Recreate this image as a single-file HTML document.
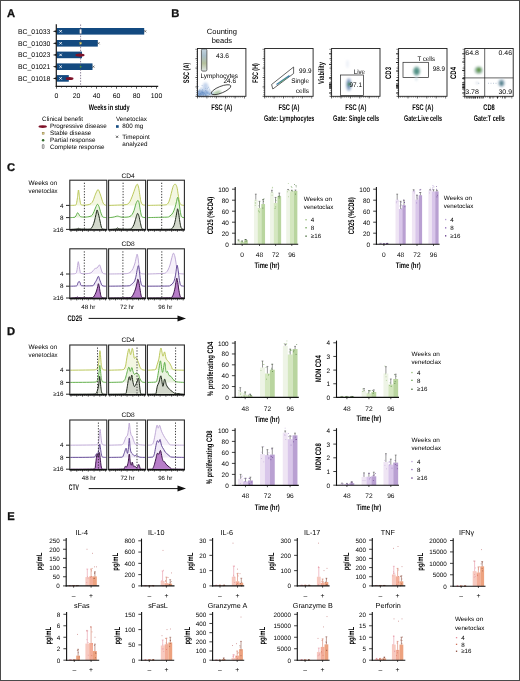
<!DOCTYPE html>
<html><head><meta charset="utf-8"><style>
html,body{margin:0;padding:0;background:#fff;}
svg{display:block;}
text{font-family:"Liberation Sans", sans-serif;}
.c{font-weight:bold;}
text{text-rendering:geometricPrecision;}
svg{will-change:transform;}
</style></head><body>
<svg width="520" height="681" viewBox="0 0 520 681">
<defs><filter id="sf" x="-50%" y="-50%" width="200%" height="200%"><feGaussianBlur stdDeviation="0.9"/></filter></defs>
<rect width="520" height="681" fill="#fff"/>
<rect x="0.5" y="0.5" width="519" height="680" fill="none" stroke="#4a4a4a" stroke-width="1"/>
<text x="7.1" y="16.9" font-size="11.2" font-weight="bold" fill="#111" stroke="#111" stroke-width="0.3">A</text>
<text x="171.3" y="16.9" font-size="11.2" font-weight="bold" fill="#111" stroke="#111" stroke-width="0.3">B</text>
<text x="7.1" y="170.9" font-size="11.2" font-weight="bold" fill="#111" stroke="#111" stroke-width="0.3">C</text>
<text x="7.1" y="334.9" font-size="11.2" font-weight="bold" fill="#111" stroke="#111" stroke-width="0.3">D</text>
<text x="7.3" y="520.2" font-size="11.2" font-weight="bold" fill="#111" stroke="#111" stroke-width="0.3">E</text>
<text x="50.4" y="33.8" font-size="6.9" text-anchor="end" textLength="32.4" lengthAdjust="spacingAndGlyphs">BC_01033</text>
<rect x="56.5" y="28" width="87.7" height="6.6" fill="#134a80"/>
<path d="M56.3 30.2 L52.8 31.3 L56.3 32.4 Z" fill="#1a1a1a"/>
<path d="M59.4 30.1L61.8 32.5M59.4 32.5L61.8 30.1" fill="none" stroke="#fff" stroke-width="0.9"/>
<text x="50.4" y="45.8" font-size="6.9" text-anchor="end" textLength="32.4" lengthAdjust="spacingAndGlyphs">BC_01030</text>
<rect x="56.5" y="40" width="41.3" height="6.6" fill="#134a80"/>
<path d="M56.3 42.2 L52.8 43.3 L56.3 44.4 Z" fill="#1a1a1a"/>
<path d="M59.4 42.1L61.8 44.5M59.4 44.5L61.8 42.1" fill="none" stroke="#fff" stroke-width="0.9"/>
<text x="50.4" y="57.4" font-size="6.9" text-anchor="end" textLength="32.4" lengthAdjust="spacingAndGlyphs">BC_01023</text>
<rect x="56.5" y="51.6" width="25.5" height="6.6" fill="#134a80"/>
<path d="M56.3 53.8 L52.8 54.9 L56.3 56 Z" fill="#1a1a1a"/>
<path d="M59.4 53.7L61.8 56.1M59.4 56.1L61.8 53.7" fill="none" stroke="#fff" stroke-width="0.9"/>
<text x="50.4" y="69.2" font-size="6.9" text-anchor="end" textLength="32.4" lengthAdjust="spacingAndGlyphs">BC_01021</text>
<rect x="56.5" y="63.4" width="36" height="6.6" fill="#134a80"/>
<path d="M56.3 65.6 L52.8 66.7 L56.3 67.8 Z" fill="#1a1a1a"/>
<path d="M59.4 65.5L61.8 67.9M59.4 67.9L61.8 65.5" fill="none" stroke="#fff" stroke-width="0.9"/>
<text x="50.4" y="80.9" font-size="6.9" text-anchor="end" textLength="32.4" lengthAdjust="spacingAndGlyphs">BC_01018</text>
<rect x="56.5" y="75.1" width="12.3" height="6.6" fill="#134a80"/>
<path d="M56.3 77.3 L52.8 78.4 L56.3 79.5 Z" fill="#1a1a1a"/>
<path d="M59.4 77.2L61.8 79.6M59.4 79.6L61.8 77.2" fill="none" stroke="#fff" stroke-width="0.9"/>
<line x1="80.6" y1="24.5" x2="80.6" y2="86" stroke="#5a4a6a" stroke-width="0.7" stroke-dasharray="1.4 1.4"/>
<rect x="79.7" y="29.2" width="1.8" height="4.2" fill="#fff" stroke="#888" stroke-width="0.3" rx="0.5"/>
<rect x="79.8" y="42.45" width="1.7" height="1.7" fill="#e8d870" stroke="#b8a840" stroke-width="0.3"/>
<ellipse cx="80" cy="55.1" rx="4.6" ry="1.6" fill="#7e1228"/>
<ellipse cx="80.6" cy="66.7" rx="0.9" ry="0.9" fill="#4a9a3a"/>
<ellipse cx="69.6" cy="78.6" rx="3.9" ry="1.5" fill="#7e1228"/>
<path d="M144.1 30.2L146.3 32.4M144.1 32.4L146.3 30.2" fill="none" stroke="#333" stroke-width="0.6"/>
<path d="M97.5 42.2L99.7 44.4M97.5 44.4L99.7 42.2" fill="none" stroke="#333" stroke-width="0.6"/>
<path d="M92.3 65.6L94.5 67.8M92.3 67.8L94.5 65.6" fill="none" stroke="#333" stroke-width="0.6"/>
<line x1="56.3" y1="24.2" x2="56.3" y2="86.9" stroke="#1a1a1a" stroke-width="1.2"/>
<line x1="55.7" y1="86.3" x2="158.2" y2="86.3" stroke="#1a1a1a" stroke-width="1.2"/>
<line x1="56.5" y1="86.3" x2="56.5" y2="88.7" stroke="#1a1a1a" stroke-width="0.7"/>
<line x1="61.5" y1="86.3" x2="61.5" y2="87.6" stroke="#1a1a1a" stroke-width="0.7"/>
<line x1="66.5" y1="86.3" x2="66.5" y2="87.6" stroke="#1a1a1a" stroke-width="0.7"/>
<line x1="71.5" y1="86.3" x2="71.5" y2="87.6" stroke="#1a1a1a" stroke-width="0.7"/>
<line x1="76.5" y1="86.3" x2="76.5" y2="88.7" stroke="#1a1a1a" stroke-width="0.7"/>
<line x1="81.5" y1="86.3" x2="81.5" y2="87.6" stroke="#1a1a1a" stroke-width="0.7"/>
<line x1="86.5" y1="86.3" x2="86.5" y2="87.6" stroke="#1a1a1a" stroke-width="0.7"/>
<line x1="91.5" y1="86.3" x2="91.5" y2="87.6" stroke="#1a1a1a" stroke-width="0.7"/>
<line x1="96.5" y1="86.3" x2="96.5" y2="88.7" stroke="#1a1a1a" stroke-width="0.7"/>
<line x1="101.5" y1="86.3" x2="101.5" y2="87.6" stroke="#1a1a1a" stroke-width="0.7"/>
<line x1="106.5" y1="86.3" x2="106.5" y2="87.6" stroke="#1a1a1a" stroke-width="0.7"/>
<line x1="111.5" y1="86.3" x2="111.5" y2="87.6" stroke="#1a1a1a" stroke-width="0.7"/>
<line x1="116.5" y1="86.3" x2="116.5" y2="88.7" stroke="#1a1a1a" stroke-width="0.7"/>
<line x1="121.5" y1="86.3" x2="121.5" y2="87.6" stroke="#1a1a1a" stroke-width="0.7"/>
<line x1="126.5" y1="86.3" x2="126.5" y2="87.6" stroke="#1a1a1a" stroke-width="0.7"/>
<line x1="131.5" y1="86.3" x2="131.5" y2="87.6" stroke="#1a1a1a" stroke-width="0.7"/>
<line x1="136.5" y1="86.3" x2="136.5" y2="88.7" stroke="#1a1a1a" stroke-width="0.7"/>
<line x1="141.5" y1="86.3" x2="141.5" y2="87.6" stroke="#1a1a1a" stroke-width="0.7"/>
<line x1="146.5" y1="86.3" x2="146.5" y2="87.6" stroke="#1a1a1a" stroke-width="0.7"/>
<line x1="151.5" y1="86.3" x2="151.5" y2="87.6" stroke="#1a1a1a" stroke-width="0.7"/>
<line x1="156.5" y1="86.3" x2="156.5" y2="88.7" stroke="#1a1a1a" stroke-width="0.7"/>
<text x="56.5" y="98.3" font-size="6.9" text-anchor="middle">0</text>
<text x="76.5" y="98.3" font-size="6.9" text-anchor="middle">20</text>
<text x="96.5" y="98.3" font-size="6.9" text-anchor="middle">40</text>
<text x="116.5" y="98.3" font-size="6.9" text-anchor="middle">60</text>
<text x="136.5" y="98.3" font-size="6.9" text-anchor="middle">80</text>
<text x="156.5" y="98.3" font-size="6.9" text-anchor="middle">100</text>
<text x="109.25" y="109.6" font-size="8.1" text-anchor="middle" textLength="40.9" lengthAdjust="spacingAndGlyphs" class="c">Weeks in study</text>
<text x="42.1" y="120.8" font-size="6.3">Clinical benefit</text>
<text x="50" y="128.2" font-size="6.3">Progressive disease</text>
<text x="50" y="135" font-size="6.3">Stable disease</text>
<text x="50" y="142" font-size="6.3">Partial response</text>
<text x="50" y="148.6" font-size="6.3">Complete response</text>
<ellipse cx="42.7" cy="126.6" rx="4.2" ry="1.45" fill="#7e1228"/>
<rect x="42.2" y="132.3" width="1.9" height="1.9" fill="#e8d890" stroke="#8a7a40" stroke-width="0.5"/>
<ellipse cx="43.1" cy="140.2" rx="1.25" ry="1.25" fill="#2f6a2a"/>
<rect x="42.3" y="144.6" width="1.7" height="3.9" fill="#fff" stroke="#444" stroke-width="0.6" rx="0.4"/>
<text x="116" y="120.8" font-size="6.3">Venetoclax</text>
<rect x="116" y="125.2" width="2.7" height="2.6" fill="#134a80"/>
<text x="122.3" y="128.2" font-size="6.3">800 mg</text>
<path d="M116 135.7L118.2 137.9M116 137.9L118.2 135.7" fill="none" stroke="#222" stroke-width="0.7"/>
<text x="122.3" y="138.6" font-size="6.3">Timepoint</text>
<text x="122.3" y="146.2" font-size="6.3">analyzed</text>
<text x="221.9" y="34.2" font-size="7.5" text-anchor="middle" textLength="30.3" lengthAdjust="spacingAndGlyphs">Counting</text>
<text x="221.9" y="42.8" font-size="7.5" text-anchor="middle">beads</text>
<line x1="195.3" y1="96.3" x2="197.5" y2="96.3" stroke="#222" stroke-width="0.6"/>
<line x1="197.5" y1="96.3" x2="197.5" y2="98.5" stroke="#222" stroke-width="0.6"/>
<line x1="195.3" y1="86.9" x2="197.5" y2="86.9" stroke="#222" stroke-width="0.6"/>
<line x1="206.9" y1="96.3" x2="206.9" y2="98.5" stroke="#222" stroke-width="0.6"/>
<line x1="195.3" y1="77.5" x2="197.5" y2="77.5" stroke="#222" stroke-width="0.6"/>
<line x1="216.3" y1="96.3" x2="216.3" y2="98.5" stroke="#222" stroke-width="0.6"/>
<line x1="195.3" y1="68.1" x2="197.5" y2="68.1" stroke="#222" stroke-width="0.6"/>
<line x1="225.7" y1="96.3" x2="225.7" y2="98.5" stroke="#222" stroke-width="0.6"/>
<line x1="195.3" y1="58.7" x2="197.5" y2="58.7" stroke="#222" stroke-width="0.6"/>
<line x1="235.1" y1="96.3" x2="235.1" y2="98.5" stroke="#222" stroke-width="0.6"/>
<line x1="195.3" y1="49.3" x2="197.5" y2="49.3" stroke="#222" stroke-width="0.6"/>
<line x1="244.5" y1="96.3" x2="244.5" y2="98.5" stroke="#222" stroke-width="0.6"/>
<line x1="196.1" y1="96.3" x2="197.5" y2="96.3" stroke="#222" stroke-width="0.5"/>
<line x1="197.5" y1="96.3" x2="197.5" y2="97.7" stroke="#222" stroke-width="0.5"/>
<line x1="196.1" y1="94.42" x2="197.5" y2="94.42" stroke="#222" stroke-width="0.5"/>
<line x1="199.38" y1="96.3" x2="199.38" y2="97.7" stroke="#222" stroke-width="0.5"/>
<line x1="196.1" y1="92.54" x2="197.5" y2="92.54" stroke="#222" stroke-width="0.5"/>
<line x1="201.26" y1="96.3" x2="201.26" y2="97.7" stroke="#222" stroke-width="0.5"/>
<line x1="196.1" y1="90.66" x2="197.5" y2="90.66" stroke="#222" stroke-width="0.5"/>
<line x1="203.14" y1="96.3" x2="203.14" y2="97.7" stroke="#222" stroke-width="0.5"/>
<line x1="196.1" y1="88.78" x2="197.5" y2="88.78" stroke="#222" stroke-width="0.5"/>
<line x1="205.02" y1="96.3" x2="205.02" y2="97.7" stroke="#222" stroke-width="0.5"/>
<line x1="196.1" y1="86.9" x2="197.5" y2="86.9" stroke="#222" stroke-width="0.5"/>
<line x1="206.9" y1="96.3" x2="206.9" y2="97.7" stroke="#222" stroke-width="0.5"/>
<line x1="196.1" y1="85.02" x2="197.5" y2="85.02" stroke="#222" stroke-width="0.5"/>
<line x1="208.78" y1="96.3" x2="208.78" y2="97.7" stroke="#222" stroke-width="0.5"/>
<line x1="196.1" y1="83.14" x2="197.5" y2="83.14" stroke="#222" stroke-width="0.5"/>
<line x1="210.66" y1="96.3" x2="210.66" y2="97.7" stroke="#222" stroke-width="0.5"/>
<line x1="196.1" y1="81.26" x2="197.5" y2="81.26" stroke="#222" stroke-width="0.5"/>
<line x1="212.54" y1="96.3" x2="212.54" y2="97.7" stroke="#222" stroke-width="0.5"/>
<line x1="196.1" y1="79.38" x2="197.5" y2="79.38" stroke="#222" stroke-width="0.5"/>
<line x1="214.42" y1="96.3" x2="214.42" y2="97.7" stroke="#222" stroke-width="0.5"/>
<line x1="196.1" y1="77.5" x2="197.5" y2="77.5" stroke="#222" stroke-width="0.5"/>
<line x1="216.3" y1="96.3" x2="216.3" y2="97.7" stroke="#222" stroke-width="0.5"/>
<line x1="196.1" y1="75.62" x2="197.5" y2="75.62" stroke="#222" stroke-width="0.5"/>
<line x1="218.18" y1="96.3" x2="218.18" y2="97.7" stroke="#222" stroke-width="0.5"/>
<line x1="196.1" y1="73.74" x2="197.5" y2="73.74" stroke="#222" stroke-width="0.5"/>
<line x1="220.06" y1="96.3" x2="220.06" y2="97.7" stroke="#222" stroke-width="0.5"/>
<line x1="196.1" y1="71.86" x2="197.5" y2="71.86" stroke="#222" stroke-width="0.5"/>
<line x1="221.94" y1="96.3" x2="221.94" y2="97.7" stroke="#222" stroke-width="0.5"/>
<line x1="196.1" y1="69.98" x2="197.5" y2="69.98" stroke="#222" stroke-width="0.5"/>
<line x1="223.82" y1="96.3" x2="223.82" y2="97.7" stroke="#222" stroke-width="0.5"/>
<line x1="196.1" y1="68.1" x2="197.5" y2="68.1" stroke="#222" stroke-width="0.5"/>
<line x1="225.7" y1="96.3" x2="225.7" y2="97.7" stroke="#222" stroke-width="0.5"/>
<line x1="196.1" y1="66.22" x2="197.5" y2="66.22" stroke="#222" stroke-width="0.5"/>
<line x1="227.58" y1="96.3" x2="227.58" y2="97.7" stroke="#222" stroke-width="0.5"/>
<line x1="196.1" y1="64.34" x2="197.5" y2="64.34" stroke="#222" stroke-width="0.5"/>
<line x1="229.46" y1="96.3" x2="229.46" y2="97.7" stroke="#222" stroke-width="0.5"/>
<line x1="196.1" y1="62.46" x2="197.5" y2="62.46" stroke="#222" stroke-width="0.5"/>
<line x1="231.34" y1="96.3" x2="231.34" y2="97.7" stroke="#222" stroke-width="0.5"/>
<line x1="196.1" y1="60.58" x2="197.5" y2="60.58" stroke="#222" stroke-width="0.5"/>
<line x1="233.22" y1="96.3" x2="233.22" y2="97.7" stroke="#222" stroke-width="0.5"/>
<line x1="196.1" y1="58.7" x2="197.5" y2="58.7" stroke="#222" stroke-width="0.5"/>
<line x1="235.1" y1="96.3" x2="235.1" y2="97.7" stroke="#222" stroke-width="0.5"/>
<line x1="196.1" y1="56.82" x2="197.5" y2="56.82" stroke="#222" stroke-width="0.5"/>
<line x1="236.98" y1="96.3" x2="236.98" y2="97.7" stroke="#222" stroke-width="0.5"/>
<line x1="196.1" y1="54.94" x2="197.5" y2="54.94" stroke="#222" stroke-width="0.5"/>
<line x1="238.86" y1="96.3" x2="238.86" y2="97.7" stroke="#222" stroke-width="0.5"/>
<line x1="196.1" y1="53.06" x2="197.5" y2="53.06" stroke="#222" stroke-width="0.5"/>
<line x1="240.74" y1="96.3" x2="240.74" y2="97.7" stroke="#222" stroke-width="0.5"/>
<line x1="196.1" y1="51.18" x2="197.5" y2="51.18" stroke="#222" stroke-width="0.5"/>
<line x1="242.62" y1="96.3" x2="242.62" y2="97.7" stroke="#222" stroke-width="0.5"/>
<text x="189.3" y="73" font-size="8.1" text-anchor="middle" textLength="20.5" lengthAdjust="spacingAndGlyphs" transform="rotate(-90 189.3 73)" class="c">SSC (A)</text>
<text x="221.7" y="110" font-size="8.1" text-anchor="middle" textLength="21" lengthAdjust="spacingAndGlyphs" class="c">FSC (A)</text>
<line x1="262.5" y1="96.3" x2="264.7" y2="96.3" stroke="#222" stroke-width="0.6"/>
<line x1="264.7" y1="96.3" x2="264.7" y2="98.5" stroke="#222" stroke-width="0.6"/>
<line x1="262.5" y1="86.9" x2="264.7" y2="86.9" stroke="#222" stroke-width="0.6"/>
<line x1="274.1" y1="96.3" x2="274.1" y2="98.5" stroke="#222" stroke-width="0.6"/>
<line x1="262.5" y1="77.5" x2="264.7" y2="77.5" stroke="#222" stroke-width="0.6"/>
<line x1="283.5" y1="96.3" x2="283.5" y2="98.5" stroke="#222" stroke-width="0.6"/>
<line x1="262.5" y1="68.1" x2="264.7" y2="68.1" stroke="#222" stroke-width="0.6"/>
<line x1="292.9" y1="96.3" x2="292.9" y2="98.5" stroke="#222" stroke-width="0.6"/>
<line x1="262.5" y1="58.7" x2="264.7" y2="58.7" stroke="#222" stroke-width="0.6"/>
<line x1="302.3" y1="96.3" x2="302.3" y2="98.5" stroke="#222" stroke-width="0.6"/>
<line x1="262.5" y1="49.3" x2="264.7" y2="49.3" stroke="#222" stroke-width="0.6"/>
<line x1="311.7" y1="96.3" x2="311.7" y2="98.5" stroke="#222" stroke-width="0.6"/>
<line x1="263.3" y1="96.3" x2="264.7" y2="96.3" stroke="#222" stroke-width="0.5"/>
<line x1="264.7" y1="96.3" x2="264.7" y2="97.7" stroke="#222" stroke-width="0.5"/>
<line x1="263.3" y1="94.42" x2="264.7" y2="94.42" stroke="#222" stroke-width="0.5"/>
<line x1="266.58" y1="96.3" x2="266.58" y2="97.7" stroke="#222" stroke-width="0.5"/>
<line x1="263.3" y1="92.54" x2="264.7" y2="92.54" stroke="#222" stroke-width="0.5"/>
<line x1="268.46" y1="96.3" x2="268.46" y2="97.7" stroke="#222" stroke-width="0.5"/>
<line x1="263.3" y1="90.66" x2="264.7" y2="90.66" stroke="#222" stroke-width="0.5"/>
<line x1="270.34" y1="96.3" x2="270.34" y2="97.7" stroke="#222" stroke-width="0.5"/>
<line x1="263.3" y1="88.78" x2="264.7" y2="88.78" stroke="#222" stroke-width="0.5"/>
<line x1="272.22" y1="96.3" x2="272.22" y2="97.7" stroke="#222" stroke-width="0.5"/>
<line x1="263.3" y1="86.9" x2="264.7" y2="86.9" stroke="#222" stroke-width="0.5"/>
<line x1="274.1" y1="96.3" x2="274.1" y2="97.7" stroke="#222" stroke-width="0.5"/>
<line x1="263.3" y1="85.02" x2="264.7" y2="85.02" stroke="#222" stroke-width="0.5"/>
<line x1="275.98" y1="96.3" x2="275.98" y2="97.7" stroke="#222" stroke-width="0.5"/>
<line x1="263.3" y1="83.14" x2="264.7" y2="83.14" stroke="#222" stroke-width="0.5"/>
<line x1="277.86" y1="96.3" x2="277.86" y2="97.7" stroke="#222" stroke-width="0.5"/>
<line x1="263.3" y1="81.26" x2="264.7" y2="81.26" stroke="#222" stroke-width="0.5"/>
<line x1="279.74" y1="96.3" x2="279.74" y2="97.7" stroke="#222" stroke-width="0.5"/>
<line x1="263.3" y1="79.38" x2="264.7" y2="79.38" stroke="#222" stroke-width="0.5"/>
<line x1="281.62" y1="96.3" x2="281.62" y2="97.7" stroke="#222" stroke-width="0.5"/>
<line x1="263.3" y1="77.5" x2="264.7" y2="77.5" stroke="#222" stroke-width="0.5"/>
<line x1="283.5" y1="96.3" x2="283.5" y2="97.7" stroke="#222" stroke-width="0.5"/>
<line x1="263.3" y1="75.62" x2="264.7" y2="75.62" stroke="#222" stroke-width="0.5"/>
<line x1="285.38" y1="96.3" x2="285.38" y2="97.7" stroke="#222" stroke-width="0.5"/>
<line x1="263.3" y1="73.74" x2="264.7" y2="73.74" stroke="#222" stroke-width="0.5"/>
<line x1="287.26" y1="96.3" x2="287.26" y2="97.7" stroke="#222" stroke-width="0.5"/>
<line x1="263.3" y1="71.86" x2="264.7" y2="71.86" stroke="#222" stroke-width="0.5"/>
<line x1="289.14" y1="96.3" x2="289.14" y2="97.7" stroke="#222" stroke-width="0.5"/>
<line x1="263.3" y1="69.98" x2="264.7" y2="69.98" stroke="#222" stroke-width="0.5"/>
<line x1="291.02" y1="96.3" x2="291.02" y2="97.7" stroke="#222" stroke-width="0.5"/>
<line x1="263.3" y1="68.1" x2="264.7" y2="68.1" stroke="#222" stroke-width="0.5"/>
<line x1="292.9" y1="96.3" x2="292.9" y2="97.7" stroke="#222" stroke-width="0.5"/>
<line x1="263.3" y1="66.22" x2="264.7" y2="66.22" stroke="#222" stroke-width="0.5"/>
<line x1="294.78" y1="96.3" x2="294.78" y2="97.7" stroke="#222" stroke-width="0.5"/>
<line x1="263.3" y1="64.34" x2="264.7" y2="64.34" stroke="#222" stroke-width="0.5"/>
<line x1="296.66" y1="96.3" x2="296.66" y2="97.7" stroke="#222" stroke-width="0.5"/>
<line x1="263.3" y1="62.46" x2="264.7" y2="62.46" stroke="#222" stroke-width="0.5"/>
<line x1="298.54" y1="96.3" x2="298.54" y2="97.7" stroke="#222" stroke-width="0.5"/>
<line x1="263.3" y1="60.58" x2="264.7" y2="60.58" stroke="#222" stroke-width="0.5"/>
<line x1="300.42" y1="96.3" x2="300.42" y2="97.7" stroke="#222" stroke-width="0.5"/>
<line x1="263.3" y1="58.7" x2="264.7" y2="58.7" stroke="#222" stroke-width="0.5"/>
<line x1="302.3" y1="96.3" x2="302.3" y2="97.7" stroke="#222" stroke-width="0.5"/>
<line x1="263.3" y1="56.82" x2="264.7" y2="56.82" stroke="#222" stroke-width="0.5"/>
<line x1="304.18" y1="96.3" x2="304.18" y2="97.7" stroke="#222" stroke-width="0.5"/>
<line x1="263.3" y1="54.94" x2="264.7" y2="54.94" stroke="#222" stroke-width="0.5"/>
<line x1="306.06" y1="96.3" x2="306.06" y2="97.7" stroke="#222" stroke-width="0.5"/>
<line x1="263.3" y1="53.06" x2="264.7" y2="53.06" stroke="#222" stroke-width="0.5"/>
<line x1="307.94" y1="96.3" x2="307.94" y2="97.7" stroke="#222" stroke-width="0.5"/>
<line x1="263.3" y1="51.18" x2="264.7" y2="51.18" stroke="#222" stroke-width="0.5"/>
<line x1="309.82" y1="96.3" x2="309.82" y2="97.7" stroke="#222" stroke-width="0.5"/>
<text x="257.5" y="73" font-size="8.1" text-anchor="middle" textLength="19.5" lengthAdjust="spacingAndGlyphs" transform="rotate(-90 257.5 73)" class="c">FSC (H)</text>
<text x="288.9" y="110" font-size="8.1" text-anchor="middle" textLength="21" lengthAdjust="spacingAndGlyphs" class="c">FSC (A)</text>
<text x="289.2" y="121" font-size="8.1" text-anchor="middle" textLength="50.3" lengthAdjust="spacingAndGlyphs" class="c">Gate: Lymphocytes</text>
<line x1="329.4" y1="96.3" x2="331.6" y2="96.3" stroke="#222" stroke-width="0.6"/>
<line x1="331.6" y1="96.3" x2="331.6" y2="98.5" stroke="#222" stroke-width="0.6"/>
<line x1="329.4" y1="86.9" x2="331.6" y2="86.9" stroke="#222" stroke-width="0.6"/>
<line x1="341" y1="96.3" x2="341" y2="98.5" stroke="#222" stroke-width="0.6"/>
<line x1="329.4" y1="77.5" x2="331.6" y2="77.5" stroke="#222" stroke-width="0.6"/>
<line x1="350.4" y1="96.3" x2="350.4" y2="98.5" stroke="#222" stroke-width="0.6"/>
<line x1="329.4" y1="68.1" x2="331.6" y2="68.1" stroke="#222" stroke-width="0.6"/>
<line x1="359.8" y1="96.3" x2="359.8" y2="98.5" stroke="#222" stroke-width="0.6"/>
<line x1="329.4" y1="58.7" x2="331.6" y2="58.7" stroke="#222" stroke-width="0.6"/>
<line x1="369.2" y1="96.3" x2="369.2" y2="98.5" stroke="#222" stroke-width="0.6"/>
<line x1="329.4" y1="49.3" x2="331.6" y2="49.3" stroke="#222" stroke-width="0.6"/>
<line x1="378.6" y1="96.3" x2="378.6" y2="98.5" stroke="#222" stroke-width="0.6"/>
<line x1="330.2" y1="96.3" x2="331.6" y2="96.3" stroke="#222" stroke-width="0.5"/>
<line x1="331.6" y1="96.3" x2="331.6" y2="97.7" stroke="#222" stroke-width="0.5"/>
<line x1="330.2" y1="94.42" x2="331.6" y2="94.42" stroke="#222" stroke-width="0.5"/>
<line x1="333.48" y1="96.3" x2="333.48" y2="97.7" stroke="#222" stroke-width="0.5"/>
<line x1="330.2" y1="92.54" x2="331.6" y2="92.54" stroke="#222" stroke-width="0.5"/>
<line x1="335.36" y1="96.3" x2="335.36" y2="97.7" stroke="#222" stroke-width="0.5"/>
<line x1="330.2" y1="90.66" x2="331.6" y2="90.66" stroke="#222" stroke-width="0.5"/>
<line x1="337.24" y1="96.3" x2="337.24" y2="97.7" stroke="#222" stroke-width="0.5"/>
<line x1="330.2" y1="88.78" x2="331.6" y2="88.78" stroke="#222" stroke-width="0.5"/>
<line x1="339.12" y1="96.3" x2="339.12" y2="97.7" stroke="#222" stroke-width="0.5"/>
<line x1="330.2" y1="86.9" x2="331.6" y2="86.9" stroke="#222" stroke-width="0.5"/>
<line x1="341" y1="96.3" x2="341" y2="97.7" stroke="#222" stroke-width="0.5"/>
<line x1="330.2" y1="85.02" x2="331.6" y2="85.02" stroke="#222" stroke-width="0.5"/>
<line x1="342.88" y1="96.3" x2="342.88" y2="97.7" stroke="#222" stroke-width="0.5"/>
<line x1="330.2" y1="83.14" x2="331.6" y2="83.14" stroke="#222" stroke-width="0.5"/>
<line x1="344.76" y1="96.3" x2="344.76" y2="97.7" stroke="#222" stroke-width="0.5"/>
<line x1="330.2" y1="81.26" x2="331.6" y2="81.26" stroke="#222" stroke-width="0.5"/>
<line x1="346.64" y1="96.3" x2="346.64" y2="97.7" stroke="#222" stroke-width="0.5"/>
<line x1="330.2" y1="79.38" x2="331.6" y2="79.38" stroke="#222" stroke-width="0.5"/>
<line x1="348.52" y1="96.3" x2="348.52" y2="97.7" stroke="#222" stroke-width="0.5"/>
<line x1="330.2" y1="77.5" x2="331.6" y2="77.5" stroke="#222" stroke-width="0.5"/>
<line x1="350.4" y1="96.3" x2="350.4" y2="97.7" stroke="#222" stroke-width="0.5"/>
<line x1="330.2" y1="75.62" x2="331.6" y2="75.62" stroke="#222" stroke-width="0.5"/>
<line x1="352.28" y1="96.3" x2="352.28" y2="97.7" stroke="#222" stroke-width="0.5"/>
<line x1="330.2" y1="73.74" x2="331.6" y2="73.74" stroke="#222" stroke-width="0.5"/>
<line x1="354.16" y1="96.3" x2="354.16" y2="97.7" stroke="#222" stroke-width="0.5"/>
<line x1="330.2" y1="71.86" x2="331.6" y2="71.86" stroke="#222" stroke-width="0.5"/>
<line x1="356.04" y1="96.3" x2="356.04" y2="97.7" stroke="#222" stroke-width="0.5"/>
<line x1="330.2" y1="69.98" x2="331.6" y2="69.98" stroke="#222" stroke-width="0.5"/>
<line x1="357.92" y1="96.3" x2="357.92" y2="97.7" stroke="#222" stroke-width="0.5"/>
<line x1="330.2" y1="68.1" x2="331.6" y2="68.1" stroke="#222" stroke-width="0.5"/>
<line x1="359.8" y1="96.3" x2="359.8" y2="97.7" stroke="#222" stroke-width="0.5"/>
<line x1="330.2" y1="66.22" x2="331.6" y2="66.22" stroke="#222" stroke-width="0.5"/>
<line x1="361.68" y1="96.3" x2="361.68" y2="97.7" stroke="#222" stroke-width="0.5"/>
<line x1="330.2" y1="64.34" x2="331.6" y2="64.34" stroke="#222" stroke-width="0.5"/>
<line x1="363.56" y1="96.3" x2="363.56" y2="97.7" stroke="#222" stroke-width="0.5"/>
<line x1="330.2" y1="62.46" x2="331.6" y2="62.46" stroke="#222" stroke-width="0.5"/>
<line x1="365.44" y1="96.3" x2="365.44" y2="97.7" stroke="#222" stroke-width="0.5"/>
<line x1="330.2" y1="60.58" x2="331.6" y2="60.58" stroke="#222" stroke-width="0.5"/>
<line x1="367.32" y1="96.3" x2="367.32" y2="97.7" stroke="#222" stroke-width="0.5"/>
<line x1="330.2" y1="58.7" x2="331.6" y2="58.7" stroke="#222" stroke-width="0.5"/>
<line x1="369.2" y1="96.3" x2="369.2" y2="97.7" stroke="#222" stroke-width="0.5"/>
<line x1="330.2" y1="56.82" x2="331.6" y2="56.82" stroke="#222" stroke-width="0.5"/>
<line x1="371.08" y1="96.3" x2="371.08" y2="97.7" stroke="#222" stroke-width="0.5"/>
<line x1="330.2" y1="54.94" x2="331.6" y2="54.94" stroke="#222" stroke-width="0.5"/>
<line x1="372.96" y1="96.3" x2="372.96" y2="97.7" stroke="#222" stroke-width="0.5"/>
<line x1="330.2" y1="53.06" x2="331.6" y2="53.06" stroke="#222" stroke-width="0.5"/>
<line x1="374.84" y1="96.3" x2="374.84" y2="97.7" stroke="#222" stroke-width="0.5"/>
<line x1="330.2" y1="51.18" x2="331.6" y2="51.18" stroke="#222" stroke-width="0.5"/>
<line x1="376.72" y1="96.3" x2="376.72" y2="97.7" stroke="#222" stroke-width="0.5"/>
<text x="324.3" y="73" font-size="8.1" text-anchor="middle" textLength="22" lengthAdjust="spacingAndGlyphs" transform="rotate(-90 324.3 73)" class="c">Viability</text>
<text x="355.8" y="110" font-size="8.1" text-anchor="middle" textLength="21" lengthAdjust="spacingAndGlyphs" class="c">FSC (A)</text>
<text x="356.1" y="121" font-size="8.1" text-anchor="middle" textLength="46" lengthAdjust="spacingAndGlyphs" class="c">Gate: Single cells</text>
<line x1="396.4" y1="96.3" x2="398.6" y2="96.3" stroke="#222" stroke-width="0.6"/>
<line x1="398.6" y1="96.3" x2="398.6" y2="98.5" stroke="#222" stroke-width="0.6"/>
<line x1="396.4" y1="86.9" x2="398.6" y2="86.9" stroke="#222" stroke-width="0.6"/>
<line x1="408" y1="96.3" x2="408" y2="98.5" stroke="#222" stroke-width="0.6"/>
<line x1="396.4" y1="77.5" x2="398.6" y2="77.5" stroke="#222" stroke-width="0.6"/>
<line x1="417.4" y1="96.3" x2="417.4" y2="98.5" stroke="#222" stroke-width="0.6"/>
<line x1="396.4" y1="68.1" x2="398.6" y2="68.1" stroke="#222" stroke-width="0.6"/>
<line x1="426.8" y1="96.3" x2="426.8" y2="98.5" stroke="#222" stroke-width="0.6"/>
<line x1="396.4" y1="58.7" x2="398.6" y2="58.7" stroke="#222" stroke-width="0.6"/>
<line x1="436.2" y1="96.3" x2="436.2" y2="98.5" stroke="#222" stroke-width="0.6"/>
<line x1="396.4" y1="49.3" x2="398.6" y2="49.3" stroke="#222" stroke-width="0.6"/>
<line x1="445.6" y1="96.3" x2="445.6" y2="98.5" stroke="#222" stroke-width="0.6"/>
<line x1="397.2" y1="96.3" x2="398.6" y2="96.3" stroke="#222" stroke-width="0.5"/>
<line x1="398.6" y1="96.3" x2="398.6" y2="97.7" stroke="#222" stroke-width="0.5"/>
<line x1="397.2" y1="94.42" x2="398.6" y2="94.42" stroke="#222" stroke-width="0.5"/>
<line x1="400.48" y1="96.3" x2="400.48" y2="97.7" stroke="#222" stroke-width="0.5"/>
<line x1="397.2" y1="92.54" x2="398.6" y2="92.54" stroke="#222" stroke-width="0.5"/>
<line x1="402.36" y1="96.3" x2="402.36" y2="97.7" stroke="#222" stroke-width="0.5"/>
<line x1="397.2" y1="90.66" x2="398.6" y2="90.66" stroke="#222" stroke-width="0.5"/>
<line x1="404.24" y1="96.3" x2="404.24" y2="97.7" stroke="#222" stroke-width="0.5"/>
<line x1="397.2" y1="88.78" x2="398.6" y2="88.78" stroke="#222" stroke-width="0.5"/>
<line x1="406.12" y1="96.3" x2="406.12" y2="97.7" stroke="#222" stroke-width="0.5"/>
<line x1="397.2" y1="86.9" x2="398.6" y2="86.9" stroke="#222" stroke-width="0.5"/>
<line x1="408" y1="96.3" x2="408" y2="97.7" stroke="#222" stroke-width="0.5"/>
<line x1="397.2" y1="85.02" x2="398.6" y2="85.02" stroke="#222" stroke-width="0.5"/>
<line x1="409.88" y1="96.3" x2="409.88" y2="97.7" stroke="#222" stroke-width="0.5"/>
<line x1="397.2" y1="83.14" x2="398.6" y2="83.14" stroke="#222" stroke-width="0.5"/>
<line x1="411.76" y1="96.3" x2="411.76" y2="97.7" stroke="#222" stroke-width="0.5"/>
<line x1="397.2" y1="81.26" x2="398.6" y2="81.26" stroke="#222" stroke-width="0.5"/>
<line x1="413.64" y1="96.3" x2="413.64" y2="97.7" stroke="#222" stroke-width="0.5"/>
<line x1="397.2" y1="79.38" x2="398.6" y2="79.38" stroke="#222" stroke-width="0.5"/>
<line x1="415.52" y1="96.3" x2="415.52" y2="97.7" stroke="#222" stroke-width="0.5"/>
<line x1="397.2" y1="77.5" x2="398.6" y2="77.5" stroke="#222" stroke-width="0.5"/>
<line x1="417.4" y1="96.3" x2="417.4" y2="97.7" stroke="#222" stroke-width="0.5"/>
<line x1="397.2" y1="75.62" x2="398.6" y2="75.62" stroke="#222" stroke-width="0.5"/>
<line x1="419.28" y1="96.3" x2="419.28" y2="97.7" stroke="#222" stroke-width="0.5"/>
<line x1="397.2" y1="73.74" x2="398.6" y2="73.74" stroke="#222" stroke-width="0.5"/>
<line x1="421.16" y1="96.3" x2="421.16" y2="97.7" stroke="#222" stroke-width="0.5"/>
<line x1="397.2" y1="71.86" x2="398.6" y2="71.86" stroke="#222" stroke-width="0.5"/>
<line x1="423.04" y1="96.3" x2="423.04" y2="97.7" stroke="#222" stroke-width="0.5"/>
<line x1="397.2" y1="69.98" x2="398.6" y2="69.98" stroke="#222" stroke-width="0.5"/>
<line x1="424.92" y1="96.3" x2="424.92" y2="97.7" stroke="#222" stroke-width="0.5"/>
<line x1="397.2" y1="68.1" x2="398.6" y2="68.1" stroke="#222" stroke-width="0.5"/>
<line x1="426.8" y1="96.3" x2="426.8" y2="97.7" stroke="#222" stroke-width="0.5"/>
<line x1="397.2" y1="66.22" x2="398.6" y2="66.22" stroke="#222" stroke-width="0.5"/>
<line x1="428.68" y1="96.3" x2="428.68" y2="97.7" stroke="#222" stroke-width="0.5"/>
<line x1="397.2" y1="64.34" x2="398.6" y2="64.34" stroke="#222" stroke-width="0.5"/>
<line x1="430.56" y1="96.3" x2="430.56" y2="97.7" stroke="#222" stroke-width="0.5"/>
<line x1="397.2" y1="62.46" x2="398.6" y2="62.46" stroke="#222" stroke-width="0.5"/>
<line x1="432.44" y1="96.3" x2="432.44" y2="97.7" stroke="#222" stroke-width="0.5"/>
<line x1="397.2" y1="60.58" x2="398.6" y2="60.58" stroke="#222" stroke-width="0.5"/>
<line x1="434.32" y1="96.3" x2="434.32" y2="97.7" stroke="#222" stroke-width="0.5"/>
<line x1="397.2" y1="58.7" x2="398.6" y2="58.7" stroke="#222" stroke-width="0.5"/>
<line x1="436.2" y1="96.3" x2="436.2" y2="97.7" stroke="#222" stroke-width="0.5"/>
<line x1="397.2" y1="56.82" x2="398.6" y2="56.82" stroke="#222" stroke-width="0.5"/>
<line x1="438.08" y1="96.3" x2="438.08" y2="97.7" stroke="#222" stroke-width="0.5"/>
<line x1="397.2" y1="54.94" x2="398.6" y2="54.94" stroke="#222" stroke-width="0.5"/>
<line x1="439.96" y1="96.3" x2="439.96" y2="97.7" stroke="#222" stroke-width="0.5"/>
<line x1="397.2" y1="53.06" x2="398.6" y2="53.06" stroke="#222" stroke-width="0.5"/>
<line x1="441.84" y1="96.3" x2="441.84" y2="97.7" stroke="#222" stroke-width="0.5"/>
<line x1="397.2" y1="51.18" x2="398.6" y2="51.18" stroke="#222" stroke-width="0.5"/>
<line x1="443.72" y1="96.3" x2="443.72" y2="97.7" stroke="#222" stroke-width="0.5"/>
<text x="390.6" y="73" font-size="8.1" text-anchor="middle" textLength="12" lengthAdjust="spacingAndGlyphs" transform="rotate(-90 390.6 73)" class="c">CD3</text>
<text x="422.8" y="110" font-size="8.1" text-anchor="middle" textLength="21" lengthAdjust="spacingAndGlyphs" class="c">FSC (A)</text>
<text x="423.1" y="121" font-size="8.1" text-anchor="middle" textLength="38" lengthAdjust="spacingAndGlyphs" class="c">Gate:Live cells</text>
<line x1="462.6" y1="96.3" x2="464.8" y2="96.3" stroke="#222" stroke-width="0.6"/>
<line x1="464.8" y1="96.3" x2="464.8" y2="98.5" stroke="#222" stroke-width="0.6"/>
<line x1="462.6" y1="86.9" x2="464.8" y2="86.9" stroke="#222" stroke-width="0.6"/>
<line x1="474.2" y1="96.3" x2="474.2" y2="98.5" stroke="#222" stroke-width="0.6"/>
<line x1="462.6" y1="77.5" x2="464.8" y2="77.5" stroke="#222" stroke-width="0.6"/>
<line x1="483.6" y1="96.3" x2="483.6" y2="98.5" stroke="#222" stroke-width="0.6"/>
<line x1="462.6" y1="68.1" x2="464.8" y2="68.1" stroke="#222" stroke-width="0.6"/>
<line x1="493" y1="96.3" x2="493" y2="98.5" stroke="#222" stroke-width="0.6"/>
<line x1="462.6" y1="58.7" x2="464.8" y2="58.7" stroke="#222" stroke-width="0.6"/>
<line x1="502.4" y1="96.3" x2="502.4" y2="98.5" stroke="#222" stroke-width="0.6"/>
<line x1="462.6" y1="49.3" x2="464.8" y2="49.3" stroke="#222" stroke-width="0.6"/>
<line x1="511.8" y1="96.3" x2="511.8" y2="98.5" stroke="#222" stroke-width="0.6"/>
<line x1="463.4" y1="96.3" x2="464.8" y2="96.3" stroke="#222" stroke-width="0.5"/>
<line x1="464.8" y1="96.3" x2="464.8" y2="97.7" stroke="#222" stroke-width="0.5"/>
<line x1="463.4" y1="94.42" x2="464.8" y2="94.42" stroke="#222" stroke-width="0.5"/>
<line x1="466.68" y1="96.3" x2="466.68" y2="97.7" stroke="#222" stroke-width="0.5"/>
<line x1="463.4" y1="92.54" x2="464.8" y2="92.54" stroke="#222" stroke-width="0.5"/>
<line x1="468.56" y1="96.3" x2="468.56" y2="97.7" stroke="#222" stroke-width="0.5"/>
<line x1="463.4" y1="90.66" x2="464.8" y2="90.66" stroke="#222" stroke-width="0.5"/>
<line x1="470.44" y1="96.3" x2="470.44" y2="97.7" stroke="#222" stroke-width="0.5"/>
<line x1="463.4" y1="88.78" x2="464.8" y2="88.78" stroke="#222" stroke-width="0.5"/>
<line x1="472.32" y1="96.3" x2="472.32" y2="97.7" stroke="#222" stroke-width="0.5"/>
<line x1="463.4" y1="86.9" x2="464.8" y2="86.9" stroke="#222" stroke-width="0.5"/>
<line x1="474.2" y1="96.3" x2="474.2" y2="97.7" stroke="#222" stroke-width="0.5"/>
<line x1="463.4" y1="85.02" x2="464.8" y2="85.02" stroke="#222" stroke-width="0.5"/>
<line x1="476.08" y1="96.3" x2="476.08" y2="97.7" stroke="#222" stroke-width="0.5"/>
<line x1="463.4" y1="83.14" x2="464.8" y2="83.14" stroke="#222" stroke-width="0.5"/>
<line x1="477.96" y1="96.3" x2="477.96" y2="97.7" stroke="#222" stroke-width="0.5"/>
<line x1="463.4" y1="81.26" x2="464.8" y2="81.26" stroke="#222" stroke-width="0.5"/>
<line x1="479.84" y1="96.3" x2="479.84" y2="97.7" stroke="#222" stroke-width="0.5"/>
<line x1="463.4" y1="79.38" x2="464.8" y2="79.38" stroke="#222" stroke-width="0.5"/>
<line x1="481.72" y1="96.3" x2="481.72" y2="97.7" stroke="#222" stroke-width="0.5"/>
<line x1="463.4" y1="77.5" x2="464.8" y2="77.5" stroke="#222" stroke-width="0.5"/>
<line x1="483.6" y1="96.3" x2="483.6" y2="97.7" stroke="#222" stroke-width="0.5"/>
<line x1="463.4" y1="75.62" x2="464.8" y2="75.62" stroke="#222" stroke-width="0.5"/>
<line x1="485.48" y1="96.3" x2="485.48" y2="97.7" stroke="#222" stroke-width="0.5"/>
<line x1="463.4" y1="73.74" x2="464.8" y2="73.74" stroke="#222" stroke-width="0.5"/>
<line x1="487.36" y1="96.3" x2="487.36" y2="97.7" stroke="#222" stroke-width="0.5"/>
<line x1="463.4" y1="71.86" x2="464.8" y2="71.86" stroke="#222" stroke-width="0.5"/>
<line x1="489.24" y1="96.3" x2="489.24" y2="97.7" stroke="#222" stroke-width="0.5"/>
<line x1="463.4" y1="69.98" x2="464.8" y2="69.98" stroke="#222" stroke-width="0.5"/>
<line x1="491.12" y1="96.3" x2="491.12" y2="97.7" stroke="#222" stroke-width="0.5"/>
<line x1="463.4" y1="68.1" x2="464.8" y2="68.1" stroke="#222" stroke-width="0.5"/>
<line x1="493" y1="96.3" x2="493" y2="97.7" stroke="#222" stroke-width="0.5"/>
<line x1="463.4" y1="66.22" x2="464.8" y2="66.22" stroke="#222" stroke-width="0.5"/>
<line x1="494.88" y1="96.3" x2="494.88" y2="97.7" stroke="#222" stroke-width="0.5"/>
<line x1="463.4" y1="64.34" x2="464.8" y2="64.34" stroke="#222" stroke-width="0.5"/>
<line x1="496.76" y1="96.3" x2="496.76" y2="97.7" stroke="#222" stroke-width="0.5"/>
<line x1="463.4" y1="62.46" x2="464.8" y2="62.46" stroke="#222" stroke-width="0.5"/>
<line x1="498.64" y1="96.3" x2="498.64" y2="97.7" stroke="#222" stroke-width="0.5"/>
<line x1="463.4" y1="60.58" x2="464.8" y2="60.58" stroke="#222" stroke-width="0.5"/>
<line x1="500.52" y1="96.3" x2="500.52" y2="97.7" stroke="#222" stroke-width="0.5"/>
<line x1="463.4" y1="58.7" x2="464.8" y2="58.7" stroke="#222" stroke-width="0.5"/>
<line x1="502.4" y1="96.3" x2="502.4" y2="97.7" stroke="#222" stroke-width="0.5"/>
<line x1="463.4" y1="56.82" x2="464.8" y2="56.82" stroke="#222" stroke-width="0.5"/>
<line x1="504.28" y1="96.3" x2="504.28" y2="97.7" stroke="#222" stroke-width="0.5"/>
<line x1="463.4" y1="54.94" x2="464.8" y2="54.94" stroke="#222" stroke-width="0.5"/>
<line x1="506.16" y1="96.3" x2="506.16" y2="97.7" stroke="#222" stroke-width="0.5"/>
<line x1="463.4" y1="53.06" x2="464.8" y2="53.06" stroke="#222" stroke-width="0.5"/>
<line x1="508.04" y1="96.3" x2="508.04" y2="97.7" stroke="#222" stroke-width="0.5"/>
<line x1="463.4" y1="51.18" x2="464.8" y2="51.18" stroke="#222" stroke-width="0.5"/>
<line x1="509.92" y1="96.3" x2="509.92" y2="97.7" stroke="#222" stroke-width="0.5"/>
<text x="456.3" y="73" font-size="8.1" text-anchor="middle" textLength="12" lengthAdjust="spacingAndGlyphs" transform="rotate(-90 456.3 73)" class="c">CD4</text>
<text x="489" y="110" font-size="8.1" text-anchor="middle" textLength="11.5" lengthAdjust="spacingAndGlyphs" class="c">CD8</text>
<text x="489.3" y="121" font-size="8.1" text-anchor="middle" textLength="31" lengthAdjust="spacingAndGlyphs" class="c">Gate:T cells</text>
<g filter="url(#sf)">
<ellipse cx="203.5" cy="92.5" rx="6.5" ry="3.5" fill="#b6cbe6"/>
<ellipse cx="205.5" cy="87.5" rx="3" ry="5" fill="#c4d4ec"/>
<ellipse cx="201" cy="93.5" rx="3.5" ry="2.5" fill="#7fa3d2"/>
<ellipse cx="207" cy="93" rx="3" ry="2" fill="#8fb0da"/>
<ellipse cx="211" cy="93.5" rx="2.5" ry="1.5" fill="#a9c2e2"/>
<ellipse cx="217" cy="92.8" rx="4.2" ry="1.6" fill="#a8c8a0" transform="rotate(-20 217 92.8)"/>
</g>
<rect x="198.32" y="91.25" width="0.8" height="0.8" fill="#6b93c8" opacity="0.6"/>
<rect x="203.19" y="93.83" width="0.8" height="0.8" fill="#5a86c0" opacity="0.6"/>
<rect x="198.62" y="95.75" width="0.8" height="0.8" fill="#6b93c8" opacity="0.6"/>
<rect x="198.04" y="93.23" width="0.8" height="0.8" fill="#5a86c0" opacity="0.6"/>
<rect x="208.08" y="94.66" width="0.8" height="0.8" fill="#6b93c8" opacity="0.6"/>
<rect x="206.52" y="91.45" width="0.8" height="0.8" fill="#7fa3d0" opacity="0.6"/>
<rect x="205.13" y="90.27" width="0.8" height="0.8" fill="#5a86c0" opacity="0.6"/>
<rect x="198.54" y="95.58" width="0.8" height="0.8" fill="#7fa3d0" opacity="0.6"/>
<rect x="205.25" y="87.96" width="0.8" height="0.8" fill="#7fa3d0" opacity="0.6"/>
<rect x="198.24" y="95.1" width="0.8" height="0.8" fill="#6b93c8" opacity="0.6"/>
<rect x="206.43" y="94.97" width="0.8" height="0.8" fill="#6b93c8" opacity="0.6"/>
<rect x="200.57" y="87.65" width="0.8" height="0.8" fill="#6b93c8" opacity="0.6"/>
<rect x="198.79" y="91.06" width="0.8" height="0.8" fill="#7fa3d0" opacity="0.6"/>
<rect x="199.6" y="94.81" width="0.8" height="0.8" fill="#7fa3d0" opacity="0.6"/>
<rect x="202.05" y="95.91" width="0.8" height="0.8" fill="#5a86c0" opacity="0.6"/>
<rect x="204.91" y="93.92" width="0.8" height="0.8" fill="#6b93c8" opacity="0.6"/>
<rect x="206.96" y="92.58" width="0.8" height="0.8" fill="#5a86c0" opacity="0.6"/>
<rect x="202.12" y="91.94" width="0.8" height="0.8" fill="#5a86c0" opacity="0.6"/>
<rect x="198.35" y="92.58" width="0.8" height="0.8" fill="#7fa3d0" opacity="0.6"/>
<rect x="208.26" y="86.85" width="0.8" height="0.8" fill="#5a86c0" opacity="0.6"/>
<rect x="200.66" y="90.46" width="0.8" height="0.8" fill="#6b93c8" opacity="0.6"/>
<rect x="209.43" y="94.18" width="0.8" height="0.8" fill="#5a86c0" opacity="0.6"/>
<rect x="204.17" y="92.63" width="0.8" height="0.8" fill="#5a86c0" opacity="0.6"/>
<rect x="201.32" y="91.68" width="0.8" height="0.8" fill="#6b93c8" opacity="0.6"/>
<rect x="202.28" y="92.93" width="0.8" height="0.8" fill="#5a86c0" opacity="0.6"/>
<rect x="200.16" y="95.9" width="0.8" height="0.8" fill="#7fa3d0" opacity="0.6"/>
<rect x="200.46" y="94.84" width="0.8" height="0.8" fill="#6b93c8" opacity="0.6"/>
<rect x="202.91" y="94.26" width="0.8" height="0.8" fill="#7fa3d0" opacity="0.6"/>
<rect x="205.1" y="94.56" width="0.8" height="0.8" fill="#7fa3d0" opacity="0.6"/>
<rect x="203.06" y="92.49" width="0.8" height="0.8" fill="#5a86c0" opacity="0.6"/>
<rect x="209.12" y="88.74" width="0.8" height="0.8" fill="#5a86c0" opacity="0.6"/>
<rect x="197.93" y="94.97" width="0.8" height="0.8" fill="#7fa3d0" opacity="0.6"/>
<rect x="204.39" y="93.61" width="0.8" height="0.8" fill="#7fa3d0" opacity="0.6"/>
<rect x="211.72" y="92.8" width="0.8" height="0.8" fill="#6b93c8" opacity="0.6"/>
<rect x="200.26" y="94.58" width="0.8" height="0.8" fill="#7fa3d0" opacity="0.6"/>
<rect x="202.77" y="95.56" width="0.8" height="0.8" fill="#6b93c8" opacity="0.6"/>
<rect x="209.13" y="93.92" width="0.8" height="0.8" fill="#6b93c8" opacity="0.6"/>
<rect x="205.74" y="90.63" width="0.8" height="0.8" fill="#6b93c8" opacity="0.6"/>
<rect x="202.38" y="91.98" width="0.8" height="0.8" fill="#5a86c0" opacity="0.6"/>
<rect x="209.61" y="89.87" width="0.8" height="0.8" fill="#5a86c0" opacity="0.6"/>
<rect x="198.84" y="90.66" width="0.8" height="0.8" fill="#5a86c0" opacity="0.6"/>
<rect x="198.16" y="92.79" width="0.8" height="0.8" fill="#6b93c8" opacity="0.6"/>
<rect x="204.67" y="95.37" width="0.8" height="0.8" fill="#7fa3d0" opacity="0.6"/>
<rect x="201.69" y="85.08" width="0.8" height="0.8" fill="#6b93c8" opacity="0.6"/>
<rect x="205.35" y="95.34" width="0.8" height="0.8" fill="#5a86c0" opacity="0.6"/>
<rect x="203.02" y="92" width="0.8" height="0.8" fill="#6b93c8" opacity="0.6"/>
<rect x="205.91" y="94.79" width="0.8" height="0.8" fill="#6b93c8" opacity="0.6"/>
<rect x="201.25" y="94.06" width="0.8" height="0.8" fill="#6b93c8" opacity="0.6"/>
<rect x="199.73" y="95.81" width="0.8" height="0.8" fill="#5a86c0" opacity="0.6"/>
<rect x="203.03" y="95.51" width="0.8" height="0.8" fill="#5a86c0" opacity="0.6"/>
<rect x="204.9" y="94.62" width="0.8" height="0.8" fill="#6b93c8" opacity="0.6"/>
<rect x="199.35" y="93.82" width="0.8" height="0.8" fill="#6b93c8" opacity="0.6"/>
<rect x="200.2" y="93.53" width="0.8" height="0.8" fill="#6b93c8" opacity="0.6"/>
<rect x="205.76" y="91.74" width="0.8" height="0.8" fill="#5a86c0" opacity="0.6"/>
<rect x="198.98" y="94.16" width="0.8" height="0.8" fill="#5a86c0" opacity="0.6"/>
<rect x="199.5" y="89.24" width="0.8" height="0.8" fill="#7fa3d0" opacity="0.6"/>
<rect x="201.69" y="90.95" width="0.8" height="0.8" fill="#5a86c0" opacity="0.6"/>
<rect x="198.62" y="94.33" width="0.8" height="0.8" fill="#6b93c8" opacity="0.6"/>
<rect x="205.63" y="94.21" width="0.8" height="0.8" fill="#7fa3d0" opacity="0.6"/>
<rect x="207.82" y="93.18" width="0.8" height="0.8" fill="#7fa3d0" opacity="0.6"/>
<rect x="205.74" y="92.99" width="0.8" height="0.8" fill="#7fa3d0" opacity="0.6"/>
<rect x="202.32" y="93.25" width="0.8" height="0.8" fill="#7fa3d0" opacity="0.6"/>
<rect x="198.13" y="95.03" width="0.8" height="0.8" fill="#7fa3d0" opacity="0.6"/>
<rect x="201.96" y="89.37" width="0.8" height="0.8" fill="#5a86c0" opacity="0.6"/>
<rect x="199.6" y="93.19" width="0.8" height="0.8" fill="#5a86c0" opacity="0.6"/>
<rect x="204.37" y="93.3" width="0.8" height="0.8" fill="#5a86c0" opacity="0.6"/>
<rect x="200.93" y="93.7" width="0.8" height="0.8" fill="#6b93c8" opacity="0.6"/>
<rect x="205.41" y="94.82" width="0.8" height="0.8" fill="#6b93c8" opacity="0.6"/>
<rect x="202.74" y="94.12" width="0.8" height="0.8" fill="#6b93c8" opacity="0.6"/>
<rect x="198.1" y="95.69" width="0.8" height="0.8" fill="#5a86c0" opacity="0.6"/>
<rect x="203.65" y="95.67" width="0.8" height="0.8" fill="#5a86c0" opacity="0.6"/>
<rect x="199.39" y="89.81" width="0.8" height="0.8" fill="#5a86c0" opacity="0.6"/>
<rect x="197.98" y="86.23" width="0.8" height="0.8" fill="#5a86c0" opacity="0.6"/>
<rect x="199.94" y="93.7" width="0.8" height="0.8" fill="#7fa3d0" opacity="0.6"/>
<rect x="206.98" y="88.13" width="0.8" height="0.8" fill="#7fa3d0" opacity="0.6"/>
<rect x="198.42" y="94.93" width="0.8" height="0.8" fill="#5a86c0" opacity="0.6"/>
<rect x="201.45" y="95.8" width="0.8" height="0.8" fill="#6b93c8" opacity="0.6"/>
<rect x="198.59" y="95.71" width="0.8" height="0.8" fill="#5a86c0" opacity="0.6"/>
<rect x="202.52" y="92.91" width="0.8" height="0.8" fill="#7fa3d0" opacity="0.6"/>
<rect x="201.29" y="92.04" width="0.8" height="0.8" fill="#6b93c8" opacity="0.6"/>
<rect x="209.28" y="93.24" width="0.8" height="0.8" fill="#7fa3d0" opacity="0.6"/>
<rect x="200.08" y="93.57" width="0.8" height="0.8" fill="#5a86c0" opacity="0.6"/>
<rect x="207.31" y="95.05" width="0.8" height="0.8" fill="#6b93c8" opacity="0.6"/>
<rect x="198.31" y="94.09" width="0.8" height="0.8" fill="#7fa3d0" opacity="0.6"/>
<rect x="202.42" y="90.08" width="0.8" height="0.8" fill="#7fa3d0" opacity="0.6"/>
<rect x="198.1" y="95.58" width="0.8" height="0.8" fill="#5a86c0" opacity="0.6"/>
<rect x="202.82" y="94.34" width="0.8" height="0.8" fill="#6b93c8" opacity="0.6"/>
<rect x="197.88" y="90.73" width="0.8" height="0.8" fill="#5a86c0" opacity="0.6"/>
<rect x="203.31" y="94" width="0.8" height="0.8" fill="#7fa3d0" opacity="0.6"/>
<rect x="203.72" y="90.86" width="0.8" height="0.8" fill="#7fa3d0" opacity="0.6"/>
<ellipse cx="221" cy="89.7" rx="10.5" ry="3.3" fill="none" stroke="#222" stroke-width="0.75" transform="rotate(-22 221 89.7)"/>
<defs><linearGradient id="bg1" x1="0" y1="0" x2="0" y2="1"><stop offset="0" stop-color="#c4d4de"/><stop offset="0.3" stop-color="#a9bfcb"/><stop offset="0.65" stop-color="#b4c09c"/><stop offset="1" stop-color="#dfe6e6"/></linearGradient></defs>
<rect x="201.4" y="48.9" width="5.5" height="22.2" fill="url(#bg1)" stroke="#4a4a4a" stroke-width="0.8" rx="1.4"/>
<text x="216" y="58.2" font-size="6.7" textLength="13" lengthAdjust="spacingAndGlyphs">43.6</text>
<text x="200.5" y="78.2" font-size="6.5" textLength="37.5" lengthAdjust="spacingAndGlyphs">Lymphocytes</text>
<text x="223.5" y="83.2" font-size="6.7" textLength="12.5" lengthAdjust="spacingAndGlyphs">24.6</text>
<path d="M271.6 84.5 L293.6 67.0 L293.6 73.5 L272.8 89.0 Z" fill="none" stroke="#222" stroke-width="0.7"/>
<path d="M276.5 84.5 L289.5 75.6" fill="none" stroke="#3d7fa8" stroke-width="1.4"/>
<path d="M279 83.3 L287 77.8" fill="none" stroke="#6aa86a" stroke-width="0.8"/>
<text x="299" y="73.2" font-size="6.7" textLength="12.5" lengthAdjust="spacingAndGlyphs">99.9</text>
<text x="291.2" y="83.2" font-size="6.7" textLength="17.8" lengthAdjust="spacingAndGlyphs">Single</text>
<text x="295.8" y="92.6" font-size="6.7" textLength="13.2" lengthAdjust="spacingAndGlyphs">cells</text>
<rect x="340.5" y="75" width="23" height="20.4" fill="none" stroke="#222" stroke-width="0.7"/>
<g filter="url(#sf)">
<ellipse cx="348.8" cy="84.6" rx="2.8" ry="6.5" fill="#a4b8d4"/>
<ellipse cx="348.9" cy="84.5" rx="1.8" ry="4" fill="#7090b8"/>
<ellipse cx="349.2" cy="84.3" rx="1.5" ry="1.8" fill="#3a8a3a"/>
<ellipse cx="347.5" cy="64" rx="1.6" ry="4" fill="#eef2f8"/>
</g>
<text x="353.8" y="73.6" font-size="6.7" textLength="11.2" lengthAdjust="spacingAndGlyphs">Live</text>
<text x="349.5" y="87" font-size="6.7" textLength="12.5" lengthAdjust="spacingAndGlyphs">97.1</text>
<rect x="403" y="62.3" width="25.5" height="15.1" fill="none" stroke="#222" stroke-width="0.7"/>
<g filter="url(#sf)">
<ellipse cx="416.6" cy="71.2" rx="3.6" ry="4.6" fill="#88b4ac"/>
<ellipse cx="416.6" cy="71.3" rx="2.2" ry="3" fill="#4c8e84"/>
<ellipse cx="416.4" cy="78.5" rx="1" ry="2.5" fill="#d4e2ea"/>
</g>
<text x="417.4" y="61.2" font-size="6.7" textLength="17.6" lengthAdjust="spacingAndGlyphs">T cells</text>
<text x="432.8" y="70.6" font-size="6.7" textLength="12.3" lengthAdjust="spacingAndGlyphs">98.9</text>
<line x1="484.7" y1="48.5" x2="484.7" y2="96.3" stroke="#222" stroke-width="0.7"/>
<line x1="464.8" y1="77.9" x2="513.2" y2="77.9" stroke="#222" stroke-width="0.7"/>
<g filter="url(#sf)">
<ellipse cx="478.6" cy="70.2" rx="4" ry="3.8" fill="#a4c0b0"/>
<ellipse cx="478.8" cy="70" rx="2.4" ry="2.4" fill="#5c9440"/>
<ellipse cx="501.5" cy="83.1" rx="3.2" ry="3.8" fill="#a8bccc"/>
<ellipse cx="501.5" cy="83.2" rx="1.9" ry="2.5" fill="#4e8088"/>
<ellipse cx="477" cy="83" rx="1.2" ry="0.8" fill="#b8c4d4"/>
</g>
<rect x="478.2" y="82.8" width="1" height="0.9" fill="#b8c4d4"/>
<rect x="488" y="82.8" width="1" height="0.9" fill="#b8c4d4"/>
<rect x="490.5" y="82.8" width="1" height="0.9" fill="#b8c4d4"/>
<rect x="493" y="82.8" width="1" height="0.9" fill="#b8c4d4"/>
<rect x="495.5" y="82.8" width="1" height="0.9" fill="#b8c4d4"/>
<text x="465.2" y="55.2" font-size="6.7" textLength="13.8" lengthAdjust="spacingAndGlyphs">64.8</text>
<text x="498.5" y="55.2" font-size="6.7" textLength="13.5" lengthAdjust="spacingAndGlyphs">0.46</text>
<text x="465.2" y="93.9" font-size="6.7" textLength="13.8" lengthAdjust="spacingAndGlyphs">3.78</text>
<text x="498.5" y="93.9" font-size="6.7" textLength="13.5" lengthAdjust="spacingAndGlyphs">30.9</text>
<line x1="329" y1="53.8" x2="331.6" y2="53.8" stroke="#111" stroke-width="0.9"/>
<line x1="329" y1="64.4" x2="331.6" y2="64.4" stroke="#111" stroke-width="0.9"/>
<line x1="329" y1="78.1" x2="331.6" y2="78.1" stroke="#111" stroke-width="0.9"/>
<line x1="329" y1="83" x2="331.6" y2="83" stroke="#111" stroke-width="0.9"/>
<line x1="329" y1="84.5" x2="331.6" y2="84.5" stroke="#111" stroke-width="0.9"/>
<line x1="329" y1="85.8" x2="331.6" y2="85.8" stroke="#111" stroke-width="0.9"/>
<line x1="329" y1="87" x2="331.6" y2="87" stroke="#111" stroke-width="0.9"/>
<line x1="329" y1="88.2" x2="331.6" y2="88.2" stroke="#111" stroke-width="0.9"/>
<line x1="329" y1="93" x2="331.6" y2="93" stroke="#111" stroke-width="0.9"/>
<line x1="396" y1="53.8" x2="398.6" y2="53.8" stroke="#111" stroke-width="0.9"/>
<line x1="396" y1="62.5" x2="398.6" y2="62.5" stroke="#111" stroke-width="0.9"/>
<line x1="396" y1="71" x2="398.6" y2="71" stroke="#111" stroke-width="0.9"/>
<line x1="396" y1="80.5" x2="398.6" y2="80.5" stroke="#111" stroke-width="0.9"/>
<line x1="396" y1="84" x2="398.6" y2="84" stroke="#111" stroke-width="0.9"/>
<line x1="396" y1="85.5" x2="398.6" y2="85.5" stroke="#111" stroke-width="0.9"/>
<line x1="396" y1="86.8" x2="398.6" y2="86.8" stroke="#111" stroke-width="0.9"/>
<line x1="396" y1="88" x2="398.6" y2="88" stroke="#111" stroke-width="0.9"/>
<line x1="396" y1="93" x2="398.6" y2="93" stroke="#111" stroke-width="0.9"/>
<line x1="462.2" y1="53.8" x2="464.8" y2="53.8" stroke="#111" stroke-width="0.9"/>
<line x1="462.2" y1="62" x2="464.8" y2="62" stroke="#111" stroke-width="0.9"/>
<line x1="462.2" y1="70.5" x2="464.8" y2="70.5" stroke="#111" stroke-width="0.9"/>
<line x1="462.2" y1="78.6" x2="464.8" y2="78.6" stroke="#111" stroke-width="0.9"/>
<line x1="462.2" y1="82.8" x2="464.8" y2="82.8" stroke="#111" stroke-width="0.9"/>
<line x1="462.2" y1="84.5" x2="464.8" y2="84.5" stroke="#111" stroke-width="0.9"/>
<line x1="462.2" y1="86" x2="464.8" y2="86" stroke="#111" stroke-width="0.9"/>
<line x1="462.2" y1="87.5" x2="464.8" y2="87.5" stroke="#111" stroke-width="0.9"/>
<line x1="462.2" y1="89" x2="464.8" y2="89" stroke="#111" stroke-width="0.9"/>
<line x1="462.2" y1="93" x2="464.8" y2="93" stroke="#111" stroke-width="0.9"/>
<line x1="467" y1="96.3" x2="467" y2="98.6" stroke="#111" stroke-width="0.9"/>
<line x1="469.2" y1="96.3" x2="469.2" y2="98.6" stroke="#111" stroke-width="0.9"/>
<line x1="471.2" y1="96.3" x2="471.2" y2="98.6" stroke="#111" stroke-width="0.9"/>
<line x1="473.2" y1="96.3" x2="473.2" y2="98.6" stroke="#111" stroke-width="0.9"/>
<line x1="475.4" y1="96.3" x2="475.4" y2="98.6" stroke="#111" stroke-width="0.9"/>
<line x1="477.6" y1="96.3" x2="477.6" y2="98.6" stroke="#111" stroke-width="0.9"/>
<line x1="479.8" y1="96.3" x2="479.8" y2="98.6" stroke="#111" stroke-width="0.9"/>
<line x1="482" y1="96.3" x2="482" y2="98.6" stroke="#111" stroke-width="0.9"/>
<line x1="490" y1="96.3" x2="490" y2="98.6" stroke="#111" stroke-width="0.9"/>
<line x1="497.5" y1="96.3" x2="497.5" y2="98.6" stroke="#111" stroke-width="0.9"/>
<line x1="505" y1="96.3" x2="505" y2="98.6" stroke="#111" stroke-width="0.9"/>
<rect x="197.5" y="48.5" width="48.4" height="47.8" fill="none" stroke="#1e1e1e" stroke-width="0.9"/>
<rect x="264.7" y="48.5" width="48.4" height="47.8" fill="none" stroke="#1e1e1e" stroke-width="0.9"/>
<rect x="331.6" y="48.5" width="48.4" height="47.8" fill="none" stroke="#1e1e1e" stroke-width="0.9"/>
<rect x="398.6" y="48.5" width="48.4" height="47.8" fill="none" stroke="#1e1e1e" stroke-width="0.9"/>
<rect x="464.8" y="48.5" width="48.4" height="47.8" fill="none" stroke="#1e1e1e" stroke-width="0.9"/>
<text x="128" y="177.6" font-size="6.6" text-anchor="middle">CD4</text>
<text x="63.6" y="207.6" font-size="6.3" text-anchor="end">4</text>
<line x1="66" y1="205.4" x2="69.8" y2="205.4" stroke="#111" stroke-width="0.9"/>
<text x="63.6" y="219.8" font-size="6.3" text-anchor="end">8</text>
<line x1="66" y1="217.6" x2="69.8" y2="217.6" stroke="#111" stroke-width="0.9"/>
<text x="63.6" y="231.6" font-size="6.3" text-anchor="end">≥16</text>
<line x1="66" y1="229.4" x2="69.8" y2="229.4" stroke="#111" stroke-width="0.9"/>
<path d="M70.3 205.4 C71.13 205.35 74.51 205.4 75.5 205.1 C76.49 204.78 76.18 204.63 76.5 203.4 C76.82 202.17 77.18 199.54 77.5 197.4 C77.82 195.26 78.18 190 78.5 190 C78.82 190 79.18 195.26 79.5 197.4 C79.82 199.54 80.18 202.2 80.5 203.4 C80.82 204.6 80.94 204.63 81.5 204.9 C82.06 205.17 82.96 205.12 84 205.1 C85.04 205.08 86.88 205.04 88 204.8 C89.12 204.56 90.2 204.22 91 203.6 C91.8 202.98 92.36 202.21 93 200.9 C93.64 199.59 94.36 197 95 195.4 C95.64 193.8 96.52 191.83 97 190.9 C97.48 189.97 97.68 189.6 98 189.6 C98.32 189.6 98.52 189.81 99 190.9 C99.48 191.99 100.44 194.72 101 196.4 C101.56 198.08 102.02 200.12 102.5 201.4 C102.98 202.68 103.39 203.76 104 204.4 C104.61 205.04 105.93 205.24 106.3 205.4 L106.3 205.4 L70.3 205.4 Z" fill="#f4f7e2"/>
<path d="M70.3 205.4 C71.13 205.35 74.51 205.4 75.5 205.1 C76.49 204.78 76.18 204.63 76.5 203.4 C76.82 202.17 77.18 199.54 77.5 197.4 C77.82 195.26 78.18 190 78.5 190 C78.82 190 79.18 195.26 79.5 197.4 C79.82 199.54 80.18 202.2 80.5 203.4 C80.82 204.6 80.94 204.63 81.5 204.9 C82.06 205.17 82.96 205.12 84 205.1 C85.04 205.08 86.88 205.04 88 204.8 C89.12 204.56 90.2 204.22 91 203.6 C91.8 202.98 92.36 202.21 93 200.9 C93.64 199.59 94.36 197 95 195.4 C95.64 193.8 96.52 191.83 97 190.9 C97.48 189.97 97.68 189.6 98 189.6 C98.32 189.6 98.52 189.81 99 190.9 C99.48 191.99 100.44 194.72 101 196.4 C101.56 198.08 102.02 200.12 102.5 201.4 C102.98 202.68 103.39 203.76 104 204.4 C104.61 205.04 105.93 205.24 106.3 205.4" fill="none" stroke="#b3c24a" stroke-width="0.9" stroke-linejoin="round"/>
<path d="M70.3 217.6 C71.05 217.52 74.01 217.58 75 217.1 C75.99 216.62 76.07 215.3 76.5 214.6 C76.93 213.9 77.3 212.7 77.7 212.7 C78.1 212.7 78.55 213.98 79 214.6 C79.45 215.22 79.54 216.2 80.5 216.6 C81.46 217 83.48 217.13 85 217.1 C86.52 217.07 88.85 216.72 90 216.4 C91.15 216.08 91.56 215.87 92.2 215.1 C92.84 214.33 93.39 212.96 94 211.6 C94.61 210.24 95.44 207.77 96 206.6 C96.56 205.43 97.02 204.3 97.5 204.3 C97.98 204.3 98.52 205.43 99 206.6 C99.48 207.77 100.02 210.16 100.5 211.6 C100.98 213.04 101.6 214.72 102 215.6 C102.4 216.48 102.31 216.78 103 217.1 C103.69 217.42 105.77 217.52 106.3 217.6 L106.3 217.6 L70.3 217.6 Z" fill="#e9f3df"/>
<path d="M70.3 217.6 C71.05 217.52 74.01 217.58 75 217.1 C75.99 216.62 76.07 215.3 76.5 214.6 C76.93 213.9 77.3 212.7 77.7 212.7 C78.1 212.7 78.55 213.98 79 214.6 C79.45 215.22 79.54 216.2 80.5 216.6 C81.46 217 83.48 217.13 85 217.1 C86.52 217.07 88.85 216.72 90 216.4 C91.15 216.08 91.56 215.87 92.2 215.1 C92.84 214.33 93.39 212.96 94 211.6 C94.61 210.24 95.44 207.77 96 206.6 C96.56 205.43 97.02 204.3 97.5 204.3 C97.98 204.3 98.52 205.43 99 206.6 C99.48 207.77 100.02 210.16 100.5 211.6 C100.98 213.04 101.6 214.72 102 215.6 C102.4 216.48 102.31 216.78 103 217.1 C103.69 217.42 105.77 217.52 106.3 217.6" fill="none" stroke="#52a83a" stroke-width="0.9" stroke-linejoin="round"/>
<path d="M70.3 229.4 C71.45 229.32 76.19 229.14 77.5 228.9 C78.5 228.66 78.18 227.9 78.5 227.9 C78.82 227.9 78.5 228.71 79.5 228.9 C81.34 229.09 88.08 229.26 90 229.1 C91.5 228.94 91.02 228.49 91.5 227.9 C91.98 227.31 92.52 226.52 93 225.4 C93.48 224.28 94.02 222.66 94.5 220.9 C94.98 219.14 95.6 216.14 96 214.4 C96.4 212.66 96.68 210.32 97 210 C97.32 209.68 97.6 211.06 98 212.4 C98.4 213.74 99.1 216.64 99.5 218.4 C99.9 220.16 100.18 221.96 100.5 223.4 C100.82 224.84 101.18 226.52 101.5 227.4 C101.82 228.28 101.73 228.58 102.5 228.9 C103.27 229.22 105.69 229.32 106.3 229.4 L106.3 229.4 L70.3 229.4 Z" fill="#d3d8cc"/>
<path d="M70.3 229.4 C71.45 229.32 76.19 229.14 77.5 228.9 C78.5 228.66 78.18 227.9 78.5 227.9 C78.82 227.9 78.5 228.71 79.5 228.9 C81.34 229.09 88.08 229.26 90 229.1 C91.5 228.94 91.02 228.49 91.5 227.9 C91.98 227.31 92.52 226.52 93 225.4 C93.48 224.28 94.02 222.66 94.5 220.9 C94.98 219.14 95.6 216.14 96 214.4 C96.4 212.66 96.68 210.32 97 210 C97.32 209.68 97.6 211.06 98 212.4 C98.4 213.74 99.1 216.64 99.5 218.4 C99.9 220.16 100.18 221.96 100.5 223.4 C100.82 224.84 101.18 226.52 101.5 227.4 C101.82 228.28 101.73 228.58 102.5 228.9 C103.27 229.22 105.69 229.32 106.3 229.4" fill="none" stroke="#1c2618" stroke-width="1" stroke-linejoin="round"/>
<line x1="84.4" y1="182.7" x2="84.4" y2="229.4" stroke="#2a2a2a" stroke-width="0.9" stroke-dasharray="1.3 1.5"/>
<line x1="71" y1="229.8" x2="71" y2="231.8" stroke="#111" stroke-width="0.75"/>
<line x1="72.92" y1="229.8" x2="72.92" y2="231.1" stroke="#111" stroke-width="0.55"/>
<line x1="74.84" y1="229.8" x2="74.84" y2="231.1" stroke="#111" stroke-width="0.55"/>
<line x1="76.76" y1="229.8" x2="76.76" y2="231.8" stroke="#111" stroke-width="0.75"/>
<line x1="78.68" y1="229.8" x2="78.68" y2="231.1" stroke="#111" stroke-width="0.55"/>
<line x1="80.6" y1="229.8" x2="80.6" y2="231.1" stroke="#111" stroke-width="0.55"/>
<line x1="82.52" y1="229.8" x2="82.52" y2="231.8" stroke="#111" stroke-width="0.75"/>
<line x1="84.44" y1="229.8" x2="84.44" y2="231.1" stroke="#111" stroke-width="0.55"/>
<line x1="86.36" y1="229.8" x2="86.36" y2="231.1" stroke="#111" stroke-width="0.55"/>
<line x1="88.28" y1="229.8" x2="88.28" y2="231.8" stroke="#111" stroke-width="0.75"/>
<line x1="90.2" y1="229.8" x2="90.2" y2="231.1" stroke="#111" stroke-width="0.55"/>
<line x1="92.12" y1="229.8" x2="92.12" y2="231.1" stroke="#111" stroke-width="0.55"/>
<line x1="94.04" y1="229.8" x2="94.04" y2="231.8" stroke="#111" stroke-width="0.75"/>
<line x1="95.96" y1="229.8" x2="95.96" y2="231.1" stroke="#111" stroke-width="0.55"/>
<line x1="97.88" y1="229.8" x2="97.88" y2="231.1" stroke="#111" stroke-width="0.55"/>
<line x1="99.8" y1="229.8" x2="99.8" y2="231.8" stroke="#111" stroke-width="0.75"/>
<line x1="101.72" y1="229.8" x2="101.72" y2="231.1" stroke="#111" stroke-width="0.55"/>
<line x1="103.64" y1="229.8" x2="103.64" y2="231.1" stroke="#111" stroke-width="0.55"/>
<line x1="105.56" y1="229.8" x2="105.56" y2="231.8" stroke="#111" stroke-width="0.75"/>
<rect x="69.8" y="180.2" width="37" height="49.6" fill="none" stroke="#2a2a2a" stroke-width="1.1"/>
<line x1="69.5" y1="229.9" x2="107.1" y2="229.9" stroke="#111" stroke-width="1.4"/>
<path d="M109.1 205.4 C110.84 205.34 117.3 205.13 120 205 C122.7 204.87 124.72 204.78 126 204.6 C127.28 204.42 127.36 204.41 128 203.9 C128.64 203.39 129.36 202.52 130 201.4 C130.64 200.28 131.36 198.5 132 196.9 C132.64 195.3 133.36 193.16 134 191.4 C134.64 189.64 135.44 187.04 136 185.9 C136.56 184.76 137.05 183.9 137.5 184.3 C137.95 184.7 138.4 186.46 138.8 188.4 C139.2 190.34 139.65 194.24 140 196.4 C140.35 198.56 140.6 200.59 141 201.9 C141.4 203.21 141.94 204.09 142.5 204.6 C143.06 205.11 144.08 204.97 144.5 205.1 C144.92 205.23 145 205.35 145.1 205.4 L145.1 205.4 L109.1 205.4 Z" fill="#f4f7e2"/>
<path d="M109.1 205.4 C110.84 205.34 117.3 205.13 120 205 C122.7 204.87 124.72 204.78 126 204.6 C127.28 204.42 127.36 204.41 128 203.9 C128.64 203.39 129.36 202.52 130 201.4 C130.64 200.28 131.36 198.5 132 196.9 C132.64 195.3 133.36 193.16 134 191.4 C134.64 189.64 135.44 187.04 136 185.9 C136.56 184.76 137.05 183.9 137.5 184.3 C137.95 184.7 138.4 186.46 138.8 188.4 C139.2 190.34 139.65 194.24 140 196.4 C140.35 198.56 140.6 200.59 141 201.9 C141.4 203.21 141.94 204.09 142.5 204.6 C143.06 205.11 144.08 204.97 144.5 205.1 C144.92 205.23 145 205.35 145.1 205.4" fill="none" stroke="#b3c24a" stroke-width="0.9" stroke-linejoin="round"/>
<path d="M109.1 217.6 C109.72 217.54 111.9 217.39 113 217.2 C114.1 217.01 115.28 216.58 116 216.4 C116.72 216.22 116.94 216.07 117.5 216.1 C118.06 216.13 118.78 216.42 119.5 216.6 C120.22 216.78 120.8 217.12 122 217.2 C123.2 217.28 125.72 217.23 127 217.1 C128.28 216.97 129.2 216.8 130 216.4 C130.8 216 131.36 215.53 132 214.6 C132.64 213.67 133.36 212.36 134 210.6 C134.64 208.84 135.39 205.22 136 203.6 C136.61 201.98 137.32 200.66 137.8 200.5 C138.28 200.34 138.62 201.14 139 202.6 C139.38 204.06 139.83 207.6 140.2 209.6 C140.57 211.6 140.93 213.9 141.3 215.1 C141.67 216.3 141.89 216.7 142.5 217.1 C143.11 217.5 144.68 217.52 145.1 217.6 L145.1 217.6 L109.1 217.6 Z" fill="#e9f3df"/>
<path d="M109.1 217.6 C109.72 217.54 111.9 217.39 113 217.2 C114.1 217.01 115.28 216.58 116 216.4 C116.72 216.22 116.94 216.07 117.5 216.1 C118.06 216.13 118.78 216.42 119.5 216.6 C120.22 216.78 120.8 217.12 122 217.2 C123.2 217.28 125.72 217.23 127 217.1 C128.28 216.97 129.2 216.8 130 216.4 C130.8 216 131.36 215.53 132 214.6 C132.64 213.67 133.36 212.36 134 210.6 C134.64 208.84 135.39 205.22 136 203.6 C136.61 201.98 137.32 200.66 137.8 200.5 C138.28 200.34 138.62 201.14 139 202.6 C139.38 204.06 139.83 207.6 140.2 209.6 C140.57 211.6 140.93 213.9 141.3 215.1 C141.67 216.3 141.89 216.7 142.5 217.1 C143.11 217.5 144.68 217.52 145.1 217.6" fill="none" stroke="#52a83a" stroke-width="0.9" stroke-linejoin="round"/>
<path d="M109.1 229.4 C110.12 229.34 114.16 229.26 115.5 229 C116.84 228.74 116.94 227.82 117.5 227.8 C118.06 227.78 117.5 228.69 119 228.9 C121 229.11 127.92 229.26 130 229.1 C132 228.94 131.36 228.65 132 227.9 C132.64 227.15 133.44 225.76 134 224.4 C134.56 223.04 135.02 221 135.5 219.4 C135.98 217.8 136.63 215.34 137 214.4 C137.37 213.46 137.48 213.18 137.8 213.5 C138.12 213.82 138.6 214.98 139 216.4 C139.4 217.82 139.9 220.64 140.3 222.4 C140.7 224.16 141.15 226.33 141.5 227.4 C141.85 228.47 141.92 228.78 142.5 229.1 C143.08 229.4 144.68 229.35 145.1 229.4 L145.1 229.4 L109.1 229.4 Z" fill="#d3d8cc"/>
<path d="M109.1 229.4 C110.12 229.34 114.16 229.26 115.5 229 C116.84 228.74 116.94 227.82 117.5 227.8 C118.06 227.78 117.5 228.69 119 228.9 C121 229.11 127.92 229.26 130 229.1 C132 228.94 131.36 228.65 132 227.9 C132.64 227.15 133.44 225.76 134 224.4 C134.56 223.04 135.02 221 135.5 219.4 C135.98 217.8 136.63 215.34 137 214.4 C137.37 213.46 137.48 213.18 137.8 213.5 C138.12 213.82 138.6 214.98 139 216.4 C139.4 217.82 139.9 220.64 140.3 222.4 C140.7 224.16 141.15 226.33 141.5 227.4 C141.85 228.47 141.92 228.78 142.5 229.1 C143.08 229.4 144.68 229.35 145.1 229.4" fill="none" stroke="#1c2618" stroke-width="1" stroke-linejoin="round"/>
<line x1="123.1" y1="182.7" x2="123.1" y2="229.4" stroke="#2a2a2a" stroke-width="0.9" stroke-dasharray="1.3 1.5"/>
<line x1="109.8" y1="229.8" x2="109.8" y2="231.8" stroke="#111" stroke-width="0.75"/>
<line x1="111.72" y1="229.8" x2="111.72" y2="231.1" stroke="#111" stroke-width="0.55"/>
<line x1="113.64" y1="229.8" x2="113.64" y2="231.1" stroke="#111" stroke-width="0.55"/>
<line x1="115.56" y1="229.8" x2="115.56" y2="231.8" stroke="#111" stroke-width="0.75"/>
<line x1="117.48" y1="229.8" x2="117.48" y2="231.1" stroke="#111" stroke-width="0.55"/>
<line x1="119.4" y1="229.8" x2="119.4" y2="231.1" stroke="#111" stroke-width="0.55"/>
<line x1="121.32" y1="229.8" x2="121.32" y2="231.8" stroke="#111" stroke-width="0.75"/>
<line x1="123.24" y1="229.8" x2="123.24" y2="231.1" stroke="#111" stroke-width="0.55"/>
<line x1="125.16" y1="229.8" x2="125.16" y2="231.1" stroke="#111" stroke-width="0.55"/>
<line x1="127.08" y1="229.8" x2="127.08" y2="231.8" stroke="#111" stroke-width="0.75"/>
<line x1="129" y1="229.8" x2="129" y2="231.1" stroke="#111" stroke-width="0.55"/>
<line x1="130.92" y1="229.8" x2="130.92" y2="231.1" stroke="#111" stroke-width="0.55"/>
<line x1="132.84" y1="229.8" x2="132.84" y2="231.8" stroke="#111" stroke-width="0.75"/>
<line x1="134.76" y1="229.8" x2="134.76" y2="231.1" stroke="#111" stroke-width="0.55"/>
<line x1="136.68" y1="229.8" x2="136.68" y2="231.1" stroke="#111" stroke-width="0.55"/>
<line x1="138.6" y1="229.8" x2="138.6" y2="231.8" stroke="#111" stroke-width="0.75"/>
<line x1="140.52" y1="229.8" x2="140.52" y2="231.1" stroke="#111" stroke-width="0.55"/>
<line x1="142.44" y1="229.8" x2="142.44" y2="231.1" stroke="#111" stroke-width="0.55"/>
<line x1="144.36" y1="229.8" x2="144.36" y2="231.8" stroke="#111" stroke-width="0.75"/>
<rect x="108.6" y="180.2" width="37" height="49.6" fill="none" stroke="#2a2a2a" stroke-width="1.1"/>
<line x1="108.3" y1="229.9" x2="145.9" y2="229.9" stroke="#111" stroke-width="1.4"/>
<path d="M147.9 205.4 C149.84 205.35 157.14 205.2 160 205.1 C162.86 205 164.6 204.99 165.8 204.8 C167 204.61 166.99 204.44 167.5 203.9 C168.01 203.36 168.52 202.6 169 201.4 C169.48 200.2 170.02 198.16 170.5 196.4 C170.98 194.64 171.52 192.13 172 190.4 C172.48 188.67 172.96 186.59 173.5 185.6 C174.04 184.61 174.84 183.91 175.4 184.2 C175.96 184.49 176.58 185.93 177 187.4 C177.42 188.87 177.68 191.48 178 193.4 C178.32 195.32 178.68 197.8 179 199.4 C179.32 201 179.6 202.52 180 203.4 C180.4 204.28 180.88 204.58 181.5 204.9 C182.12 205.22 183.52 205.32 183.9 205.4 L183.9 205.4 L147.9 205.4 Z" fill="#f4f7e2"/>
<path d="M147.9 205.4 C149.84 205.35 157.14 205.2 160 205.1 C162.86 205 164.6 204.99 165.8 204.8 C167 204.61 166.99 204.44 167.5 203.9 C168.01 203.36 168.52 202.6 169 201.4 C169.48 200.2 170.02 198.16 170.5 196.4 C170.98 194.64 171.52 192.13 172 190.4 C172.48 188.67 172.96 186.59 173.5 185.6 C174.04 184.61 174.84 183.91 175.4 184.2 C175.96 184.49 176.58 185.93 177 187.4 C177.42 188.87 177.68 191.48 178 193.4 C178.32 195.32 178.68 197.8 179 199.4 C179.32 201 179.6 202.52 180 203.4 C180.4 204.28 180.88 204.58 181.5 204.9 C182.12 205.22 183.52 205.32 183.9 205.4" fill="none" stroke="#b3c24a" stroke-width="0.9" stroke-linejoin="round"/>
<path d="M147.9 217.6 C149.84 217.55 156.88 217.38 160 217.3 C163.12 217.22 165.96 217.21 167.4 217.1 C168.84 216.99 168.42 216.92 169 216.6 C169.58 216.28 170.36 215.74 171 215.1 C171.64 214.46 172.36 213.8 173 212.6 C173.64 211.4 174.44 209.36 175 207.6 C175.56 205.84 176.07 203.25 176.5 201.6 C176.93 199.95 177.3 197.14 177.7 197.3 C178.1 197.46 178.63 200.63 179 202.6 C179.37 204.57 179.68 207.6 180 209.6 C180.32 211.6 180.68 213.9 181 215.1 C181.32 216.3 181.54 216.7 182 217.1 C182.46 217.5 183.6 217.52 183.9 217.6 L183.9 217.6 L147.9 217.6 Z" fill="#e9f3df"/>
<path d="M147.9 217.6 C149.84 217.55 156.88 217.38 160 217.3 C163.12 217.22 165.96 217.21 167.4 217.1 C168.84 216.99 168.42 216.92 169 216.6 C169.58 216.28 170.36 215.74 171 215.1 C171.64 214.46 172.36 213.8 173 212.6 C173.64 211.4 174.44 209.36 175 207.6 C175.56 205.84 176.07 203.25 176.5 201.6 C176.93 199.95 177.3 197.14 177.7 197.3 C178.1 197.46 178.63 200.63 179 202.6 C179.37 204.57 179.68 207.6 180 209.6 C180.32 211.6 180.68 213.9 181 215.1 C181.32 216.3 181.54 216.7 182 217.1 C182.46 217.5 183.6 217.52 183.9 217.6" fill="none" stroke="#52a83a" stroke-width="0.9" stroke-linejoin="round"/>
<path d="M147.9 229.4 C151.53 229.37 166.74 229.36 170.6 229.2 C172 229.04 171.46 229.01 172 228.4 C172.54 227.79 173.44 226.84 174 225.4 C174.56 223.96 175.02 221.64 175.5 219.4 C175.98 217.16 176.66 213.1 177 211.4 C177.34 209.7 177.36 208.64 177.6 208.8 C177.84 208.96 178.2 210.7 178.5 212.4 C178.8 214.1 179.18 217.32 179.5 219.4 C179.82 221.48 180.18 223.96 180.5 225.4 C180.82 226.84 180.96 227.76 181.5 228.4 C182.04 229.04 183.52 229.24 183.9 229.4 L183.9 229.4 L147.9 229.4 Z" fill="#d3d8cc"/>
<path d="M147.9 229.4 C151.53 229.37 166.74 229.36 170.6 229.2 C172 229.04 171.46 229.01 172 228.4 C172.54 227.79 173.44 226.84 174 225.4 C174.56 223.96 175.02 221.64 175.5 219.4 C175.98 217.16 176.66 213.1 177 211.4 C177.34 209.7 177.36 208.64 177.6 208.8 C177.84 208.96 178.2 210.7 178.5 212.4 C178.8 214.1 179.18 217.32 179.5 219.4 C179.82 221.48 180.18 223.96 180.5 225.4 C180.82 226.84 180.96 227.76 181.5 228.4 C182.04 229.04 183.52 229.24 183.9 229.4" fill="none" stroke="#1c2618" stroke-width="1" stroke-linejoin="round"/>
<line x1="161.7" y1="182.7" x2="161.7" y2="229.4" stroke="#2a2a2a" stroke-width="0.9" stroke-dasharray="1.3 1.5"/>
<line x1="148.6" y1="229.8" x2="148.6" y2="231.8" stroke="#111" stroke-width="0.75"/>
<line x1="150.52" y1="229.8" x2="150.52" y2="231.1" stroke="#111" stroke-width="0.55"/>
<line x1="152.44" y1="229.8" x2="152.44" y2="231.1" stroke="#111" stroke-width="0.55"/>
<line x1="154.36" y1="229.8" x2="154.36" y2="231.8" stroke="#111" stroke-width="0.75"/>
<line x1="156.28" y1="229.8" x2="156.28" y2="231.1" stroke="#111" stroke-width="0.55"/>
<line x1="158.2" y1="229.8" x2="158.2" y2="231.1" stroke="#111" stroke-width="0.55"/>
<line x1="160.12" y1="229.8" x2="160.12" y2="231.8" stroke="#111" stroke-width="0.75"/>
<line x1="162.04" y1="229.8" x2="162.04" y2="231.1" stroke="#111" stroke-width="0.55"/>
<line x1="163.96" y1="229.8" x2="163.96" y2="231.1" stroke="#111" stroke-width="0.55"/>
<line x1="165.88" y1="229.8" x2="165.88" y2="231.8" stroke="#111" stroke-width="0.75"/>
<line x1="167.8" y1="229.8" x2="167.8" y2="231.1" stroke="#111" stroke-width="0.55"/>
<line x1="169.72" y1="229.8" x2="169.72" y2="231.1" stroke="#111" stroke-width="0.55"/>
<line x1="171.64" y1="229.8" x2="171.64" y2="231.8" stroke="#111" stroke-width="0.75"/>
<line x1="173.56" y1="229.8" x2="173.56" y2="231.1" stroke="#111" stroke-width="0.55"/>
<line x1="175.48" y1="229.8" x2="175.48" y2="231.1" stroke="#111" stroke-width="0.55"/>
<line x1="177.4" y1="229.8" x2="177.4" y2="231.8" stroke="#111" stroke-width="0.75"/>
<line x1="179.32" y1="229.8" x2="179.32" y2="231.1" stroke="#111" stroke-width="0.55"/>
<line x1="181.24" y1="229.8" x2="181.24" y2="231.1" stroke="#111" stroke-width="0.55"/>
<line x1="183.16" y1="229.8" x2="183.16" y2="231.8" stroke="#111" stroke-width="0.75"/>
<rect x="147.4" y="180.2" width="37" height="49.6" fill="none" stroke="#2a2a2a" stroke-width="1.1"/>
<line x1="147.1" y1="229.9" x2="184.7" y2="229.9" stroke="#111" stroke-width="1.4"/>
<text x="128" y="246.2" font-size="6.6" text-anchor="middle">CD8</text>
<text x="63.6" y="276.2" font-size="6.3" text-anchor="end">4</text>
<line x1="66" y1="274" x2="69.8" y2="274" stroke="#111" stroke-width="0.9"/>
<text x="63.6" y="288.4" font-size="6.3" text-anchor="end">8</text>
<line x1="66" y1="286.2" x2="69.8" y2="286.2" stroke="#111" stroke-width="0.9"/>
<text x="63.6" y="300.2" font-size="6.3" text-anchor="end">≥16</text>
<line x1="66" y1="298" x2="69.8" y2="298" stroke="#111" stroke-width="0.9"/>
<path d="M70.3 274 C71.13 273.92 74.46 273.98 75.5 273.5 C76.54 273.02 76.43 272.52 76.8 271 C77.17 269.48 77.56 265.49 77.8 264 C78.04 262.51 78.11 261.54 78.3 261.7 C78.49 261.86 78.73 263.51 79 265 C79.27 266.49 79.68 269.66 80 271 C80.32 272.34 80.04 272.97 81 273.4 C81.96 273.83 84.56 273.73 86 273.7 C87.44 273.67 89.04 273.47 90 273.2 C90.96 272.93 91.36 272.59 92 272 C92.64 271.41 93.46 270.08 94 269.5 C94.54 268.92 94.92 268.64 95.4 268.4 C95.88 268.16 96.5 268.38 97 268 C97.5 267.62 98.08 266.5 98.5 266 C98.92 265.5 99.23 264.58 99.6 264.9 C99.97 265.22 100.42 266.86 100.8 268 C101.18 269.14 101.57 271.1 102 272 C102.43 272.9 102.81 273.28 103.5 273.6 C104.19 273.92 105.85 273.94 106.3 274 L106.3 274 L70.3 274 Z" fill="#f6f1fa"/>
<path d="M70.3 274 C71.13 273.92 74.46 273.98 75.5 273.5 C76.54 273.02 76.43 272.52 76.8 271 C77.17 269.48 77.56 265.49 77.8 264 C78.04 262.51 78.11 261.54 78.3 261.7 C78.49 261.86 78.73 263.51 79 265 C79.27 266.49 79.68 269.66 80 271 C80.32 272.34 80.04 272.97 81 273.4 C81.96 273.83 84.56 273.73 86 273.7 C87.44 273.67 89.04 273.47 90 273.2 C90.96 272.93 91.36 272.59 92 272 C92.64 271.41 93.46 270.08 94 269.5 C94.54 268.92 94.92 268.64 95.4 268.4 C95.88 268.16 96.5 268.38 97 268 C97.5 267.62 98.08 266.5 98.5 266 C98.92 265.5 99.23 264.58 99.6 264.9 C99.97 265.22 100.42 266.86 100.8 268 C101.18 269.14 101.57 271.1 102 272 C102.43 272.9 102.81 273.28 103.5 273.6 C104.19 273.92 105.85 273.94 106.3 274" fill="none" stroke="#b9a2d2" stroke-width="0.9" stroke-linejoin="round"/>
<path d="M70.3 286.2 C71.29 286.15 75.3 286.2 76.5 285.9 C77.7 285.42 77.38 283.92 77.8 283.2 C78.22 282.48 78.7 281.4 79.1 281.4 C79.5 281.4 79.92 282.51 80.3 283.2 C80.68 283.89 80.3 285.28 81.5 285.7 C83.37 286.12 90.08 285.88 92 285.8 C93.5 285.72 93.02 285.7 93.5 285.2 C93.98 284.7 94.52 283.5 95 282.7 C95.48 281.9 95.96 281.22 96.5 280.2 C97.04 279.18 97.92 276.46 98.4 276.3 C98.88 276.14 99.12 278.18 99.5 279.2 C99.88 280.22 100.4 281.71 100.8 282.7 C101.2 283.69 101.49 284.86 102 285.4 C102.51 285.94 103.31 285.97 104 286.1 C104.69 286.2 105.93 286.18 106.3 286.2 L106.3 286.2 L70.3 286.2 Z" fill="#f0eaf7"/>
<path d="M70.3 286.2 C71.29 286.15 75.3 286.2 76.5 285.9 C77.7 285.42 77.38 283.92 77.8 283.2 C78.22 282.48 78.7 281.4 79.1 281.4 C79.5 281.4 79.92 282.51 80.3 283.2 C80.68 283.89 80.3 285.28 81.5 285.7 C83.37 286.12 90.08 285.88 92 285.8 C93.5 285.72 93.02 285.7 93.5 285.2 C93.98 284.7 94.52 283.5 95 282.7 C95.48 281.9 95.96 281.22 96.5 280.2 C97.04 279.18 97.92 276.46 98.4 276.3 C98.88 276.14 99.12 278.18 99.5 279.2 C99.88 280.22 100.4 281.71 100.8 282.7 C101.2 283.69 101.49 284.86 102 285.4 C102.51 285.94 103.31 285.97 104 286.1 C104.69 286.2 105.93 286.18 106.3 286.2" fill="none" stroke="#55388c" stroke-width="0.9" stroke-linejoin="round"/>
<path d="M70.3 298 C71.21 297.95 74.88 297.89 76 297.7 C77.12 297.51 76.9 296.8 77.3 296.8 C77.7 296.8 77.3 297.54 78.5 297.7 C80.69 297.86 88.62 297.91 91 297.8 C93.38 297.69 92.76 297.53 93.4 297 C94.04 296.47 94.5 295.46 95 294.5 C95.5 293.54 96.07 292.28 96.5 291 C96.93 289.72 97.4 287.67 97.7 286.5 C98 285.33 98.14 283.62 98.4 283.7 C98.66 283.78 99 285.51 99.3 287 C99.6 288.49 99.98 291.4 100.3 293 C100.62 294.6 100.87 296.22 101.3 297 C101.73 297.78 102.2 297.74 103 297.9 C103.8 298 105.77 297.98 106.3 298 L106.3 298 L70.3 298 Z" fill="#b77dc8"/>
<path d="M70.3 298 C71.21 297.95 74.88 297.89 76 297.7 C77.12 297.51 76.9 296.8 77.3 296.8 C77.7 296.8 77.3 297.54 78.5 297.7 C80.69 297.86 88.62 297.91 91 297.8 C93.38 297.69 92.76 297.53 93.4 297 C94.04 296.47 94.5 295.46 95 294.5 C95.5 293.54 96.07 292.28 96.5 291 C96.93 289.72 97.4 287.67 97.7 286.5 C98 285.33 98.14 283.62 98.4 283.7 C98.66 283.78 99 285.51 99.3 287 C99.6 288.49 99.98 291.4 100.3 293 C100.62 294.6 100.87 296.22 101.3 297 C101.73 297.78 102.2 297.74 103 297.9 C103.8 298 105.77 297.98 106.3 298" fill="none" stroke="#3a1248" stroke-width="1" stroke-linejoin="round"/>
<line x1="84.3" y1="251.3" x2="84.3" y2="298" stroke="#2a2a2a" stroke-width="0.9" stroke-dasharray="1.3 1.5"/>
<line x1="71" y1="298.4" x2="71" y2="300.4" stroke="#111" stroke-width="0.75"/>
<line x1="72.92" y1="298.4" x2="72.92" y2="299.7" stroke="#111" stroke-width="0.55"/>
<line x1="74.84" y1="298.4" x2="74.84" y2="299.7" stroke="#111" stroke-width="0.55"/>
<line x1="76.76" y1="298.4" x2="76.76" y2="300.4" stroke="#111" stroke-width="0.75"/>
<line x1="78.68" y1="298.4" x2="78.68" y2="299.7" stroke="#111" stroke-width="0.55"/>
<line x1="80.6" y1="298.4" x2="80.6" y2="299.7" stroke="#111" stroke-width="0.55"/>
<line x1="82.52" y1="298.4" x2="82.52" y2="300.4" stroke="#111" stroke-width="0.75"/>
<line x1="84.44" y1="298.4" x2="84.44" y2="299.7" stroke="#111" stroke-width="0.55"/>
<line x1="86.36" y1="298.4" x2="86.36" y2="299.7" stroke="#111" stroke-width="0.55"/>
<line x1="88.28" y1="298.4" x2="88.28" y2="300.4" stroke="#111" stroke-width="0.75"/>
<line x1="90.2" y1="298.4" x2="90.2" y2="299.7" stroke="#111" stroke-width="0.55"/>
<line x1="92.12" y1="298.4" x2="92.12" y2="299.7" stroke="#111" stroke-width="0.55"/>
<line x1="94.04" y1="298.4" x2="94.04" y2="300.4" stroke="#111" stroke-width="0.75"/>
<line x1="95.96" y1="298.4" x2="95.96" y2="299.7" stroke="#111" stroke-width="0.55"/>
<line x1="97.88" y1="298.4" x2="97.88" y2="299.7" stroke="#111" stroke-width="0.55"/>
<line x1="99.8" y1="298.4" x2="99.8" y2="300.4" stroke="#111" stroke-width="0.75"/>
<line x1="101.72" y1="298.4" x2="101.72" y2="299.7" stroke="#111" stroke-width="0.55"/>
<line x1="103.64" y1="298.4" x2="103.64" y2="299.7" stroke="#111" stroke-width="0.55"/>
<line x1="105.56" y1="298.4" x2="105.56" y2="300.4" stroke="#111" stroke-width="0.75"/>
<rect x="69.8" y="248.8" width="37" height="49.6" fill="none" stroke="#2a2a2a" stroke-width="1.1"/>
<line x1="69.5" y1="298.5" x2="107.1" y2="298.5" stroke="#111" stroke-width="1.4"/>
<path d="M109.1 274 C111.64 273.95 121.82 273.86 125 273.7 C128.18 273.54 128.04 273.35 129 273 C129.96 272.65 130.36 272.22 131 271.5 C131.64 270.78 132.36 269.86 133 268.5 C133.64 267.14 134.47 264.84 135 263 C135.53 261.16 135.95 258.41 136.3 257 C136.65 255.59 136.9 253.88 137.2 254.2 C137.5 254.52 137.88 256.79 138.2 259 C138.52 261.21 138.88 265.84 139.2 268 C139.52 270.16 139.83 271.59 140.2 272.5 C140.57 273.41 140.72 273.46 141.5 273.7 C142.28 273.94 144.52 273.95 145.1 274 L145.1 274 L109.1 274 Z" fill="#f6f1fa"/>
<path d="M109.1 274 C111.64 273.95 121.82 273.86 125 273.7 C128.18 273.54 128.04 273.35 129 273 C129.96 272.65 130.36 272.22 131 271.5 C131.64 270.78 132.36 269.86 133 268.5 C133.64 267.14 134.47 264.84 135 263 C135.53 261.16 135.95 258.41 136.3 257 C136.65 255.59 136.9 253.88 137.2 254.2 C137.5 254.52 137.88 256.79 138.2 259 C138.52 261.21 138.88 265.84 139.2 268 C139.52 270.16 139.83 271.59 140.2 272.5 C140.57 273.41 140.72 273.46 141.5 273.7 C142.28 273.94 144.52 273.95 145.1 274" fill="none" stroke="#b9a2d2" stroke-width="0.9" stroke-linejoin="round"/>
<path d="M109.1 286.2 C112.12 286.15 124.58 286.06 128 285.9 C130.5 285.74 129.78 285.6 130.5 285.2 C131.22 284.8 131.86 284.04 132.5 283.4 C133.14 282.76 133.94 282.35 134.5 281.2 C135.06 280.05 135.55 278.12 136 276.2 C136.45 274.28 136.92 270.88 137.3 269.2 C137.68 267.52 138.06 265.38 138.4 265.7 C138.74 266.02 139.1 269.04 139.4 271.2 C139.7 273.36 140 277.12 140.3 279.2 C140.6 281.28 140.95 283.13 141.3 284.2 C141.65 285.27 141.89 285.58 142.5 285.9 C143.11 286.2 144.68 286.15 145.1 286.2 L145.1 286.2 L109.1 286.2 Z" fill="#f0eaf7"/>
<path d="M109.1 286.2 C112.12 286.15 124.58 286.06 128 285.9 C130.5 285.74 129.78 285.6 130.5 285.2 C131.22 284.8 131.86 284.04 132.5 283.4 C133.14 282.76 133.94 282.35 134.5 281.2 C135.06 280.05 135.55 278.12 136 276.2 C136.45 274.28 136.92 270.88 137.3 269.2 C137.68 267.52 138.06 265.38 138.4 265.7 C138.74 266.02 139.1 269.04 139.4 271.2 C139.7 273.36 140 277.12 140.3 279.2 C140.6 281.28 140.95 283.13 141.3 284.2 C141.65 285.27 141.89 285.58 142.5 285.9 C143.11 286.2 144.68 286.15 145.1 286.2" fill="none" stroke="#55388c" stroke-width="0.9" stroke-linejoin="round"/>
<path d="M109.1 298 C112.44 297.95 126.42 297.86 130 297.7 C131.5 297.54 130.94 297.59 131.5 297 C132.06 296.41 132.86 295.28 133.5 294 C134.14 292.72 134.94 290.76 135.5 289 C136.06 287.24 136.63 284.57 137 283 C137.37 281.43 137.51 279.36 137.8 279.2 C138.09 279.04 138.45 280.43 138.8 282 C139.15 283.57 139.65 286.92 140 289 C140.35 291.08 140.71 293.69 141 295 C141.29 296.31 141.48 296.74 141.8 297.2 C142.12 297.66 142.47 297.77 143 297.9 C143.53 298 144.76 297.98 145.1 298 L145.1 298 L109.1 298 Z" fill="#b77dc8"/>
<path d="M109.1 298 C112.44 297.95 126.42 297.86 130 297.7 C131.5 297.54 130.94 297.59 131.5 297 C132.06 296.41 132.86 295.28 133.5 294 C134.14 292.72 134.94 290.76 135.5 289 C136.06 287.24 136.63 284.57 137 283 C137.37 281.43 137.51 279.36 137.8 279.2 C138.09 279.04 138.45 280.43 138.8 282 C139.15 283.57 139.65 286.92 140 289 C140.35 291.08 140.71 293.69 141 295 C141.29 296.31 141.48 296.74 141.8 297.2 C142.12 297.66 142.47 297.77 143 297.9 C143.53 298 144.76 297.98 145.1 298" fill="none" stroke="#3a1248" stroke-width="1" stroke-linejoin="round"/>
<line x1="122.9" y1="251.3" x2="122.9" y2="298" stroke="#2a2a2a" stroke-width="0.9" stroke-dasharray="1.3 1.5"/>
<line x1="109.8" y1="298.4" x2="109.8" y2="300.4" stroke="#111" stroke-width="0.75"/>
<line x1="111.72" y1="298.4" x2="111.72" y2="299.7" stroke="#111" stroke-width="0.55"/>
<line x1="113.64" y1="298.4" x2="113.64" y2="299.7" stroke="#111" stroke-width="0.55"/>
<line x1="115.56" y1="298.4" x2="115.56" y2="300.4" stroke="#111" stroke-width="0.75"/>
<line x1="117.48" y1="298.4" x2="117.48" y2="299.7" stroke="#111" stroke-width="0.55"/>
<line x1="119.4" y1="298.4" x2="119.4" y2="299.7" stroke="#111" stroke-width="0.55"/>
<line x1="121.32" y1="298.4" x2="121.32" y2="300.4" stroke="#111" stroke-width="0.75"/>
<line x1="123.24" y1="298.4" x2="123.24" y2="299.7" stroke="#111" stroke-width="0.55"/>
<line x1="125.16" y1="298.4" x2="125.16" y2="299.7" stroke="#111" stroke-width="0.55"/>
<line x1="127.08" y1="298.4" x2="127.08" y2="300.4" stroke="#111" stroke-width="0.75"/>
<line x1="129" y1="298.4" x2="129" y2="299.7" stroke="#111" stroke-width="0.55"/>
<line x1="130.92" y1="298.4" x2="130.92" y2="299.7" stroke="#111" stroke-width="0.55"/>
<line x1="132.84" y1="298.4" x2="132.84" y2="300.4" stroke="#111" stroke-width="0.75"/>
<line x1="134.76" y1="298.4" x2="134.76" y2="299.7" stroke="#111" stroke-width="0.55"/>
<line x1="136.68" y1="298.4" x2="136.68" y2="299.7" stroke="#111" stroke-width="0.55"/>
<line x1="138.6" y1="298.4" x2="138.6" y2="300.4" stroke="#111" stroke-width="0.75"/>
<line x1="140.52" y1="298.4" x2="140.52" y2="299.7" stroke="#111" stroke-width="0.55"/>
<line x1="142.44" y1="298.4" x2="142.44" y2="299.7" stroke="#111" stroke-width="0.55"/>
<line x1="144.36" y1="298.4" x2="144.36" y2="300.4" stroke="#111" stroke-width="0.75"/>
<rect x="108.6" y="248.8" width="37" height="49.6" fill="none" stroke="#2a2a2a" stroke-width="1.1"/>
<line x1="108.3" y1="298.5" x2="145.9" y2="298.5" stroke="#111" stroke-width="1.4"/>
<path d="M147.9 274 C149.52 273.95 155.38 273.8 158 273.7 C160.62 273.6 163.02 273.59 164.3 273.4 C165.58 273.21 165.41 273.04 166 272.5 C166.59 271.96 167.36 271.2 168 270 C168.64 268.8 169.44 266.76 170 265 C170.56 263.24 170.96 260.89 171.5 259 C172.04 257.11 172.84 253.52 173.4 253.2 C173.96 252.88 174.58 255.43 175 257 C175.42 258.57 175.68 261.08 176 263 C176.32 264.92 176.68 267.56 177 269 C177.32 270.44 177.6 271.28 178 272 C178.4 272.72 178.56 273.18 179.5 273.5 C180.44 273.82 183.2 273.92 183.9 274 L183.9 274 L147.9 274 Z" fill="#f6f1fa"/>
<path d="M147.9 274 C149.52 273.95 155.38 273.8 158 273.7 C160.62 273.6 163.02 273.59 164.3 273.4 C165.58 273.21 165.41 273.04 166 272.5 C166.59 271.96 167.36 271.2 168 270 C168.64 268.8 169.44 266.76 170 265 C170.56 263.24 170.96 260.89 171.5 259 C172.04 257.11 172.84 253.52 173.4 253.2 C173.96 252.88 174.58 255.43 175 257 C175.42 258.57 175.68 261.08 176 263 C176.32 264.92 176.68 267.56 177 269 C177.32 270.44 177.6 271.28 178 272 C178.4 272.72 178.56 273.18 179.5 273.5 C180.44 273.82 183.2 273.92 183.9 274" fill="none" stroke="#b9a2d2" stroke-width="0.9" stroke-linejoin="round"/>
<path d="M147.9 286.2 C151.28 286.17 165.46 286.1 169 286 C170 285.9 169.52 285.89 170 285.6 C170.48 285.31 171.36 284.9 172 284.2 C172.64 283.5 173.44 282.64 174 281.2 C174.56 279.76 175.02 277.73 175.5 275.2 C175.98 272.67 176.6 266.36 177 265.4 C177.4 264.44 177.68 267.31 178 269.2 C178.32 271.09 178.68 274.96 179 277.2 C179.32 279.44 179.68 281.86 180 283.2 C180.32 284.54 180.38 285.12 181 285.6 C181.62 286.08 183.44 286.1 183.9 286.2 L183.9 286.2 L147.9 286.2 Z" fill="#f0eaf7"/>
<path d="M147.9 286.2 C151.28 286.17 165.46 286.1 169 286 C170 285.9 169.52 285.89 170 285.6 C170.48 285.31 171.36 284.9 172 284.2 C172.64 283.5 173.44 282.64 174 281.2 C174.56 279.76 175.02 277.73 175.5 275.2 C175.98 272.67 176.6 266.36 177 265.4 C177.4 264.44 177.68 267.31 178 269.2 C178.32 271.09 178.68 274.96 179 277.2 C179.32 279.44 179.68 281.86 180 283.2 C180.32 284.54 180.38 285.12 181 285.6 C181.62 286.08 183.44 286.1 183.9 286.2" fill="none" stroke="#55388c" stroke-width="0.9" stroke-linejoin="round"/>
<path d="M147.9 298 C151.53 297.97 166.74 297.96 170.6 297.8 C172 297.64 171.54 297.61 172 297 C172.46 296.39 173.02 295.44 173.5 294 C173.98 292.56 174.5 290.48 175 288 C175.5 285.52 176.2 279.62 176.6 278.5 C177 277.38 177.16 279.32 177.5 281 C177.84 282.68 178.33 286.76 178.7 289 C179.07 291.24 179.43 293.64 179.8 295 C180.17 296.36 180.34 297.02 181 297.5 C181.66 297.98 183.44 297.92 183.9 298 L183.9 298 L147.9 298 Z" fill="#b77dc8"/>
<path d="M147.9 298 C151.53 297.97 166.74 297.96 170.6 297.8 C172 297.64 171.54 297.61 172 297 C172.46 296.39 173.02 295.44 173.5 294 C173.98 292.56 174.5 290.48 175 288 C175.5 285.52 176.2 279.62 176.6 278.5 C177 277.38 177.16 279.32 177.5 281 C177.84 282.68 178.33 286.76 178.7 289 C179.07 291.24 179.43 293.64 179.8 295 C180.17 296.36 180.34 297.02 181 297.5 C181.66 297.98 183.44 297.92 183.9 298" fill="none" stroke="#3a1248" stroke-width="1" stroke-linejoin="round"/>
<line x1="161.8" y1="251.3" x2="161.8" y2="298" stroke="#2a2a2a" stroke-width="0.9" stroke-dasharray="1.3 1.5"/>
<line x1="148.6" y1="298.4" x2="148.6" y2="300.4" stroke="#111" stroke-width="0.75"/>
<line x1="150.52" y1="298.4" x2="150.52" y2="299.7" stroke="#111" stroke-width="0.55"/>
<line x1="152.44" y1="298.4" x2="152.44" y2="299.7" stroke="#111" stroke-width="0.55"/>
<line x1="154.36" y1="298.4" x2="154.36" y2="300.4" stroke="#111" stroke-width="0.75"/>
<line x1="156.28" y1="298.4" x2="156.28" y2="299.7" stroke="#111" stroke-width="0.55"/>
<line x1="158.2" y1="298.4" x2="158.2" y2="299.7" stroke="#111" stroke-width="0.55"/>
<line x1="160.12" y1="298.4" x2="160.12" y2="300.4" stroke="#111" stroke-width="0.75"/>
<line x1="162.04" y1="298.4" x2="162.04" y2="299.7" stroke="#111" stroke-width="0.55"/>
<line x1="163.96" y1="298.4" x2="163.96" y2="299.7" stroke="#111" stroke-width="0.55"/>
<line x1="165.88" y1="298.4" x2="165.88" y2="300.4" stroke="#111" stroke-width="0.75"/>
<line x1="167.8" y1="298.4" x2="167.8" y2="299.7" stroke="#111" stroke-width="0.55"/>
<line x1="169.72" y1="298.4" x2="169.72" y2="299.7" stroke="#111" stroke-width="0.55"/>
<line x1="171.64" y1="298.4" x2="171.64" y2="300.4" stroke="#111" stroke-width="0.75"/>
<line x1="173.56" y1="298.4" x2="173.56" y2="299.7" stroke="#111" stroke-width="0.55"/>
<line x1="175.48" y1="298.4" x2="175.48" y2="299.7" stroke="#111" stroke-width="0.55"/>
<line x1="177.4" y1="298.4" x2="177.4" y2="300.4" stroke="#111" stroke-width="0.75"/>
<line x1="179.32" y1="298.4" x2="179.32" y2="299.7" stroke="#111" stroke-width="0.55"/>
<line x1="181.24" y1="298.4" x2="181.24" y2="299.7" stroke="#111" stroke-width="0.55"/>
<line x1="183.16" y1="298.4" x2="183.16" y2="300.4" stroke="#111" stroke-width="0.75"/>
<rect x="147.4" y="248.8" width="37" height="49.6" fill="none" stroke="#2a2a2a" stroke-width="1.1"/>
<line x1="147.1" y1="298.5" x2="184.7" y2="298.5" stroke="#111" stroke-width="1.4"/>
<text x="88.3" y="309.2" font-size="6.2" text-anchor="middle">48 hr</text>
<text x="127" y="309.2" font-size="6.2" text-anchor="middle">72 hr</text>
<text x="165.3" y="309.2" font-size="6.2" text-anchor="middle">96 hr</text>
<text x="74.8" y="320.6" font-size="8.1" text-anchor="middle" fill="#111" textLength="14.8" lengthAdjust="spacingAndGlyphs" class="c">CD25</text>
<line x1="88.6" y1="318.4" x2="180" y2="318.4" stroke="#111" stroke-width="1"/>
<path d="M186 318.4 L177.5 315.4 L177.5 321.4 Z" fill="#111"/>
<text x="128" y="342.4" font-size="6.6" text-anchor="middle">CD4</text>
<text x="63.6" y="372.4" font-size="6.3" text-anchor="end">4</text>
<line x1="66" y1="370.2" x2="69.8" y2="370.2" stroke="#111" stroke-width="0.9"/>
<text x="63.6" y="384.6" font-size="6.3" text-anchor="end">8</text>
<line x1="66" y1="382.4" x2="69.8" y2="382.4" stroke="#111" stroke-width="0.9"/>
<text x="63.6" y="396.4" font-size="6.3" text-anchor="end">≥16</text>
<line x1="66" y1="394.2" x2="69.8" y2="394.2" stroke="#111" stroke-width="0.9"/>
<path d="M70.3 370.2 C74.09 370.15 89.89 370.03 94 369.9 C96 369.77 95.44 369.67 96 369.4 C96.56 369.13 97.1 369.03 97.5 368.2 C97.9 367.37 98.21 366.12 98.5 364.2 C98.79 362.28 99.08 358.36 99.3 356.2 C99.52 354.04 99.71 350.86 99.9 350.7 C100.09 350.54 100.29 353.04 100.5 355.2 C100.71 357.36 100.96 362.12 101.2 364.2 C101.44 366.28 101.71 367.34 102 368.2 C102.29 369.06 102.6 369.31 103 369.6 C103.4 369.89 103.97 369.9 104.5 370 C105.03 370.1 106.01 370.17 106.3 370.2 L106.3 370.2 L70.3 370.2 Z" fill="#f4f7e2"/>
<path d="M70.3 370.2 C74.09 370.15 89.89 370.03 94 369.9 C96 369.77 95.44 369.67 96 369.4 C96.56 369.13 97.1 369.03 97.5 368.2 C97.9 367.37 98.21 366.12 98.5 364.2 C98.79 362.28 99.08 358.36 99.3 356.2 C99.52 354.04 99.71 350.86 99.9 350.7 C100.09 350.54 100.29 353.04 100.5 355.2 C100.71 357.36 100.96 362.12 101.2 364.2 C101.44 366.28 101.71 367.34 102 368.2 C102.29 369.06 102.6 369.31 103 369.6 C103.4 369.89 103.97 369.9 104.5 370 C105.03 370.1 106.01 370.17 106.3 370.2" fill="none" stroke="#b3c24a" stroke-width="0.9" stroke-linejoin="round"/>
<path d="M70.3 382.4 C74.25 382.35 90.73 382.34 95 382.1 C97 381.86 96.47 381.65 97 380.9 C97.53 380.15 97.95 379.08 98.3 377.4 C98.65 375.72 98.96 372.32 99.2 370.4 C99.44 368.48 99.61 365.56 99.8 365.4 C99.99 365.24 100.18 367.48 100.4 369.4 C100.62 371.32 100.94 375.56 101.2 377.4 C101.46 379.24 101.71 380.16 102 380.9 C102.29 381.64 102.31 381.76 103 382 C103.69 382.24 105.77 382.34 106.3 382.4 L106.3 382.4 L70.3 382.4 Z" fill="#e9f3df"/>
<path d="M70.3 382.4 C74.25 382.35 90.73 382.34 95 382.1 C97 381.86 96.47 381.65 97 380.9 C97.53 380.15 97.95 379.08 98.3 377.4 C98.65 375.72 98.96 372.32 99.2 370.4 C99.44 368.48 99.61 365.56 99.8 365.4 C99.99 365.24 100.18 367.48 100.4 369.4 C100.62 371.32 100.94 375.56 101.2 377.4 C101.46 379.24 101.71 380.16 102 380.9 C102.29 381.64 102.31 381.76 103 382 C103.69 382.24 105.77 382.34 106.3 382.4" fill="none" stroke="#52a83a" stroke-width="0.9" stroke-linejoin="round"/>
<path d="M70.3 394.2 C74.25 394.17 90.81 394.2 95 394 C96.5 393.76 96.1 393.31 96.5 392.7 C96.9 392.09 97.18 391.24 97.5 390.2 C97.82 389.16 98.23 387.8 98.5 386.2 C98.77 384.6 99.02 381.77 99.2 380.2 C99.38 378.63 99.44 376.4 99.6 376.4 C99.76 376.4 99.98 378.31 100.2 380.2 C100.42 382.09 100.76 386.28 101 388.2 C101.24 390.12 101.46 391.3 101.7 392.2 C101.94 393.1 101.76 393.48 102.5 393.8 C103.24 394.12 105.69 394.14 106.3 394.2 L106.3 394.2 L70.3 394.2 Z" fill="#d3d8cc"/>
<path d="M70.3 394.2 C74.25 394.17 90.81 394.2 95 394 C96.5 393.76 96.1 393.31 96.5 392.7 C96.9 392.09 97.18 391.24 97.5 390.2 C97.82 389.16 98.23 387.8 98.5 386.2 C98.77 384.6 99.02 381.77 99.2 380.2 C99.38 378.63 99.44 376.4 99.6 376.4 C99.76 376.4 99.98 378.31 100.2 380.2 C100.42 382.09 100.76 386.28 101 388.2 C101.24 390.12 101.46 391.3 101.7 392.2 C101.94 393.1 101.76 393.48 102.5 393.8 C103.24 394.12 105.69 394.14 106.3 394.2" fill="none" stroke="#1c2618" stroke-width="1" stroke-linejoin="round"/>
<line x1="97.5" y1="347.5" x2="97.5" y2="394.2" stroke="#2a2a2a" stroke-width="0.9" stroke-dasharray="1.3 1.5"/>
<line x1="71" y1="394.6" x2="71" y2="396.6" stroke="#111" stroke-width="0.75"/>
<line x1="72.92" y1="394.6" x2="72.92" y2="395.9" stroke="#111" stroke-width="0.55"/>
<line x1="74.84" y1="394.6" x2="74.84" y2="395.9" stroke="#111" stroke-width="0.55"/>
<line x1="76.76" y1="394.6" x2="76.76" y2="396.6" stroke="#111" stroke-width="0.75"/>
<line x1="78.68" y1="394.6" x2="78.68" y2="395.9" stroke="#111" stroke-width="0.55"/>
<line x1="80.6" y1="394.6" x2="80.6" y2="395.9" stroke="#111" stroke-width="0.55"/>
<line x1="82.52" y1="394.6" x2="82.52" y2="396.6" stroke="#111" stroke-width="0.75"/>
<line x1="84.44" y1="394.6" x2="84.44" y2="395.9" stroke="#111" stroke-width="0.55"/>
<line x1="86.36" y1="394.6" x2="86.36" y2="395.9" stroke="#111" stroke-width="0.55"/>
<line x1="88.28" y1="394.6" x2="88.28" y2="396.6" stroke="#111" stroke-width="0.75"/>
<line x1="90.2" y1="394.6" x2="90.2" y2="395.9" stroke="#111" stroke-width="0.55"/>
<line x1="92.12" y1="394.6" x2="92.12" y2="395.9" stroke="#111" stroke-width="0.55"/>
<line x1="94.04" y1="394.6" x2="94.04" y2="396.6" stroke="#111" stroke-width="0.75"/>
<line x1="95.96" y1="394.6" x2="95.96" y2="395.9" stroke="#111" stroke-width="0.55"/>
<line x1="97.88" y1="394.6" x2="97.88" y2="395.9" stroke="#111" stroke-width="0.55"/>
<line x1="99.8" y1="394.6" x2="99.8" y2="396.6" stroke="#111" stroke-width="0.75"/>
<line x1="101.72" y1="394.6" x2="101.72" y2="395.9" stroke="#111" stroke-width="0.55"/>
<line x1="103.64" y1="394.6" x2="103.64" y2="395.9" stroke="#111" stroke-width="0.55"/>
<line x1="105.56" y1="394.6" x2="105.56" y2="396.6" stroke="#111" stroke-width="0.75"/>
<rect x="69.8" y="345" width="37" height="49.6" fill="none" stroke="#2a2a2a" stroke-width="1.1"/>
<line x1="69.5" y1="394.7" x2="107.1" y2="394.7" stroke="#111" stroke-width="1.4"/>
<path d="M109.1 370.2 C110.84 370.15 117.89 369.98 120 369.9 C122.11 369.82 121.66 369.81 122.3 369.7 C122.94 369.59 123.49 369.76 124 369.2 C124.51 368.64 125.1 367.64 125.5 366.2 C125.9 364.76 126.18 362.12 126.5 360.2 C126.82 358.28 127.1 356.02 127.5 354.2 C127.9 352.38 128.5 348.72 129 348.8 C129.5 348.88 130.09 354.76 130.6 354.7 C131.11 354.64 131.77 348.8 132.2 348.4 C132.63 348 132.96 350.63 133.3 352.2 C133.64 353.77 133.9 357.4 134.3 358.2 C134.7 359 135.37 357.04 135.8 357.2 C136.23 357.36 136.57 358.34 137 359.2 C137.43 360.06 138.02 361.32 138.5 362.6 C138.98 363.88 139.52 366.14 140 367.2 C140.48 368.26 141.02 368.77 141.5 369.2 C141.98 369.63 142.42 369.74 143 369.9 C143.58 370.06 144.76 370.15 145.1 370.2 L145.1 370.2 L109.1 370.2 Z" fill="#f4f7e2"/>
<path d="M109.1 370.2 C110.84 370.15 117.89 369.98 120 369.9 C122.11 369.82 121.66 369.81 122.3 369.7 C122.94 369.59 123.49 369.76 124 369.2 C124.51 368.64 125.1 367.64 125.5 366.2 C125.9 364.76 126.18 362.12 126.5 360.2 C126.82 358.28 127.1 356.02 127.5 354.2 C127.9 352.38 128.5 348.72 129 348.8 C129.5 348.88 130.09 354.76 130.6 354.7 C131.11 354.64 131.77 348.8 132.2 348.4 C132.63 348 132.96 350.63 133.3 352.2 C133.64 353.77 133.9 357.4 134.3 358.2 C134.7 359 135.37 357.04 135.8 357.2 C136.23 357.36 136.57 358.34 137 359.2 C137.43 360.06 138.02 361.32 138.5 362.6 C138.98 363.88 139.52 366.14 140 367.2 C140.48 368.26 141.02 368.77 141.5 369.2 C141.98 369.63 142.42 369.74 143 369.9 C143.58 370.06 144.76 370.15 145.1 370.2" fill="none" stroke="#b3c24a" stroke-width="0.9" stroke-linejoin="round"/>
<path d="M109.1 382.4 C111 382.35 118.78 382.23 121 382.1 C123 381.97 122.36 382.03 123 381.6 C123.64 381.17 124.44 380.55 125 379.4 C125.56 378.25 126.05 376 126.5 374.4 C126.95 372.8 127.4 370.55 127.8 369.4 C128.2 368.25 128.6 366.88 129 367.2 C129.4 367.52 129.85 371.34 130.3 371.4 C130.75 371.46 131.37 367.6 131.8 367.6 C132.23 367.6 132.57 370.31 133 371.4 C133.43 372.49 133.99 374.18 134.5 374.4 C135.01 374.62 135.75 372.88 136.2 372.8 C136.65 372.72 136.93 373.64 137.3 373.9 C137.67 374.16 138.1 373.68 138.5 374.4 C138.9 375.12 139.32 377.28 139.8 378.4 C140.28 379.52 140.99 380.79 141.5 381.4 C142.01 382.01 142.42 382.04 143 382.2 C143.58 382.36 144.76 382.37 145.1 382.4 L145.1 382.4 L109.1 382.4 Z" fill="#e9f3df"/>
<path d="M109.1 382.4 C111 382.35 118.78 382.23 121 382.1 C123 381.97 122.36 382.03 123 381.6 C123.64 381.17 124.44 380.55 125 379.4 C125.56 378.25 126.05 376 126.5 374.4 C126.95 372.8 127.4 370.55 127.8 369.4 C128.2 368.25 128.6 366.88 129 367.2 C129.4 367.52 129.85 371.34 130.3 371.4 C130.75 371.46 131.37 367.6 131.8 367.6 C132.23 367.6 132.57 370.31 133 371.4 C133.43 372.49 133.99 374.18 134.5 374.4 C135.01 374.62 135.75 372.88 136.2 372.8 C136.65 372.72 136.93 373.64 137.3 373.9 C137.67 374.16 138.1 373.68 138.5 374.4 C138.9 375.12 139.32 377.28 139.8 378.4 C140.28 379.52 140.99 380.79 141.5 381.4 C142.01 382.01 142.42 382.04 143 382.2 C143.58 382.36 144.76 382.37 145.1 382.4" fill="none" stroke="#52a83a" stroke-width="0.9" stroke-linejoin="round"/>
<path d="M109.1 394.2 C111.72 394.15 122.72 394.2 125.5 393.9 C126.5 393.42 126.18 392.59 126.5 391.2 C126.82 389.81 127.18 387.12 127.5 385.2 C127.82 383.28 128.2 380.56 128.5 379.2 C128.8 377.84 129.1 376.54 129.4 376.7 C129.7 376.86 130.02 380.46 130.4 380.2 C130.78 379.94 131.42 374.94 131.8 375.1 C132.18 375.26 132.42 379.41 132.8 381.2 C133.18 382.99 133.77 385.66 134.2 386.3 C134.63 386.94 135.05 385.94 135.5 385.2 C135.95 384.46 136.5 382.8 137 381.7 C137.5 380.6 138.2 377.74 138.6 378.3 C139 378.86 139.2 382.9 139.5 385.2 C139.8 387.5 140.18 391.29 140.5 392.7 C140.82 394.11 140.76 393.76 141.5 394 C142.24 394.2 144.52 394.17 145.1 394.2 L145.1 394.2 L109.1 394.2 Z" fill="#d3d8cc"/>
<path d="M109.1 394.2 C111.72 394.15 122.72 394.2 125.5 393.9 C126.5 393.42 126.18 392.59 126.5 391.2 C126.82 389.81 127.18 387.12 127.5 385.2 C127.82 383.28 128.2 380.56 128.5 379.2 C128.8 377.84 129.1 376.54 129.4 376.7 C129.7 376.86 130.02 380.46 130.4 380.2 C130.78 379.94 131.42 374.94 131.8 375.1 C132.18 375.26 132.42 379.41 132.8 381.2 C133.18 382.99 133.77 385.66 134.2 386.3 C134.63 386.94 135.05 385.94 135.5 385.2 C135.95 384.46 136.5 382.8 137 381.7 C137.5 380.6 138.2 377.74 138.6 378.3 C139 378.86 139.2 382.9 139.5 385.2 C139.8 387.5 140.18 391.29 140.5 392.7 C140.82 394.11 140.76 393.76 141.5 394 C142.24 394.2 144.52 394.17 145.1 394.2" fill="none" stroke="#1c2618" stroke-width="1" stroke-linejoin="round"/>
<line x1="137" y1="347.5" x2="137" y2="394.2" stroke="#2a2a2a" stroke-width="0.9" stroke-dasharray="1.3 1.5"/>
<line x1="109.8" y1="394.6" x2="109.8" y2="396.6" stroke="#111" stroke-width="0.75"/>
<line x1="111.72" y1="394.6" x2="111.72" y2="395.9" stroke="#111" stroke-width="0.55"/>
<line x1="113.64" y1="394.6" x2="113.64" y2="395.9" stroke="#111" stroke-width="0.55"/>
<line x1="115.56" y1="394.6" x2="115.56" y2="396.6" stroke="#111" stroke-width="0.75"/>
<line x1="117.48" y1="394.6" x2="117.48" y2="395.9" stroke="#111" stroke-width="0.55"/>
<line x1="119.4" y1="394.6" x2="119.4" y2="395.9" stroke="#111" stroke-width="0.55"/>
<line x1="121.32" y1="394.6" x2="121.32" y2="396.6" stroke="#111" stroke-width="0.75"/>
<line x1="123.24" y1="394.6" x2="123.24" y2="395.9" stroke="#111" stroke-width="0.55"/>
<line x1="125.16" y1="394.6" x2="125.16" y2="395.9" stroke="#111" stroke-width="0.55"/>
<line x1="127.08" y1="394.6" x2="127.08" y2="396.6" stroke="#111" stroke-width="0.75"/>
<line x1="129" y1="394.6" x2="129" y2="395.9" stroke="#111" stroke-width="0.55"/>
<line x1="130.92" y1="394.6" x2="130.92" y2="395.9" stroke="#111" stroke-width="0.55"/>
<line x1="132.84" y1="394.6" x2="132.84" y2="396.6" stroke="#111" stroke-width="0.75"/>
<line x1="134.76" y1="394.6" x2="134.76" y2="395.9" stroke="#111" stroke-width="0.55"/>
<line x1="136.68" y1="394.6" x2="136.68" y2="395.9" stroke="#111" stroke-width="0.55"/>
<line x1="138.6" y1="394.6" x2="138.6" y2="396.6" stroke="#111" stroke-width="0.75"/>
<line x1="140.52" y1="394.6" x2="140.52" y2="395.9" stroke="#111" stroke-width="0.55"/>
<line x1="142.44" y1="394.6" x2="142.44" y2="395.9" stroke="#111" stroke-width="0.55"/>
<line x1="144.36" y1="394.6" x2="144.36" y2="396.6" stroke="#111" stroke-width="0.75"/>
<rect x="108.6" y="345" width="37" height="49.6" fill="none" stroke="#2a2a2a" stroke-width="1.1"/>
<line x1="108.3" y1="394.7" x2="145.9" y2="394.7" stroke="#111" stroke-width="1.4"/>
<path d="M147.9 370.2 C148.72 370.15 151.75 370.03 153 369.9 C154.25 369.77 155.11 369.99 155.7 369.4 C156.29 368.81 156.38 367.22 156.7 366.2 C157.02 365.18 157.33 364.28 157.7 363 C158.07 361.72 158.49 360.6 159 358.2 C159.51 355.8 160.28 348.32 160.9 348 C161.52 347.68 162.31 355.58 162.9 356.2 C163.49 356.82 164.1 351.58 164.6 351.9 C165.1 352.22 165.52 356.79 166 358.2 C166.48 359.61 167.12 360.06 167.6 360.7 C168.08 361.34 168.62 361.7 169 362.2 C169.38 362.7 169.6 363.08 170 363.8 C170.4 364.52 170.92 365.76 171.5 366.7 C172.08 367.64 171.62 369.14 173.6 369.7 C175.58 370.2 182.25 370.12 183.9 370.2 L183.9 370.2 L147.9 370.2 Z" fill="#f4f7e2"/>
<path d="M147.9 370.2 C148.72 370.15 151.75 370.03 153 369.9 C154.25 369.77 155.11 369.99 155.7 369.4 C156.29 368.81 156.38 367.22 156.7 366.2 C157.02 365.18 157.33 364.28 157.7 363 C158.07 361.72 158.49 360.6 159 358.2 C159.51 355.8 160.28 348.32 160.9 348 C161.52 347.68 162.31 355.58 162.9 356.2 C163.49 356.82 164.1 351.58 164.6 351.9 C165.1 352.22 165.52 356.79 166 358.2 C166.48 359.61 167.12 360.06 167.6 360.7 C168.08 361.34 168.62 361.7 169 362.2 C169.38 362.7 169.6 363.08 170 363.8 C170.4 364.52 170.92 365.76 171.5 366.7 C172.08 367.64 171.62 369.14 173.6 369.7 C175.58 370.2 182.25 370.12 183.9 370.2" fill="none" stroke="#b3c24a" stroke-width="0.9" stroke-linejoin="round"/>
<path d="M147.9 382.4 C149.04 382.35 153.62 382.26 155 382.1 C156.38 381.94 156.1 382.15 156.5 381.4 C156.9 380.65 157.1 379.48 157.5 377.4 C157.9 375.32 158.52 371.04 159 368.4 C159.48 365.76 159.94 360.26 160.5 360.9 C161.06 361.54 161.84 372.16 162.5 372.4 C163.16 372.64 164.07 362.72 164.6 362.4 C165.13 362.08 165.5 368.8 165.8 370.4 C166.1 372 166.23 372.24 166.5 372.4 C166.77 372.56 167.1 370.92 167.5 371.4 C167.9 371.88 168.44 374.6 169 375.4 C169.56 376.2 170.36 375.76 171 376.4 C171.64 377.04 172.36 378.68 173 379.4 C173.64 380.12 174.36 380.5 175 380.9 C175.64 381.3 175.58 381.66 177 381.9 C178.42 382.14 182.8 382.32 183.9 382.4 L183.9 382.4 L147.9 382.4 Z" fill="#e9f3df"/>
<path d="M147.9 382.4 C149.04 382.35 153.62 382.26 155 382.1 C156.38 381.94 156.1 382.15 156.5 381.4 C156.9 380.65 157.1 379.48 157.5 377.4 C157.9 375.32 158.52 371.04 159 368.4 C159.48 365.76 159.94 360.26 160.5 360.9 C161.06 361.54 161.84 372.16 162.5 372.4 C163.16 372.64 164.07 362.72 164.6 362.4 C165.13 362.08 165.5 368.8 165.8 370.4 C166.1 372 166.23 372.24 166.5 372.4 C166.77 372.56 167.1 370.92 167.5 371.4 C167.9 371.88 168.44 374.6 169 375.4 C169.56 376.2 170.36 375.76 171 376.4 C171.64 377.04 172.36 378.68 173 379.4 C173.64 380.12 174.36 380.5 175 380.9 C175.64 381.3 175.58 381.66 177 381.9 C178.42 382.14 182.8 382.32 183.9 382.4" fill="none" stroke="#52a83a" stroke-width="0.9" stroke-linejoin="round"/>
<path d="M147.9 394.2 C149.12 394.17 154.19 394.16 155.5 394 C156.1 393.84 155.81 394.2 156.1 393.2 C156.39 391.95 156.84 387.96 157.3 386.2 C157.76 384.44 158.42 383.85 159 382.2 C159.58 380.55 160.28 375.24 160.9 375.9 C161.52 376.56 162.31 385.79 162.9 386.3 C163.49 386.81 164.02 379.28 164.6 379.1 C165.18 378.92 165.88 383.74 166.5 385.2 C167.12 386.66 167.86 387.4 168.5 388.2 C169.14 389 169.86 389.64 170.5 390.2 C171.14 390.76 171.86 391.22 172.5 391.7 C173.14 392.18 173.86 392.88 174.5 393.2 C175.14 393.52 175.94 393.67 176.5 393.7 C177.06 393.73 177.44 393.37 178 393.4 C178.56 393.43 179.06 393.77 180 393.9 C180.94 394.03 183.28 394.15 183.9 394.2 L183.9 394.2 L147.9 394.2 Z" fill="#d3d8cc"/>
<path d="M147.9 394.2 C149.12 394.17 154.19 394.16 155.5 394 C156.1 393.84 155.81 394.2 156.1 393.2 C156.39 391.95 156.84 387.96 157.3 386.2 C157.76 384.44 158.42 383.85 159 382.2 C159.58 380.55 160.28 375.24 160.9 375.9 C161.52 376.56 162.31 385.79 162.9 386.3 C163.49 386.81 164.02 379.28 164.6 379.1 C165.18 378.92 165.88 383.74 166.5 385.2 C167.12 386.66 167.86 387.4 168.5 388.2 C169.14 389 169.86 389.64 170.5 390.2 C171.14 390.76 171.86 391.22 172.5 391.7 C173.14 392.18 173.86 392.88 174.5 393.2 C175.14 393.52 175.94 393.67 176.5 393.7 C177.06 393.73 177.44 393.37 178 393.4 C178.56 393.43 179.06 393.77 180 393.9 C180.94 394.03 183.28 394.15 183.9 394.2" fill="none" stroke="#1c2618" stroke-width="1" stroke-linejoin="round"/>
<line x1="175.6" y1="347.5" x2="175.6" y2="394.2" stroke="#2a2a2a" stroke-width="0.9" stroke-dasharray="1.3 1.5"/>
<line x1="148.6" y1="394.6" x2="148.6" y2="396.6" stroke="#111" stroke-width="0.75"/>
<line x1="150.52" y1="394.6" x2="150.52" y2="395.9" stroke="#111" stroke-width="0.55"/>
<line x1="152.44" y1="394.6" x2="152.44" y2="395.9" stroke="#111" stroke-width="0.55"/>
<line x1="154.36" y1="394.6" x2="154.36" y2="396.6" stroke="#111" stroke-width="0.75"/>
<line x1="156.28" y1="394.6" x2="156.28" y2="395.9" stroke="#111" stroke-width="0.55"/>
<line x1="158.2" y1="394.6" x2="158.2" y2="395.9" stroke="#111" stroke-width="0.55"/>
<line x1="160.12" y1="394.6" x2="160.12" y2="396.6" stroke="#111" stroke-width="0.75"/>
<line x1="162.04" y1="394.6" x2="162.04" y2="395.9" stroke="#111" stroke-width="0.55"/>
<line x1="163.96" y1="394.6" x2="163.96" y2="395.9" stroke="#111" stroke-width="0.55"/>
<line x1="165.88" y1="394.6" x2="165.88" y2="396.6" stroke="#111" stroke-width="0.75"/>
<line x1="167.8" y1="394.6" x2="167.8" y2="395.9" stroke="#111" stroke-width="0.55"/>
<line x1="169.72" y1="394.6" x2="169.72" y2="395.9" stroke="#111" stroke-width="0.55"/>
<line x1="171.64" y1="394.6" x2="171.64" y2="396.6" stroke="#111" stroke-width="0.75"/>
<line x1="173.56" y1="394.6" x2="173.56" y2="395.9" stroke="#111" stroke-width="0.55"/>
<line x1="175.48" y1="394.6" x2="175.48" y2="395.9" stroke="#111" stroke-width="0.55"/>
<line x1="177.4" y1="394.6" x2="177.4" y2="396.6" stroke="#111" stroke-width="0.75"/>
<line x1="179.32" y1="394.6" x2="179.32" y2="395.9" stroke="#111" stroke-width="0.55"/>
<line x1="181.24" y1="394.6" x2="181.24" y2="395.9" stroke="#111" stroke-width="0.55"/>
<line x1="183.16" y1="394.6" x2="183.16" y2="396.6" stroke="#111" stroke-width="0.75"/>
<rect x="147.4" y="345" width="37" height="49.6" fill="none" stroke="#2a2a2a" stroke-width="1.1"/>
<line x1="147.1" y1="394.7" x2="184.7" y2="394.7" stroke="#111" stroke-width="1.4"/>
<text x="128" y="417.4" font-size="6.6" text-anchor="middle">CD8</text>
<text x="63.6" y="447.4" font-size="6.3" text-anchor="end">4</text>
<line x1="66" y1="445.2" x2="69.8" y2="445.2" stroke="#111" stroke-width="0.9"/>
<text x="63.6" y="459.6" font-size="6.3" text-anchor="end">8</text>
<line x1="66" y1="457.4" x2="69.8" y2="457.4" stroke="#111" stroke-width="0.9"/>
<text x="63.6" y="471.4" font-size="6.3" text-anchor="end">≥16</text>
<line x1="66" y1="469.2" x2="69.8" y2="469.2" stroke="#111" stroke-width="0.9"/>
<path d="M70.3 445.2 C74.33 445.15 91.15 445.06 95.5 444.9 C97.5 444.74 97.02 444.63 97.5 444.2 C97.98 443.77 98.2 443.64 98.5 442.2 C98.8 440.76 99.14 437.26 99.4 435.2 C99.66 433.14 99.88 429.3 100.1 429.3 C100.32 429.3 100.56 433.14 100.8 435.2 C101.04 437.26 101.33 440.73 101.6 442.2 C101.87 443.67 102.12 443.95 102.5 444.4 C102.88 444.85 103.39 444.87 104 445 C104.61 445.13 105.93 445.17 106.3 445.2 L106.3 445.2 L70.3 445.2 Z" fill="#f6f1fa"/>
<path d="M70.3 445.2 C74.33 445.15 91.15 445.06 95.5 444.9 C97.5 444.74 97.02 444.63 97.5 444.2 C97.98 443.77 98.2 443.64 98.5 442.2 C98.8 440.76 99.14 437.26 99.4 435.2 C99.66 433.14 99.88 429.3 100.1 429.3 C100.32 429.3 100.56 433.14 100.8 435.2 C101.04 437.26 101.33 440.73 101.6 442.2 C101.87 443.67 102.12 443.95 102.5 444.4 C102.88 444.85 103.39 444.87 104 445 C104.61 445.13 105.93 445.17 106.3 445.2" fill="none" stroke="#b9a2d2" stroke-width="0.9" stroke-linejoin="round"/>
<path d="M70.3 457.4 C74.12 457.35 90.17 457.4 94.2 457.1 C95.5 456.78 95.12 455.94 95.5 455.4 C95.88 454.86 96.23 453.94 96.6 453.7 C96.97 453.46 97.45 454.59 97.8 453.9 C98.15 453.21 98.5 450.95 98.8 449.4 C99.1 447.85 99.41 444.2 99.7 444.2 C99.99 444.2 100.31 447.69 100.6 449.4 C100.89 451.11 101.2 453.68 101.5 454.9 C101.8 456.12 101.73 456.6 102.5 457 C103.27 457.4 105.69 457.34 106.3 457.4 L106.3 457.4 L70.3 457.4 Z" fill="#f0eaf7"/>
<path d="M70.3 457.4 C74.12 457.35 90.17 457.4 94.2 457.1 C95.5 456.78 95.12 455.94 95.5 455.4 C95.88 454.86 96.23 453.94 96.6 453.7 C96.97 453.46 97.45 454.59 97.8 453.9 C98.15 453.21 98.5 450.95 98.8 449.4 C99.1 447.85 99.41 444.2 99.7 444.2 C99.99 444.2 100.31 447.69 100.6 449.4 C100.89 451.11 101.2 453.68 101.5 454.9 C101.8 456.12 101.73 456.6 102.5 457 C103.27 457.4 105.69 457.34 106.3 457.4" fill="none" stroke="#55388c" stroke-width="0.9" stroke-linejoin="round"/>
<path d="M70.3 469.2 C74.19 469.15 90.55 469.2 94.6 468.9 C95.6 468.1 95.22 466.57 95.6 464.2 C95.98 461.83 96.58 455.22 97 454.1 C97.42 452.98 97.83 457.46 98.2 457.2 C98.57 456.94 98.96 452.18 99.3 452.5 C99.64 452.82 100.03 457.17 100.3 459.2 C100.57 461.23 100.78 463.73 101 465.2 C101.22 466.67 101.46 467.78 101.7 468.4 C101.94 469.02 101.76 468.97 102.5 469.1 C103.24 469.2 105.69 469.18 106.3 469.2 L106.3 469.2 L70.3 469.2 Z" fill="#b77dc8"/>
<path d="M70.3 469.2 C74.19 469.15 90.55 469.2 94.6 468.9 C95.6 468.1 95.22 466.57 95.6 464.2 C95.98 461.83 96.58 455.22 97 454.1 C97.42 452.98 97.83 457.46 98.2 457.2 C98.57 456.94 98.96 452.18 99.3 452.5 C99.64 452.82 100.03 457.17 100.3 459.2 C100.57 461.23 100.78 463.73 101 465.2 C101.22 466.67 101.46 467.78 101.7 468.4 C101.94 469.02 101.76 468.97 102.5 469.1 C103.24 469.2 105.69 469.18 106.3 469.2" fill="none" stroke="#3a1248" stroke-width="1" stroke-linejoin="round"/>
<line x1="98.4" y1="422.5" x2="98.4" y2="469.2" stroke="#2a2a2a" stroke-width="0.9" stroke-dasharray="1.3 1.5"/>
<line x1="71" y1="469.6" x2="71" y2="471.6" stroke="#111" stroke-width="0.75"/>
<line x1="72.92" y1="469.6" x2="72.92" y2="470.9" stroke="#111" stroke-width="0.55"/>
<line x1="74.84" y1="469.6" x2="74.84" y2="470.9" stroke="#111" stroke-width="0.55"/>
<line x1="76.76" y1="469.6" x2="76.76" y2="471.6" stroke="#111" stroke-width="0.75"/>
<line x1="78.68" y1="469.6" x2="78.68" y2="470.9" stroke="#111" stroke-width="0.55"/>
<line x1="80.6" y1="469.6" x2="80.6" y2="470.9" stroke="#111" stroke-width="0.55"/>
<line x1="82.52" y1="469.6" x2="82.52" y2="471.6" stroke="#111" stroke-width="0.75"/>
<line x1="84.44" y1="469.6" x2="84.44" y2="470.9" stroke="#111" stroke-width="0.55"/>
<line x1="86.36" y1="469.6" x2="86.36" y2="470.9" stroke="#111" stroke-width="0.55"/>
<line x1="88.28" y1="469.6" x2="88.28" y2="471.6" stroke="#111" stroke-width="0.75"/>
<line x1="90.2" y1="469.6" x2="90.2" y2="470.9" stroke="#111" stroke-width="0.55"/>
<line x1="92.12" y1="469.6" x2="92.12" y2="470.9" stroke="#111" stroke-width="0.55"/>
<line x1="94.04" y1="469.6" x2="94.04" y2="471.6" stroke="#111" stroke-width="0.75"/>
<line x1="95.96" y1="469.6" x2="95.96" y2="470.9" stroke="#111" stroke-width="0.55"/>
<line x1="97.88" y1="469.6" x2="97.88" y2="470.9" stroke="#111" stroke-width="0.55"/>
<line x1="99.8" y1="469.6" x2="99.8" y2="471.6" stroke="#111" stroke-width="0.75"/>
<line x1="101.72" y1="469.6" x2="101.72" y2="470.9" stroke="#111" stroke-width="0.55"/>
<line x1="103.64" y1="469.6" x2="103.64" y2="470.9" stroke="#111" stroke-width="0.55"/>
<line x1="105.56" y1="469.6" x2="105.56" y2="471.6" stroke="#111" stroke-width="0.75"/>
<rect x="69.8" y="420" width="37" height="49.6" fill="none" stroke="#2a2a2a" stroke-width="1.1"/>
<line x1="69.5" y1="469.7" x2="107.1" y2="469.7" stroke="#111" stroke-width="1.4"/>
<path d="M109.1 445.2 C110.84 445.15 117.89 445 120 444.9 C122.11 444.8 121.66 445.03 122.3 444.6 C122.94 444.17 123.42 443.38 124 442.2 C124.58 441.02 125.34 438.32 125.9 437.2 C126.46 436.08 127.08 436.48 127.5 435.2 C127.92 433.92 128.21 431.15 128.5 429.2 C128.79 427.25 129.03 422.84 129.3 423 C129.57 423.16 129.9 428.25 130.2 430.2 C130.5 432.15 130.88 434.26 131.2 435.2 C131.52 436.14 131.83 435.3 132.2 436.1 C132.57 436.9 132.99 438.87 133.5 440.2 C134.01 441.53 134.84 443.79 135.4 444.4 C135.96 445.01 136.58 444.11 137 444 C137.42 443.89 137.6 443.59 138 443.7 C138.4 443.81 138.36 444.46 139.5 444.7 C140.64 444.94 144.2 445.12 145.1 445.2 L145.1 445.2 L109.1 445.2 Z" fill="#f6f1fa"/>
<path d="M109.1 445.2 C110.84 445.15 117.89 445 120 444.9 C122.11 444.8 121.66 445.03 122.3 444.6 C122.94 444.17 123.42 443.38 124 442.2 C124.58 441.02 125.34 438.32 125.9 437.2 C126.46 436.08 127.08 436.48 127.5 435.2 C127.92 433.92 128.21 431.15 128.5 429.2 C128.79 427.25 129.03 422.84 129.3 423 C129.57 423.16 129.9 428.25 130.2 430.2 C130.5 432.15 130.88 434.26 131.2 435.2 C131.52 436.14 131.83 435.3 132.2 436.1 C132.57 436.9 132.99 438.87 133.5 440.2 C134.01 441.53 134.84 443.79 135.4 444.4 C135.96 445.01 136.58 444.11 137 444 C137.42 443.89 137.6 443.59 138 443.7 C138.4 443.81 138.36 444.46 139.5 444.7 C140.64 444.94 144.2 445.12 145.1 445.2" fill="none" stroke="#b9a2d2" stroke-width="0.9" stroke-linejoin="round"/>
<path d="M109.1 457.4 C111 457.37 118.82 457.3 121 457.2 C122.7 457.1 122.14 457.4 122.7 456.8 C123.26 456.03 123.96 453.78 124.5 452.4 C125.04 451.02 125.62 448.04 126.1 448.2 C126.58 448.36 127.12 453.53 127.5 453.4 C127.88 453.27 128.21 449.83 128.5 447.4 C128.79 444.97 129.04 438.2 129.3 438.2 C129.56 438.2 129.83 445.18 130.1 447.4 C130.37 449.62 130.62 451.06 131 452.1 C131.38 453.14 131.94 453.29 132.5 453.9 C133.06 454.51 133.84 455.74 134.5 455.9 C135.16 456.06 136.04 454.82 136.6 454.9 C137.16 454.98 137.46 456.03 138 456.4 C138.54 456.77 138.86 457.04 140 457.2 C141.14 457.36 144.28 457.37 145.1 457.4 L145.1 457.4 L109.1 457.4 Z" fill="#f0eaf7"/>
<path d="M109.1 457.4 C111 457.37 118.82 457.3 121 457.2 C122.7 457.1 122.14 457.4 122.7 456.8 C123.26 456.03 123.96 453.78 124.5 452.4 C125.04 451.02 125.62 448.04 126.1 448.2 C126.58 448.36 127.12 453.53 127.5 453.4 C127.88 453.27 128.21 449.83 128.5 447.4 C128.79 444.97 129.04 438.2 129.3 438.2 C129.56 438.2 129.83 445.18 130.1 447.4 C130.37 449.62 130.62 451.06 131 452.1 C131.38 453.14 131.94 453.29 132.5 453.9 C133.06 454.51 133.84 455.74 134.5 455.9 C135.16 456.06 136.04 454.82 136.6 454.9 C137.16 454.98 137.46 456.03 138 456.4 C138.54 456.77 138.86 457.04 140 457.2 C141.14 457.36 144.28 457.37 145.1 457.4" fill="none" stroke="#55388c" stroke-width="0.9" stroke-linejoin="round"/>
<path d="M109.1 469.2 C111.47 469.15 121.39 469.2 123.9 468.9 C124.8 468.58 124.54 467.63 124.8 467.2 C125.06 466.77 125.18 466.28 125.5 466.2 C125.82 466.12 126.37 467.34 126.8 466.7 C127.23 466.06 127.8 464.22 128.2 462.2 C128.6 460.18 128.96 454.1 129.3 454.1 C129.64 454.1 129.98 460.42 130.3 462.2 C130.62 463.98 130.98 465.22 131.3 465.2 C131.62 465.18 131.96 461.94 132.3 462.1 C132.64 462.26 132.97 465.54 133.4 466.2 C133.83 466.86 134.55 465.96 135 466.2 C135.45 466.44 135.8 467.62 136.2 467.7 C136.6 467.78 137.08 467.23 137.5 466.7 C137.92 466.17 138.43 464.32 138.8 464.4 C139.17 464.48 139.53 466.48 139.8 467.2 C140.07 467.92 139.8 468.58 140.5 468.9 C141.35 469.2 144.36 469.15 145.1 469.2 L145.1 469.2 L109.1 469.2 Z" fill="#b77dc8"/>
<path d="M109.1 469.2 C111.47 469.15 121.39 469.2 123.9 468.9 C124.8 468.58 124.54 467.63 124.8 467.2 C125.06 466.77 125.18 466.28 125.5 466.2 C125.82 466.12 126.37 467.34 126.8 466.7 C127.23 466.06 127.8 464.22 128.2 462.2 C128.6 460.18 128.96 454.1 129.3 454.1 C129.64 454.1 129.98 460.42 130.3 462.2 C130.62 463.98 130.98 465.22 131.3 465.2 C131.62 465.18 131.96 461.94 132.3 462.1 C132.64 462.26 132.97 465.54 133.4 466.2 C133.83 466.86 134.55 465.96 135 466.2 C135.45 466.44 135.8 467.62 136.2 467.7 C136.6 467.78 137.08 467.23 137.5 466.7 C137.92 466.17 138.43 464.32 138.8 464.4 C139.17 464.48 139.53 466.48 139.8 467.2 C140.07 467.92 139.8 468.58 140.5 468.9 C141.35 469.2 144.36 469.15 145.1 469.2" fill="none" stroke="#3a1248" stroke-width="1" stroke-linejoin="round"/>
<line x1="137" y1="422.5" x2="137" y2="469.2" stroke="#2a2a2a" stroke-width="0.9" stroke-dasharray="1.3 1.5"/>
<line x1="109.8" y1="469.6" x2="109.8" y2="471.6" stroke="#111" stroke-width="0.75"/>
<line x1="111.72" y1="469.6" x2="111.72" y2="470.9" stroke="#111" stroke-width="0.55"/>
<line x1="113.64" y1="469.6" x2="113.64" y2="470.9" stroke="#111" stroke-width="0.55"/>
<line x1="115.56" y1="469.6" x2="115.56" y2="471.6" stroke="#111" stroke-width="0.75"/>
<line x1="117.48" y1="469.6" x2="117.48" y2="470.9" stroke="#111" stroke-width="0.55"/>
<line x1="119.4" y1="469.6" x2="119.4" y2="470.9" stroke="#111" stroke-width="0.55"/>
<line x1="121.32" y1="469.6" x2="121.32" y2="471.6" stroke="#111" stroke-width="0.75"/>
<line x1="123.24" y1="469.6" x2="123.24" y2="470.9" stroke="#111" stroke-width="0.55"/>
<line x1="125.16" y1="469.6" x2="125.16" y2="470.9" stroke="#111" stroke-width="0.55"/>
<line x1="127.08" y1="469.6" x2="127.08" y2="471.6" stroke="#111" stroke-width="0.75"/>
<line x1="129" y1="469.6" x2="129" y2="470.9" stroke="#111" stroke-width="0.55"/>
<line x1="130.92" y1="469.6" x2="130.92" y2="470.9" stroke="#111" stroke-width="0.55"/>
<line x1="132.84" y1="469.6" x2="132.84" y2="471.6" stroke="#111" stroke-width="0.75"/>
<line x1="134.76" y1="469.6" x2="134.76" y2="470.9" stroke="#111" stroke-width="0.55"/>
<line x1="136.68" y1="469.6" x2="136.68" y2="470.9" stroke="#111" stroke-width="0.55"/>
<line x1="138.6" y1="469.6" x2="138.6" y2="471.6" stroke="#111" stroke-width="0.75"/>
<line x1="140.52" y1="469.6" x2="140.52" y2="470.9" stroke="#111" stroke-width="0.55"/>
<line x1="142.44" y1="469.6" x2="142.44" y2="470.9" stroke="#111" stroke-width="0.55"/>
<line x1="144.36" y1="469.6" x2="144.36" y2="471.6" stroke="#111" stroke-width="0.75"/>
<rect x="108.6" y="420" width="37" height="49.6" fill="none" stroke="#2a2a2a" stroke-width="1.1"/>
<line x1="108.3" y1="469.7" x2="145.9" y2="469.7" stroke="#111" stroke-width="1.4"/>
<path d="M147.9 445.2 C148.32 445.17 149.88 445.08 150.5 445 C151.12 444.92 151.32 445.15 151.8 444.7 C152.28 444.25 152.99 443.72 153.5 442.2 C154.01 440.68 154.46 437.9 155 435.2 C155.54 432.5 156.37 426.42 156.9 425.3 C157.43 424.18 157.85 428.2 158.3 428.2 C158.75 428.2 159.19 424.82 159.7 425.3 C160.21 425.78 160.86 429.54 161.5 431.2 C162.14 432.86 163.06 434.5 163.7 435.7 C164.34 436.9 164.88 437.76 165.5 438.7 C166.12 439.64 167.04 440.8 167.6 441.6 C168.16 442.4 168.54 443.17 169 443.7 C169.46 444.23 169 444.66 170.5 444.9 C172.88 445.14 181.76 445.15 183.9 445.2 L183.9 445.2 L147.9 445.2 Z" fill="#f6f1fa"/>
<path d="M147.9 445.2 C148.32 445.17 149.88 445.08 150.5 445 C151.12 444.92 151.32 445.15 151.8 444.7 C152.28 444.25 152.99 443.72 153.5 442.2 C154.01 440.68 154.46 437.9 155 435.2 C155.54 432.5 156.37 426.42 156.9 425.3 C157.43 424.18 157.85 428.2 158.3 428.2 C158.75 428.2 159.19 424.82 159.7 425.3 C160.21 425.78 160.86 429.54 161.5 431.2 C162.14 432.86 163.06 434.5 163.7 435.7 C164.34 436.9 164.88 437.76 165.5 438.7 C166.12 439.64 167.04 440.8 167.6 441.6 C168.16 442.4 168.54 443.17 169 443.7 C169.46 444.23 169 444.66 170.5 444.9 C172.88 445.14 181.76 445.15 183.9 445.2" fill="none" stroke="#b9a2d2" stroke-width="0.9" stroke-linejoin="round"/>
<path d="M147.9 457.4 C148.56 457.35 151.14 457.23 152 457.1 C152.86 456.97 152.9 457.19 153.3 456.6 C153.7 456.01 154.07 455.19 154.5 453.4 C154.93 451.61 155.55 447.43 156 445.4 C156.45 443.37 156.87 441.18 157.3 440.7 C157.73 440.22 158.25 442.59 158.7 442.4 C159.15 442.21 159.65 439.02 160.1 439.5 C160.55 439.98 160.92 443.82 161.5 445.4 C162.08 446.98 163.06 448.28 163.7 449.4 C164.34 450.52 164.81 451.57 165.5 452.4 C166.19 453.23 167.28 453.96 168 454.6 C168.72 455.24 169.36 456 170 456.4 C170.64 456.8 170 456.94 172 457.1 C174.22 457.26 182 457.35 183.9 457.4 L183.9 457.4 L147.9 457.4 Z" fill="#f0eaf7"/>
<path d="M147.9 457.4 C148.56 457.35 151.14 457.23 152 457.1 C152.86 456.97 152.9 457.19 153.3 456.6 C153.7 456.01 154.07 455.19 154.5 453.4 C154.93 451.61 155.55 447.43 156 445.4 C156.45 443.37 156.87 441.18 157.3 440.7 C157.73 440.22 158.25 442.59 158.7 442.4 C159.15 442.21 159.65 439.02 160.1 439.5 C160.55 439.98 160.92 443.82 161.5 445.4 C162.08 446.98 163.06 448.28 163.7 449.4 C164.34 450.52 164.81 451.57 165.5 452.4 C166.19 453.23 167.28 453.96 168 454.6 C168.72 455.24 169.36 456 170 456.4 C170.64 456.8 170 456.94 172 457.1 C174.22 457.26 182 457.35 183.9 457.4" fill="none" stroke="#55388c" stroke-width="0.9" stroke-linejoin="round"/>
<path d="M147.9 469.2 C148.6 469.17 151.48 469.16 152.3 469 C153 468.84 152.65 468.97 153 468.2 C153.35 467.43 154.02 465.8 154.5 464.2 C154.98 462.6 155.55 459.94 156 458.2 C156.45 456.46 156.85 453.94 157.3 453.3 C157.75 452.66 158.29 454.65 158.8 454.2 C159.31 453.75 159.99 450.02 160.5 450.5 C161.01 450.98 161.57 455.49 162 457.2 C162.43 458.91 162.8 460.48 163.2 461.2 C163.6 461.92 164.05 461.22 164.5 461.7 C164.95 462.18 165.44 463.51 166 464.2 C166.56 464.89 167.44 465.52 168 466 C168.56 466.48 169.02 466.82 169.5 467.2 C169.98 467.58 170.52 468.11 171 468.4 C171.48 468.69 171 468.87 172.5 469 C174.56 469.13 182.08 469.17 183.9 469.2 L183.9 469.2 L147.9 469.2 Z" fill="#b77dc8"/>
<path d="M147.9 469.2 C148.6 469.17 151.48 469.16 152.3 469 C153 468.84 152.65 468.97 153 468.2 C153.35 467.43 154.02 465.8 154.5 464.2 C154.98 462.6 155.55 459.94 156 458.2 C156.45 456.46 156.85 453.94 157.3 453.3 C157.75 452.66 158.29 454.65 158.8 454.2 C159.31 453.75 159.99 450.02 160.5 450.5 C161.01 450.98 161.57 455.49 162 457.2 C162.43 458.91 162.8 460.48 163.2 461.2 C163.6 461.92 164.05 461.22 164.5 461.7 C164.95 462.18 165.44 463.51 166 464.2 C166.56 464.89 167.44 465.52 168 466 C168.56 466.48 169.02 466.82 169.5 467.2 C169.98 467.58 170.52 468.11 171 468.4 C171.48 468.69 171 468.87 172.5 469 C174.56 469.13 182.08 469.17 183.9 469.2" fill="none" stroke="#3a1248" stroke-width="1" stroke-linejoin="round"/>
<line x1="175.5" y1="422.5" x2="175.5" y2="469.2" stroke="#2a2a2a" stroke-width="0.9" stroke-dasharray="1.3 1.5"/>
<line x1="148.6" y1="469.6" x2="148.6" y2="471.6" stroke="#111" stroke-width="0.75"/>
<line x1="150.52" y1="469.6" x2="150.52" y2="470.9" stroke="#111" stroke-width="0.55"/>
<line x1="152.44" y1="469.6" x2="152.44" y2="470.9" stroke="#111" stroke-width="0.55"/>
<line x1="154.36" y1="469.6" x2="154.36" y2="471.6" stroke="#111" stroke-width="0.75"/>
<line x1="156.28" y1="469.6" x2="156.28" y2="470.9" stroke="#111" stroke-width="0.55"/>
<line x1="158.2" y1="469.6" x2="158.2" y2="470.9" stroke="#111" stroke-width="0.55"/>
<line x1="160.12" y1="469.6" x2="160.12" y2="471.6" stroke="#111" stroke-width="0.75"/>
<line x1="162.04" y1="469.6" x2="162.04" y2="470.9" stroke="#111" stroke-width="0.55"/>
<line x1="163.96" y1="469.6" x2="163.96" y2="470.9" stroke="#111" stroke-width="0.55"/>
<line x1="165.88" y1="469.6" x2="165.88" y2="471.6" stroke="#111" stroke-width="0.75"/>
<line x1="167.8" y1="469.6" x2="167.8" y2="470.9" stroke="#111" stroke-width="0.55"/>
<line x1="169.72" y1="469.6" x2="169.72" y2="470.9" stroke="#111" stroke-width="0.55"/>
<line x1="171.64" y1="469.6" x2="171.64" y2="471.6" stroke="#111" stroke-width="0.75"/>
<line x1="173.56" y1="469.6" x2="173.56" y2="470.9" stroke="#111" stroke-width="0.55"/>
<line x1="175.48" y1="469.6" x2="175.48" y2="470.9" stroke="#111" stroke-width="0.55"/>
<line x1="177.4" y1="469.6" x2="177.4" y2="471.6" stroke="#111" stroke-width="0.75"/>
<line x1="179.32" y1="469.6" x2="179.32" y2="470.9" stroke="#111" stroke-width="0.55"/>
<line x1="181.24" y1="469.6" x2="181.24" y2="470.9" stroke="#111" stroke-width="0.55"/>
<line x1="183.16" y1="469.6" x2="183.16" y2="471.6" stroke="#111" stroke-width="0.75"/>
<rect x="147.4" y="420" width="37" height="49.6" fill="none" stroke="#2a2a2a" stroke-width="1.1"/>
<line x1="147.1" y1="469.7" x2="184.7" y2="469.7" stroke="#111" stroke-width="1.4"/>
<text x="88.8" y="480.4" font-size="6.2" text-anchor="middle">48 hr</text>
<text x="127.5" y="480.4" font-size="6.2" text-anchor="middle">72 hr</text>
<text x="165.2" y="480.4" font-size="6.2" text-anchor="middle">96 hr</text>
<text x="73.8" y="490.4" font-size="8.1" text-anchor="middle" fill="#111" textLength="10" lengthAdjust="spacingAndGlyphs" class="c">CTV</text>
<line x1="88.7" y1="488.6" x2="180" y2="488.6" stroke="#111" stroke-width="1"/>
<path d="M186 488.6 L177.5 485.6 L177.5 491.6 Z" fill="#111"/>
<text x="28.6" y="185.3" font-size="6.4" textLength="28.5" lengthAdjust="spacingAndGlyphs">Weeks on</text>
<text x="28.6" y="193.2" font-size="6.4" textLength="29" lengthAdjust="spacingAndGlyphs">venetoclax</text>
<text x="28.6" y="349.3" font-size="6.4" textLength="28.5" lengthAdjust="spacingAndGlyphs">Weeks on</text>
<text x="28.6" y="357.2" font-size="6.4" textLength="29" lengthAdjust="spacingAndGlyphs">venetoclax</text>
<rect x="236.65" y="240.9" width="3.7" height="3.3" fill="#eef4e6"/>
<line x1="238.5" y1="240.9" x2="238.5" y2="239.8" stroke="#444" stroke-width="0.55"/>
<line x1="237.6" y1="239.8" x2="239.4" y2="239.8" stroke="#444" stroke-width="0.55"/>
<rect x="238.83" y="241.38" width="0.8" height="0.8" fill="#8fb870" opacity="0.8"/>
<rect x="237.59" y="239.86" width="0.8" height="0.8" fill="#8fb870" opacity="0.8"/>
<rect x="237.99" y="240.51" width="0.8" height="0.8" fill="#8fb870" opacity="0.8"/>
<rect x="238.71" y="240.13" width="0.8" height="0.8" fill="#8fb870" opacity="0.8"/>
<rect x="240.35" y="242" width="3.7" height="2.2" fill="#d4e7bf"/>
<line x1="242.2" y1="242" x2="242.2" y2="240.9" stroke="#444" stroke-width="0.55"/>
<line x1="241.3" y1="240.9" x2="243.1" y2="240.9" stroke="#444" stroke-width="0.55"/>
<rect x="240.81" y="242.58" width="0.8" height="0.8" fill="#5f9a45" opacity="0.8"/>
<rect x="241.66" y="240.79" width="0.8" height="0.8" fill="#5f9a45" opacity="0.8"/>
<rect x="240.75" y="240.97" width="0.8" height="0.8" fill="#5f9a45" opacity="0.8"/>
<rect x="242.27" y="241.73" width="0.8" height="0.8" fill="#5f9a45" opacity="0.8"/>
<rect x="244.05" y="240.35" width="3.7" height="3.85" fill="#b9d59f"/>
<line x1="245.9" y1="240.35" x2="245.9" y2="239.52" stroke="#444" stroke-width="0.55"/>
<line x1="245" y1="239.52" x2="246.8" y2="239.52" stroke="#444" stroke-width="0.55"/>
<rect x="246.44" y="240.44" width="0.8" height="0.8" fill="#2f5a22" opacity="0.8"/>
<rect x="244.51" y="239.22" width="0.8" height="0.8" fill="#2f5a22" opacity="0.8"/>
<rect x="245.59" y="240.81" width="0.8" height="0.8" fill="#2f5a22" opacity="0.8"/>
<rect x="245.25" y="239.15" width="0.8" height="0.8" fill="#2f5a22" opacity="0.8"/>
<rect x="253.95" y="199.65" width="3.7" height="44.55" fill="#eef4e6"/>
<line x1="255.8" y1="199.65" x2="255.8" y2="194.15" stroke="#444" stroke-width="0.55"/>
<line x1="254.9" y1="194.15" x2="256.7" y2="194.15" stroke="#444" stroke-width="0.55"/>
<rect x="255.24" y="202.68" width="0.8" height="0.8" fill="#8fb870" opacity="0.8"/>
<rect x="254.82" y="204.95" width="0.8" height="0.8" fill="#8fb870" opacity="0.8"/>
<rect x="255.39" y="200" width="0.8" height="0.8" fill="#8fb870" opacity="0.8"/>
<rect x="254.83" y="202.48" width="0.8" height="0.8" fill="#8fb870" opacity="0.8"/>
<rect x="257.65" y="207.9" width="3.7" height="36.3" fill="#d4e7bf"/>
<line x1="259.5" y1="207.9" x2="259.5" y2="201.3" stroke="#444" stroke-width="0.55"/>
<line x1="258.6" y1="201.3" x2="260.4" y2="201.3" stroke="#444" stroke-width="0.55"/>
<rect x="259.02" y="211.58" width="0.8" height="0.8" fill="#5f9a45" opacity="0.8"/>
<rect x="258.1" y="210.55" width="0.8" height="0.8" fill="#5f9a45" opacity="0.8"/>
<rect x="259.22" y="202.6" width="0.8" height="0.8" fill="#5f9a45" opacity="0.8"/>
<rect x="258.44" y="205.43" width="0.8" height="0.8" fill="#5f9a45" opacity="0.8"/>
<rect x="261.35" y="204.05" width="3.7" height="40.15" fill="#b9d59f"/>
<line x1="263.2" y1="204.05" x2="263.2" y2="199.65" stroke="#444" stroke-width="0.55"/>
<line x1="262.3" y1="199.65" x2="264.1" y2="199.65" stroke="#444" stroke-width="0.55"/>
<rect x="263.56" y="198.43" width="0.8" height="0.8" fill="#2f5a22" opacity="0.8"/>
<rect x="262.45" y="207.67" width="0.8" height="0.8" fill="#2f5a22" opacity="0.8"/>
<rect x="263.24" y="201.3" width="0.8" height="0.8" fill="#2f5a22" opacity="0.8"/>
<rect x="262.64" y="199.02" width="0.8" height="0.8" fill="#2f5a22" opacity="0.8"/>
<rect x="270.05" y="192.5" width="3.7" height="51.7" fill="#eef4e6"/>
<line x1="271.9" y1="192.5" x2="271.9" y2="190.3" stroke="#444" stroke-width="0.55"/>
<line x1="271" y1="190.3" x2="272.8" y2="190.3" stroke="#444" stroke-width="0.55"/>
<rect x="271.86" y="187.6" width="0.8" height="0.8" fill="#8fb870" opacity="0.8"/>
<rect x="271.68" y="194.78" width="0.8" height="0.8" fill="#8fb870" opacity="0.8"/>
<rect x="272.23" y="186.88" width="0.8" height="0.8" fill="#8fb870" opacity="0.8"/>
<rect x="271.69" y="192.03" width="0.8" height="0.8" fill="#8fb870" opacity="0.8"/>
<rect x="273.75" y="202.95" width="3.7" height="41.25" fill="#d4e7bf"/>
<line x1="275.6" y1="202.95" x2="275.6" y2="197.45" stroke="#444" stroke-width="0.55"/>
<line x1="274.7" y1="197.45" x2="276.5" y2="197.45" stroke="#444" stroke-width="0.55"/>
<rect x="274.66" y="208.18" width="0.8" height="0.8" fill="#5f9a45" opacity="0.8"/>
<rect x="275.02" y="198.95" width="0.8" height="0.8" fill="#5f9a45" opacity="0.8"/>
<rect x="275.3" y="206.51" width="0.8" height="0.8" fill="#5f9a45" opacity="0.8"/>
<rect x="275.57" y="200.09" width="0.8" height="0.8" fill="#5f9a45" opacity="0.8"/>
<rect x="277.45" y="196.35" width="3.7" height="47.85" fill="#b9d59f"/>
<line x1="279.3" y1="196.35" x2="279.3" y2="193.05" stroke="#444" stroke-width="0.55"/>
<line x1="278.4" y1="193.05" x2="280.2" y2="193.05" stroke="#444" stroke-width="0.55"/>
<rect x="278.77" y="197.53" width="0.8" height="0.8" fill="#2f5a22" opacity="0.8"/>
<rect x="279.48" y="195.84" width="0.8" height="0.8" fill="#2f5a22" opacity="0.8"/>
<rect x="278.68" y="195.69" width="0.8" height="0.8" fill="#2f5a22" opacity="0.8"/>
<rect x="277.91" y="196.08" width="0.8" height="0.8" fill="#2f5a22" opacity="0.8"/>
<rect x="286.25" y="190.3" width="3.7" height="53.9" fill="#eef4e6"/>
<line x1="288.1" y1="190.3" x2="288.1" y2="189.47" stroke="#444" stroke-width="0.55"/>
<line x1="287.2" y1="189.47" x2="289" y2="189.47" stroke="#444" stroke-width="0.55"/>
<rect x="288.13" y="196.4" width="0.8" height="0.8" fill="#8fb870" opacity="0.8"/>
<rect x="287.9" y="183.02" width="0.8" height="0.8" fill="#8fb870" opacity="0.8"/>
<rect x="287.01" y="191.41" width="0.8" height="0.8" fill="#8fb870" opacity="0.8"/>
<rect x="288.71" y="189.87" width="0.8" height="0.8" fill="#8fb870" opacity="0.8"/>
<rect x="289.95" y="191.4" width="3.7" height="52.8" fill="#d4e7bf"/>
<line x1="291.8" y1="191.4" x2="291.8" y2="190.3" stroke="#444" stroke-width="0.55"/>
<line x1="290.9" y1="190.3" x2="292.7" y2="190.3" stroke="#444" stroke-width="0.55"/>
<rect x="291.48" y="187.23" width="0.8" height="0.8" fill="#5f9a45" opacity="0.8"/>
<rect x="290.84" y="185.98" width="0.8" height="0.8" fill="#5f9a45" opacity="0.8"/>
<rect x="292.35" y="190.81" width="0.8" height="0.8" fill="#5f9a45" opacity="0.8"/>
<rect x="291.31" y="189.92" width="0.8" height="0.8" fill="#5f9a45" opacity="0.8"/>
<rect x="293.65" y="190.85" width="3.7" height="53.35" fill="#b9d59f"/>
<line x1="295.5" y1="190.85" x2="295.5" y2="190.02" stroke="#444" stroke-width="0.55"/>
<line x1="294.6" y1="190.02" x2="296.4" y2="190.02" stroke="#444" stroke-width="0.55"/>
<rect x="295.2" y="193.7" width="0.8" height="0.8" fill="#2f5a22" opacity="0.8"/>
<rect x="294.06" y="184.01" width="0.8" height="0.8" fill="#2f5a22" opacity="0.8"/>
<rect x="295.77" y="186.45" width="0.8" height="0.8" fill="#2f5a22" opacity="0.8"/>
<rect x="295.61" y="185.01" width="0.8" height="0.8" fill="#2f5a22" opacity="0.8"/>
<line x1="235.2" y1="187" x2="235.2" y2="244.7" stroke="#111" stroke-width="1.1"/>
<line x1="234.7" y1="244.2" x2="298.2" y2="244.2" stroke="#111" stroke-width="1.1"/>
<line x1="232" y1="244.2" x2="235.2" y2="244.2" stroke="#111" stroke-width="0.8"/>
<text x="228.8" y="246.6" font-size="6.4" text-anchor="end">0</text>
<line x1="232" y1="233.2" x2="235.2" y2="233.2" stroke="#111" stroke-width="0.8"/>
<text x="228.8" y="235.6" font-size="6.4" text-anchor="end">20</text>
<line x1="232" y1="222.2" x2="235.2" y2="222.2" stroke="#111" stroke-width="0.8"/>
<text x="228.8" y="224.6" font-size="6.4" text-anchor="end">40</text>
<line x1="232" y1="211.2" x2="235.2" y2="211.2" stroke="#111" stroke-width="0.8"/>
<text x="228.8" y="213.6" font-size="6.4" text-anchor="end">60</text>
<line x1="232" y1="200.2" x2="235.2" y2="200.2" stroke="#111" stroke-width="0.8"/>
<text x="228.8" y="202.6" font-size="6.4" text-anchor="end">80</text>
<line x1="232" y1="189.2" x2="235.2" y2="189.2" stroke="#111" stroke-width="0.8"/>
<text x="228.8" y="191.6" font-size="6.4" text-anchor="end">100</text>
<line x1="242.2" y1="244.2" x2="242.2" y2="246" stroke="#111" stroke-width="0.7"/>
<line x1="259.5" y1="244.2" x2="259.5" y2="246" stroke="#111" stroke-width="0.7"/>
<line x1="275.6" y1="244.2" x2="275.6" y2="246" stroke="#111" stroke-width="0.7"/>
<line x1="291.8" y1="244.2" x2="291.8" y2="246" stroke="#111" stroke-width="0.7"/>
<text x="242.2" y="256.6" font-size="6.6" text-anchor="middle">0</text>
<text x="259.5" y="256.6" font-size="6.6" text-anchor="middle">48</text>
<text x="275.6" y="256.6" font-size="6.6" text-anchor="middle">72</text>
<text x="291.8" y="256.6" font-size="6.6" text-anchor="middle">96</text>
<text x="213.2" y="215.5" font-size="8.1" text-anchor="middle" textLength="37.5" lengthAdjust="spacingAndGlyphs" transform="rotate(-90 213.2 215.5)" class="c">CD25 (%CD4)</text>
<text x="267" y="267.6" font-size="8.1" text-anchor="middle" textLength="24.8" lengthAdjust="spacingAndGlyphs" class="c">Time (hr)</text>
<text x="303.8" y="201" font-size="6.2" textLength="28.3" lengthAdjust="spacingAndGlyphs">Weeks on</text>
<text x="303.8" y="209.2" font-size="6.2" textLength="29.5" lengthAdjust="spacingAndGlyphs">venetoclax</text>
<rect x="305.4" y="219.1" width="1.3" height="1.3" fill="#8fb870"/>
<text x="310.8" y="221.9" font-size="6.2">4</text>
<rect x="305.4" y="227.1" width="1.3" height="1.3" fill="#5f9a45"/>
<text x="310.8" y="229.9" font-size="6.2">8</text>
<rect x="305.4" y="235.5" width="1.3" height="1.3" fill="#2f5a22"/>
<text x="310.8" y="238.3" font-size="6.2">≥16</text>
<rect x="378.8" y="243.65" width="3.4" height="0.55" fill="#efe5f4"/>
<line x1="380.5" y1="243.65" x2="380.5" y2="243.38" stroke="#444" stroke-width="0.55"/>
<line x1="379.6" y1="243.38" x2="381.4" y2="243.38" stroke="#444" stroke-width="0.55"/>
<rect x="380.91" y="242.97" width="0.8" height="0.8" fill="#b9a0d4" opacity="0.8"/>
<rect x="379.35" y="243.52" width="0.8" height="0.8" fill="#b9a0d4" opacity="0.8"/>
<rect x="380.52" y="243.05" width="0.8" height="0.8" fill="#b9a0d4" opacity="0.8"/>
<rect x="379.75" y="243.15" width="0.8" height="0.8" fill="#b9a0d4" opacity="0.8"/>
<rect x="382.2" y="243.92" width="3.4" height="0.28" fill="#d9c6ea"/>
<line x1="383.9" y1="243.92" x2="383.9" y2="243.65" stroke="#444" stroke-width="0.55"/>
<line x1="383" y1="243.65" x2="384.8" y2="243.65" stroke="#444" stroke-width="0.55"/>
<rect x="383.69" y="243.46" width="0.8" height="0.8" fill="#8a66b6" opacity="0.8"/>
<rect x="382.89" y="243.48" width="0.8" height="0.8" fill="#8a66b6" opacity="0.8"/>
<rect x="383.31" y="243.57" width="0.8" height="0.8" fill="#8a66b6" opacity="0.8"/>
<rect x="384.39" y="243.39" width="0.8" height="0.8" fill="#8a66b6" opacity="0.8"/>
<rect x="385.6" y="243.65" width="3.4" height="0.55" fill="#b9a0d2"/>
<line x1="387.3" y1="243.65" x2="387.3" y2="243.38" stroke="#444" stroke-width="0.55"/>
<line x1="386.4" y1="243.38" x2="388.2" y2="243.38" stroke="#444" stroke-width="0.55"/>
<rect x="386.98" y="242.98" width="0.8" height="0.8" fill="#5a2f82" opacity="0.8"/>
<rect x="386.48" y="243.28" width="0.8" height="0.8" fill="#5a2f82" opacity="0.8"/>
<rect x="386.05" y="243.53" width="0.8" height="0.8" fill="#5a2f82" opacity="0.8"/>
<rect x="386.57" y="243.27" width="0.8" height="0.8" fill="#5a2f82" opacity="0.8"/>
<rect x="395.5" y="199.65" width="3.4" height="44.55" fill="#efe5f4"/>
<line x1="397.2" y1="199.65" x2="397.2" y2="194.15" stroke="#444" stroke-width="0.55"/>
<line x1="396.3" y1="194.15" x2="398.1" y2="194.15" stroke="#444" stroke-width="0.55"/>
<rect x="397.51" y="200.7" width="0.8" height="0.8" fill="#b9a0d4" opacity="0.8"/>
<rect x="396.91" y="198.94" width="0.8" height="0.8" fill="#b9a0d4" opacity="0.8"/>
<rect x="395.94" y="202.44" width="0.8" height="0.8" fill="#b9a0d4" opacity="0.8"/>
<rect x="396.15" y="201.37" width="0.8" height="0.8" fill="#b9a0d4" opacity="0.8"/>
<rect x="398.9" y="209" width="3.4" height="35.2" fill="#d9c6ea"/>
<line x1="400.6" y1="209" x2="400.6" y2="201.3" stroke="#444" stroke-width="0.55"/>
<line x1="399.7" y1="201.3" x2="401.5" y2="201.3" stroke="#444" stroke-width="0.55"/>
<rect x="401.1" y="208.43" width="0.8" height="0.8" fill="#8a66b6" opacity="0.8"/>
<rect x="399.63" y="205.64" width="0.8" height="0.8" fill="#8a66b6" opacity="0.8"/>
<rect x="400.73" y="201.93" width="0.8" height="0.8" fill="#8a66b6" opacity="0.8"/>
<rect x="400.93" y="204.63" width="0.8" height="0.8" fill="#8a66b6" opacity="0.8"/>
<rect x="402.3" y="205.15" width="3.4" height="39.05" fill="#b9a0d2"/>
<line x1="404" y1="205.15" x2="404" y2="200.2" stroke="#444" stroke-width="0.55"/>
<line x1="403.1" y1="200.2" x2="404.9" y2="200.2" stroke="#444" stroke-width="0.55"/>
<rect x="404.12" y="201.89" width="0.8" height="0.8" fill="#5a2f82" opacity="0.8"/>
<rect x="404.47" y="206.34" width="0.8" height="0.8" fill="#5a2f82" opacity="0.8"/>
<rect x="402.99" y="199.72" width="0.8" height="0.8" fill="#5a2f82" opacity="0.8"/>
<rect x="403.99" y="201.98" width="0.8" height="0.8" fill="#5a2f82" opacity="0.8"/>
<rect x="411.9" y="190.85" width="3.4" height="53.35" fill="#efe5f4"/>
<line x1="413.6" y1="190.85" x2="413.6" y2="189.75" stroke="#444" stroke-width="0.55"/>
<line x1="412.7" y1="189.75" x2="414.5" y2="189.75" stroke="#444" stroke-width="0.55"/>
<rect x="413.25" y="190.99" width="0.8" height="0.8" fill="#b9a0d4" opacity="0.8"/>
<rect x="413.96" y="190.59" width="0.8" height="0.8" fill="#b9a0d4" opacity="0.8"/>
<rect x="413.8" y="190.44" width="0.8" height="0.8" fill="#b9a0d4" opacity="0.8"/>
<rect x="413.89" y="192.51" width="0.8" height="0.8" fill="#b9a0d4" opacity="0.8"/>
<rect x="415.3" y="199.65" width="3.4" height="44.55" fill="#d9c6ea"/>
<line x1="417" y1="199.65" x2="417" y2="195.25" stroke="#444" stroke-width="0.55"/>
<line x1="416.1" y1="195.25" x2="417.9" y2="195.25" stroke="#444" stroke-width="0.55"/>
<rect x="416.53" y="194.55" width="0.8" height="0.8" fill="#8a66b6" opacity="0.8"/>
<rect x="417.36" y="198.45" width="0.8" height="0.8" fill="#8a66b6" opacity="0.8"/>
<rect x="416.58" y="196.62" width="0.8" height="0.8" fill="#8a66b6" opacity="0.8"/>
<rect x="416.28" y="202.52" width="0.8" height="0.8" fill="#8a66b6" opacity="0.8"/>
<rect x="418.7" y="195.25" width="3.4" height="48.95" fill="#b9a0d2"/>
<line x1="420.4" y1="195.25" x2="420.4" y2="192.5" stroke="#444" stroke-width="0.55"/>
<line x1="419.5" y1="192.5" x2="421.3" y2="192.5" stroke="#444" stroke-width="0.55"/>
<rect x="419.4" y="192.27" width="0.8" height="0.8" fill="#5a2f82" opacity="0.8"/>
<rect x="419.58" y="189.58" width="0.8" height="0.8" fill="#5a2f82" opacity="0.8"/>
<rect x="419.66" y="189.53" width="0.8" height="0.8" fill="#5a2f82" opacity="0.8"/>
<rect x="420.37" y="188.94" width="0.8" height="0.8" fill="#5a2f82" opacity="0.8"/>
<rect x="428.4" y="190.3" width="3.4" height="53.9" fill="#efe5f4"/>
<line x1="430.1" y1="190.3" x2="430.1" y2="189.75" stroke="#444" stroke-width="0.55"/>
<line x1="429.2" y1="189.75" x2="431" y2="189.75" stroke="#444" stroke-width="0.55"/>
<rect x="429.73" y="189.84" width="0.8" height="0.8" fill="#b9a0d4" opacity="0.8"/>
<rect x="429.86" y="187.75" width="0.8" height="0.8" fill="#b9a0d4" opacity="0.8"/>
<rect x="429.17" y="192.58" width="0.8" height="0.8" fill="#b9a0d4" opacity="0.8"/>
<rect x="430.48" y="189.73" width="0.8" height="0.8" fill="#b9a0d4" opacity="0.8"/>
<rect x="431.8" y="191.4" width="3.4" height="52.8" fill="#d9c6ea"/>
<line x1="433.5" y1="191.4" x2="433.5" y2="189.75" stroke="#444" stroke-width="0.55"/>
<line x1="432.6" y1="189.75" x2="434.4" y2="189.75" stroke="#444" stroke-width="0.55"/>
<rect x="432.34" y="189.28" width="0.8" height="0.8" fill="#8a66b6" opacity="0.8"/>
<rect x="433.51" y="186.53" width="0.8" height="0.8" fill="#8a66b6" opacity="0.8"/>
<rect x="432.54" y="185.32" width="0.8" height="0.8" fill="#8a66b6" opacity="0.8"/>
<rect x="432.31" y="187.59" width="0.8" height="0.8" fill="#8a66b6" opacity="0.8"/>
<rect x="435.2" y="191.4" width="3.4" height="52.8" fill="#b9a0d2"/>
<line x1="436.9" y1="191.4" x2="436.9" y2="190.3" stroke="#444" stroke-width="0.55"/>
<line x1="436" y1="190.3" x2="437.8" y2="190.3" stroke="#444" stroke-width="0.55"/>
<rect x="436.09" y="188.87" width="0.8" height="0.8" fill="#5a2f82" opacity="0.8"/>
<rect x="437.18" y="194.81" width="0.8" height="0.8" fill="#5a2f82" opacity="0.8"/>
<rect x="436.54" y="196.49" width="0.8" height="0.8" fill="#5a2f82" opacity="0.8"/>
<rect x="436.04" y="186.07" width="0.8" height="0.8" fill="#5a2f82" opacity="0.8"/>
<line x1="376.4" y1="187" x2="376.4" y2="244.7" stroke="#111" stroke-width="1.1"/>
<line x1="375.9" y1="244.2" x2="439.6" y2="244.2" stroke="#111" stroke-width="1.1"/>
<line x1="373.2" y1="244.2" x2="376.4" y2="244.2" stroke="#111" stroke-width="0.8"/>
<text x="370" y="246.6" font-size="6.4" text-anchor="end">0</text>
<line x1="373.2" y1="233.2" x2="376.4" y2="233.2" stroke="#111" stroke-width="0.8"/>
<text x="370" y="235.6" font-size="6.4" text-anchor="end">20</text>
<line x1="373.2" y1="222.2" x2="376.4" y2="222.2" stroke="#111" stroke-width="0.8"/>
<text x="370" y="224.6" font-size="6.4" text-anchor="end">40</text>
<line x1="373.2" y1="211.2" x2="376.4" y2="211.2" stroke="#111" stroke-width="0.8"/>
<text x="370" y="213.6" font-size="6.4" text-anchor="end">60</text>
<line x1="373.2" y1="200.2" x2="376.4" y2="200.2" stroke="#111" stroke-width="0.8"/>
<text x="370" y="202.6" font-size="6.4" text-anchor="end">80</text>
<line x1="373.2" y1="189.2" x2="376.4" y2="189.2" stroke="#111" stroke-width="0.8"/>
<text x="370" y="191.6" font-size="6.4" text-anchor="end">100</text>
<line x1="383.9" y1="244.2" x2="383.9" y2="246" stroke="#111" stroke-width="0.7"/>
<line x1="400.6" y1="244.2" x2="400.6" y2="246" stroke="#111" stroke-width="0.7"/>
<line x1="417" y1="244.2" x2="417" y2="246" stroke="#111" stroke-width="0.7"/>
<line x1="433.5" y1="244.2" x2="433.5" y2="246" stroke="#111" stroke-width="0.7"/>
<text x="383.9" y="256.6" font-size="6.6" text-anchor="middle">0</text>
<text x="400.6" y="256.6" font-size="6.6" text-anchor="middle">48</text>
<text x="417" y="256.6" font-size="6.6" text-anchor="middle">72</text>
<text x="433.5" y="256.6" font-size="6.6" text-anchor="middle">96</text>
<text x="354" y="215.8" font-size="8.1" text-anchor="middle" textLength="37" lengthAdjust="spacingAndGlyphs" transform="rotate(-90 354 215.8)" class="c">CD25 (%CD8)</text>
<text x="408.2" y="268.2" font-size="8.1" text-anchor="middle" textLength="24.8" lengthAdjust="spacingAndGlyphs" class="c">Time (hr)</text>
<text x="443.8" y="199.9" font-size="6.2" textLength="28.3" lengthAdjust="spacingAndGlyphs">Weeks on</text>
<text x="443.8" y="207.5" font-size="6.2" textLength="29.5" lengthAdjust="spacingAndGlyphs">venetoclax</text>
<rect x="445" y="218.9" width="1.3" height="1.3" fill="#b9a0d4"/>
<text x="450.2" y="221.7" font-size="6.2">4</text>
<rect x="445" y="227.2" width="1.3" height="1.3" fill="#8a66b6"/>
<text x="450.2" y="230" font-size="6.2">8</text>
<rect x="445" y="235.2" width="1.3" height="1.3" fill="#5a2f82"/>
<text x="450.2" y="238" font-size="6.2">≥16</text>
<rect x="237.85" y="391.97" width="4.9" height="5.43" fill="#eef4e6"/>
<line x1="240.3" y1="391.97" x2="240.3" y2="387.63" stroke="#444" stroke-width="0.55"/>
<line x1="239.4" y1="387.63" x2="241.2" y2="387.63" stroke="#444" stroke-width="0.55"/>
<rect x="240.05" y="394.07" width="0.8" height="0.8" fill="#8fb870" opacity="0.8"/>
<rect x="240.24" y="392.81" width="0.8" height="0.8" fill="#8fb870" opacity="0.8"/>
<rect x="238.47" y="390.37" width="0.8" height="0.8" fill="#8fb870" opacity="0.8"/>
<rect x="241.01" y="396.22" width="0.8" height="0.8" fill="#8fb870" opacity="0.8"/>
<rect x="242.75" y="394.69" width="4.9" height="2.71" fill="#d4e7bf"/>
<line x1="245.2" y1="394.69" x2="245.2" y2="391.97" stroke="#444" stroke-width="0.55"/>
<line x1="244.3" y1="391.97" x2="246.1" y2="391.97" stroke="#444" stroke-width="0.55"/>
<rect x="243.92" y="395.72" width="0.8" height="0.8" fill="#5f9a45" opacity="0.8"/>
<rect x="244.7" y="391.32" width="0.8" height="0.8" fill="#5f9a45" opacity="0.8"/>
<rect x="244.72" y="392.28" width="0.8" height="0.8" fill="#5f9a45" opacity="0.8"/>
<rect x="243.65" y="393.45" width="0.8" height="0.8" fill="#5f9a45" opacity="0.8"/>
<rect x="247.65" y="395.77" width="4.9" height="1.63" fill="#b9d59f"/>
<line x1="250.1" y1="395.77" x2="250.1" y2="394.14" stroke="#444" stroke-width="0.55"/>
<line x1="249.2" y1="394.14" x2="251" y2="394.14" stroke="#444" stroke-width="0.55"/>
<rect x="250.91" y="394.89" width="0.8" height="0.8" fill="#2f5a22" opacity="0.8"/>
<rect x="250.5" y="395.29" width="0.8" height="0.8" fill="#2f5a22" opacity="0.8"/>
<rect x="248.26" y="394.76" width="0.8" height="0.8" fill="#2f5a22" opacity="0.8"/>
<rect x="250" y="394.45" width="0.8" height="0.8" fill="#2f5a22" opacity="0.8"/>
<rect x="260.05" y="367.54" width="4.9" height="29.86" fill="#eef4e6"/>
<line x1="262.5" y1="367.54" x2="262.5" y2="361.02" stroke="#444" stroke-width="0.55"/>
<line x1="261.6" y1="361.02" x2="263.4" y2="361.02" stroke="#444" stroke-width="0.55"/>
<rect x="260.55" y="369.98" width="0.8" height="0.8" fill="#8fb870" opacity="0.8"/>
<rect x="262.01" y="361.9" width="0.8" height="0.8" fill="#8fb870" opacity="0.8"/>
<rect x="263.35" y="364" width="0.8" height="0.8" fill="#8fb870" opacity="0.8"/>
<rect x="263.49" y="364.07" width="0.8" height="0.8" fill="#8fb870" opacity="0.8"/>
<rect x="264.95" y="373.51" width="4.9" height="23.89" fill="#d4e7bf"/>
<line x1="267.4" y1="373.51" x2="267.4" y2="366.45" stroke="#444" stroke-width="0.55"/>
<line x1="266.5" y1="366.45" x2="268.3" y2="366.45" stroke="#444" stroke-width="0.55"/>
<rect x="267.99" y="374.74" width="0.8" height="0.8" fill="#5f9a45" opacity="0.8"/>
<rect x="268.44" y="373.97" width="0.8" height="0.8" fill="#5f9a45" opacity="0.8"/>
<rect x="265.67" y="367.22" width="0.8" height="0.8" fill="#5f9a45" opacity="0.8"/>
<rect x="266.07" y="378.76" width="0.8" height="0.8" fill="#5f9a45" opacity="0.8"/>
<rect x="269.85" y="369.71" width="4.9" height="27.69" fill="#b9d59f"/>
<line x1="272.3" y1="369.71" x2="272.3" y2="364.28" stroke="#444" stroke-width="0.55"/>
<line x1="271.4" y1="364.28" x2="273.2" y2="364.28" stroke="#444" stroke-width="0.55"/>
<rect x="271.69" y="363.75" width="0.8" height="0.8" fill="#2f5a22" opacity="0.8"/>
<rect x="271.24" y="367.79" width="0.8" height="0.8" fill="#2f5a22" opacity="0.8"/>
<rect x="271.52" y="369.22" width="0.8" height="0.8" fill="#2f5a22" opacity="0.8"/>
<rect x="272.18" y="371.09" width="0.8" height="0.8" fill="#2f5a22" opacity="0.8"/>
<rect x="282.85" y="345.81" width="4.9" height="51.58" fill="#eef4e6"/>
<line x1="285.3" y1="345.81" x2="285.3" y2="344.19" stroke="#444" stroke-width="0.55"/>
<line x1="284.4" y1="344.19" x2="286.2" y2="344.19" stroke="#444" stroke-width="0.55"/>
<rect x="286.23" y="344.27" width="0.8" height="0.8" fill="#8fb870" opacity="0.8"/>
<rect x="286.32" y="342.94" width="0.8" height="0.8" fill="#8fb870" opacity="0.8"/>
<rect x="286.52" y="340.56" width="0.8" height="0.8" fill="#8fb870" opacity="0.8"/>
<rect x="283.79" y="343.08" width="0.8" height="0.8" fill="#8fb870" opacity="0.8"/>
<rect x="287.75" y="354.5" width="4.9" height="42.9" fill="#d4e7bf"/>
<line x1="290.2" y1="354.5" x2="290.2" y2="349.07" stroke="#444" stroke-width="0.55"/>
<line x1="289.3" y1="349.07" x2="291.1" y2="349.07" stroke="#444" stroke-width="0.55"/>
<rect x="291.33" y="349.79" width="0.8" height="0.8" fill="#5f9a45" opacity="0.8"/>
<rect x="290.03" y="349.27" width="0.8" height="0.8" fill="#5f9a45" opacity="0.8"/>
<rect x="288.85" y="351.55" width="0.8" height="0.8" fill="#5f9a45" opacity="0.8"/>
<rect x="290.04" y="350.14" width="0.8" height="0.8" fill="#5f9a45" opacity="0.8"/>
<rect x="292.65" y="349.07" width="4.9" height="48.33" fill="#b9d59f"/>
<line x1="295.1" y1="349.07" x2="295.1" y2="346.36" stroke="#444" stroke-width="0.55"/>
<line x1="294.2" y1="346.36" x2="296" y2="346.36" stroke="#444" stroke-width="0.55"/>
<rect x="293.26" y="351.42" width="0.8" height="0.8" fill="#2f5a22" opacity="0.8"/>
<rect x="296.32" y="344.16" width="0.8" height="0.8" fill="#2f5a22" opacity="0.8"/>
<rect x="295.69" y="353.92" width="0.8" height="0.8" fill="#2f5a22" opacity="0.8"/>
<rect x="293.55" y="349.82" width="0.8" height="0.8" fill="#2f5a22" opacity="0.8"/>
<line x1="235.1" y1="340.9" x2="235.1" y2="397.9" stroke="#111" stroke-width="1.1"/>
<line x1="234.6" y1="397.4" x2="298.8" y2="397.4" stroke="#111" stroke-width="1.1"/>
<line x1="231.9" y1="397.4" x2="235.1" y2="397.4" stroke="#111" stroke-width="0.8"/>
<text x="228.7" y="399.8" font-size="6.4" text-anchor="end">0</text>
<line x1="231.9" y1="386.54" x2="235.1" y2="386.54" stroke="#111" stroke-width="0.8"/>
<text x="228.7" y="388.94" font-size="6.4" text-anchor="end">20</text>
<line x1="231.9" y1="375.68" x2="235.1" y2="375.68" stroke="#111" stroke-width="0.8"/>
<text x="228.7" y="378.08" font-size="6.4" text-anchor="end">40</text>
<line x1="231.9" y1="364.82" x2="235.1" y2="364.82" stroke="#111" stroke-width="0.8"/>
<text x="228.7" y="367.22" font-size="6.4" text-anchor="end">60</text>
<line x1="231.9" y1="353.96" x2="235.1" y2="353.96" stroke="#111" stroke-width="0.8"/>
<text x="228.7" y="356.36" font-size="6.4" text-anchor="end">80</text>
<line x1="231.9" y1="343.1" x2="235.1" y2="343.1" stroke="#111" stroke-width="0.8"/>
<text x="228.7" y="345.5" font-size="6.4" text-anchor="end">100</text>
<line x1="245.2" y1="397.4" x2="245.2" y2="399.2" stroke="#111" stroke-width="0.7"/>
<line x1="267.4" y1="397.4" x2="267.4" y2="399.2" stroke="#111" stroke-width="0.7"/>
<line x1="290.2" y1="397.4" x2="290.2" y2="399.2" stroke="#111" stroke-width="0.7"/>
<text x="245.2" y="410.8" font-size="6.6" text-anchor="middle">48</text>
<text x="267.4" y="410.8" font-size="6.6" text-anchor="middle">72</text>
<text x="290.2" y="410.8" font-size="6.6" text-anchor="middle">96</text>
<text x="212.7" y="368.9" font-size="8.1" text-anchor="middle" textLength="54.5" lengthAdjust="spacingAndGlyphs" transform="rotate(-90 212.7 368.9)" class="c">% proliferating CD4</text>
<rect x="339.55" y="396.72" width="4.9" height="0.68" fill="#eef4e6"/>
<line x1="342" y1="396.72" x2="342" y2="396.44" stroke="#444" stroke-width="0.55"/>
<line x1="341.1" y1="396.44" x2="342.9" y2="396.44" stroke="#444" stroke-width="0.55"/>
<rect x="340.29" y="396.48" width="0.8" height="0.8" fill="#8fb870" opacity="0.8"/>
<rect x="340.46" y="396.38" width="0.8" height="0.8" fill="#8fb870" opacity="0.8"/>
<rect x="341.28" y="396.58" width="0.8" height="0.8" fill="#8fb870" opacity="0.8"/>
<rect x="342.59" y="396.07" width="0.8" height="0.8" fill="#8fb870" opacity="0.8"/>
<rect x="344.45" y="396.72" width="4.9" height="0.68" fill="#d4e7bf"/>
<line x1="346.9" y1="396.72" x2="346.9" y2="396.44" stroke="#444" stroke-width="0.55"/>
<line x1="346" y1="396.44" x2="347.8" y2="396.44" stroke="#444" stroke-width="0.55"/>
<rect x="345.58" y="396.16" width="0.8" height="0.8" fill="#5f9a45" opacity="0.8"/>
<rect x="345.76" y="396.3" width="0.8" height="0.8" fill="#5f9a45" opacity="0.8"/>
<rect x="345.2" y="396.51" width="0.8" height="0.8" fill="#5f9a45" opacity="0.8"/>
<rect x="347.91" y="396.49" width="0.8" height="0.8" fill="#5f9a45" opacity="0.8"/>
<rect x="349.35" y="396.72" width="4.9" height="0.68" fill="#b9d59f"/>
<line x1="351.8" y1="396.72" x2="351.8" y2="396.44" stroke="#444" stroke-width="0.55"/>
<line x1="350.9" y1="396.44" x2="352.7" y2="396.44" stroke="#444" stroke-width="0.55"/>
<rect x="352.41" y="396.12" width="0.8" height="0.8" fill="#2f5a22" opacity="0.8"/>
<rect x="350.39" y="396.14" width="0.8" height="0.8" fill="#2f5a22" opacity="0.8"/>
<rect x="351.82" y="396.43" width="0.8" height="0.8" fill="#2f5a22" opacity="0.8"/>
<rect x="352.57" y="396.18" width="0.8" height="0.8" fill="#2f5a22" opacity="0.8"/>
<rect x="361.55" y="391.26" width="4.9" height="6.14" fill="#eef4e6"/>
<line x1="364" y1="391.26" x2="364" y2="388.53" stroke="#444" stroke-width="0.55"/>
<line x1="363.1" y1="388.53" x2="364.9" y2="388.53" stroke="#444" stroke-width="0.55"/>
<rect x="362.24" y="388.57" width="0.8" height="0.8" fill="#8fb870" opacity="0.8"/>
<rect x="364.17" y="390.22" width="0.8" height="0.8" fill="#8fb870" opacity="0.8"/>
<rect x="362.54" y="390.82" width="0.8" height="0.8" fill="#8fb870" opacity="0.8"/>
<rect x="362.24" y="391.02" width="0.8" height="0.8" fill="#8fb870" opacity="0.8"/>
<rect x="366.45" y="393.31" width="4.9" height="4.09" fill="#d4e7bf"/>
<line x1="368.9" y1="393.31" x2="368.9" y2="390.57" stroke="#444" stroke-width="0.55"/>
<line x1="368" y1="390.57" x2="369.8" y2="390.57" stroke="#444" stroke-width="0.55"/>
<rect x="369.71" y="390.29" width="0.8" height="0.8" fill="#5f9a45" opacity="0.8"/>
<rect x="367.84" y="392.62" width="0.8" height="0.8" fill="#5f9a45" opacity="0.8"/>
<rect x="368.74" y="390.45" width="0.8" height="0.8" fill="#5f9a45" opacity="0.8"/>
<rect x="369.65" y="390.61" width="0.8" height="0.8" fill="#5f9a45" opacity="0.8"/>
<rect x="371.35" y="391.94" width="4.9" height="5.46" fill="#b9d59f"/>
<line x1="373.8" y1="391.94" x2="373.8" y2="389.89" stroke="#444" stroke-width="0.55"/>
<line x1="372.9" y1="389.89" x2="374.7" y2="389.89" stroke="#444" stroke-width="0.55"/>
<rect x="373.12" y="391.5" width="0.8" height="0.8" fill="#2f5a22" opacity="0.8"/>
<rect x="373.17" y="391.09" width="0.8" height="0.8" fill="#2f5a22" opacity="0.8"/>
<rect x="372.76" y="393.07" width="0.8" height="0.8" fill="#2f5a22" opacity="0.8"/>
<rect x="371.89" y="390.13" width="0.8" height="0.8" fill="#2f5a22" opacity="0.8"/>
<rect x="383.45" y="373.51" width="4.9" height="23.89" fill="#eef4e6"/>
<line x1="385.9" y1="373.51" x2="385.9" y2="366.69" stroke="#444" stroke-width="0.55"/>
<line x1="385" y1="366.69" x2="386.8" y2="366.69" stroke="#444" stroke-width="0.55"/>
<rect x="385.92" y="379.92" width="0.8" height="0.8" fill="#8fb870" opacity="0.8"/>
<rect x="385.61" y="376.41" width="0.8" height="0.8" fill="#8fb870" opacity="0.8"/>
<rect x="384.98" y="373.54" width="0.8" height="0.8" fill="#8fb870" opacity="0.8"/>
<rect x="384.5" y="365.65" width="0.8" height="0.8" fill="#8fb870" opacity="0.8"/>
<rect x="388.35" y="384.43" width="4.9" height="12.97" fill="#d4e7bf"/>
<line x1="390.8" y1="384.43" x2="390.8" y2="378.97" stroke="#444" stroke-width="0.55"/>
<line x1="389.9" y1="378.97" x2="391.7" y2="378.97" stroke="#444" stroke-width="0.55"/>
<rect x="389.42" y="385.08" width="0.8" height="0.8" fill="#5f9a45" opacity="0.8"/>
<rect x="389.66" y="382.44" width="0.8" height="0.8" fill="#5f9a45" opacity="0.8"/>
<rect x="391.21" y="385.76" width="0.8" height="0.8" fill="#5f9a45" opacity="0.8"/>
<rect x="390.59" y="386.19" width="0.8" height="0.8" fill="#5f9a45" opacity="0.8"/>
<rect x="393.25" y="378.97" width="4.9" height="18.43" fill="#b9d59f"/>
<line x1="395.7" y1="378.97" x2="395.7" y2="374.19" stroke="#444" stroke-width="0.55"/>
<line x1="394.8" y1="374.19" x2="396.6" y2="374.19" stroke="#444" stroke-width="0.55"/>
<rect x="393.98" y="374.32" width="0.8" height="0.8" fill="#2f5a22" opacity="0.8"/>
<rect x="394.41" y="383.18" width="0.8" height="0.8" fill="#2f5a22" opacity="0.8"/>
<rect x="395.68" y="375.79" width="0.8" height="0.8" fill="#2f5a22" opacity="0.8"/>
<rect x="394.74" y="381.33" width="0.8" height="0.8" fill="#2f5a22" opacity="0.8"/>
<line x1="336.5" y1="340.6" x2="336.5" y2="397.9" stroke="#111" stroke-width="1.1"/>
<line x1="336" y1="397.4" x2="399" y2="397.4" stroke="#111" stroke-width="1.1"/>
<line x1="333.3" y1="397.4" x2="336.5" y2="397.4" stroke="#111" stroke-width="0.8"/>
<text x="330.1" y="399.8" font-size="6.4" text-anchor="end">0</text>
<line x1="333.3" y1="383.75" x2="336.5" y2="383.75" stroke="#111" stroke-width="0.8"/>
<text x="330.1" y="386.15" font-size="6.4" text-anchor="end">1</text>
<line x1="333.3" y1="370.1" x2="336.5" y2="370.1" stroke="#111" stroke-width="0.8"/>
<text x="330.1" y="372.5" font-size="6.4" text-anchor="end">2</text>
<line x1="333.3" y1="356.45" x2="336.5" y2="356.45" stroke="#111" stroke-width="0.8"/>
<text x="330.1" y="358.85" font-size="6.4" text-anchor="end">3</text>
<line x1="333.3" y1="342.8" x2="336.5" y2="342.8" stroke="#111" stroke-width="0.8"/>
<text x="330.1" y="345.2" font-size="6.4" text-anchor="end">4</text>
<line x1="346.9" y1="397.4" x2="346.9" y2="399.2" stroke="#111" stroke-width="0.7"/>
<line x1="368.9" y1="397.4" x2="368.9" y2="399.2" stroke="#111" stroke-width="0.7"/>
<line x1="390.8" y1="397.4" x2="390.8" y2="399.2" stroke="#111" stroke-width="0.7"/>
<text x="346.9" y="410.8" font-size="6.6" text-anchor="middle">48</text>
<text x="368.9" y="410.8" font-size="6.6" text-anchor="middle">72</text>
<text x="390.8" y="410.8" font-size="6.6" text-anchor="middle">96</text>
<text x="321" y="368.8" font-size="8.1" text-anchor="middle" textLength="27" lengthAdjust="spacingAndGlyphs" transform="rotate(-90 321 368.8)" class="c">MDN CD4</text>
<text x="411.5" y="356.4" font-size="6.2" textLength="28.3" lengthAdjust="spacingAndGlyphs">Weeks on</text>
<text x="411.5" y="364" font-size="6.2" textLength="29.5" lengthAdjust="spacingAndGlyphs">venetoclax</text>
<rect x="411.3" y="371.9" width="1.3" height="1.3" fill="#8fb870"/>
<text x="417.1" y="374.7" font-size="6.2">4</text>
<rect x="411.3" y="379.7" width="1.3" height="1.3" fill="#5f9a45"/>
<text x="417.1" y="382.5" font-size="6.2">8</text>
<rect x="411.3" y="388.6" width="1.3" height="1.3" fill="#2f5a22"/>
<text x="417.1" y="391.4" font-size="6.2">≥16</text>
<text x="267.2" y="421.6" font-size="8.1" text-anchor="middle" textLength="24.8" lengthAdjust="spacingAndGlyphs" class="c">Time (hr)</text>
<text x="368.9" y="421.2" font-size="8.1" text-anchor="middle" textLength="24.8" lengthAdjust="spacingAndGlyphs" class="c">Time (hr)</text>
<rect x="238.15" y="478.8" width="4.9" height="6.6" fill="#efe5f4"/>
<line x1="240.6" y1="478.8" x2="240.6" y2="474.4" stroke="#444" stroke-width="0.55"/>
<line x1="239.7" y1="474.4" x2="241.5" y2="474.4" stroke="#444" stroke-width="0.55"/>
<rect x="241" y="477.21" width="0.8" height="0.8" fill="#b9a0d4" opacity="0.8"/>
<rect x="241.66" y="475.54" width="0.8" height="0.8" fill="#b9a0d4" opacity="0.8"/>
<rect x="241.59" y="476.08" width="0.8" height="0.8" fill="#b9a0d4" opacity="0.8"/>
<rect x="240.09" y="482.96" width="0.8" height="0.8" fill="#b9a0d4" opacity="0.8"/>
<rect x="243.05" y="481.55" width="4.9" height="3.85" fill="#d9c6ea"/>
<line x1="245.5" y1="481.55" x2="245.5" y2="478.25" stroke="#444" stroke-width="0.55"/>
<line x1="244.6" y1="478.25" x2="246.4" y2="478.25" stroke="#444" stroke-width="0.55"/>
<rect x="245.59" y="477.93" width="0.8" height="0.8" fill="#8a66b6" opacity="0.8"/>
<rect x="243.82" y="478.24" width="0.8" height="0.8" fill="#8a66b6" opacity="0.8"/>
<rect x="244.26" y="481.37" width="0.8" height="0.8" fill="#8a66b6" opacity="0.8"/>
<rect x="245.34" y="480.83" width="0.8" height="0.8" fill="#8a66b6" opacity="0.8"/>
<rect x="247.95" y="480.45" width="4.9" height="4.95" fill="#b9a0d2"/>
<line x1="250.4" y1="480.45" x2="250.4" y2="477.15" stroke="#444" stroke-width="0.55"/>
<line x1="249.5" y1="477.15" x2="251.3" y2="477.15" stroke="#444" stroke-width="0.55"/>
<rect x="249.07" y="483.58" width="0.8" height="0.8" fill="#5a2f82" opacity="0.8"/>
<rect x="251.37" y="481.65" width="0.8" height="0.8" fill="#5a2f82" opacity="0.8"/>
<rect x="248.88" y="478.12" width="0.8" height="0.8" fill="#5a2f82" opacity="0.8"/>
<rect x="248.81" y="477.89" width="0.8" height="0.8" fill="#5a2f82" opacity="0.8"/>
<rect x="260.05" y="454.05" width="4.9" height="31.35" fill="#efe5f4"/>
<line x1="262.5" y1="454.05" x2="262.5" y2="446.9" stroke="#444" stroke-width="0.55"/>
<line x1="261.6" y1="446.9" x2="263.4" y2="446.9" stroke="#444" stroke-width="0.55"/>
<rect x="260.87" y="451.8" width="0.8" height="0.8" fill="#b9a0d4" opacity="0.8"/>
<rect x="263.33" y="461.49" width="0.8" height="0.8" fill="#b9a0d4" opacity="0.8"/>
<rect x="261.16" y="458.22" width="0.8" height="0.8" fill="#b9a0d4" opacity="0.8"/>
<rect x="263.33" y="446.06" width="0.8" height="0.8" fill="#b9a0d4" opacity="0.8"/>
<rect x="264.95" y="455.15" width="4.9" height="30.25" fill="#d9c6ea"/>
<line x1="267.4" y1="455.15" x2="267.4" y2="449.65" stroke="#444" stroke-width="0.55"/>
<line x1="266.5" y1="449.65" x2="268.3" y2="449.65" stroke="#444" stroke-width="0.55"/>
<rect x="268.52" y="457.3" width="0.8" height="0.8" fill="#8a66b6" opacity="0.8"/>
<rect x="267.59" y="454.28" width="0.8" height="0.8" fill="#8a66b6" opacity="0.8"/>
<rect x="268.46" y="458.32" width="0.8" height="0.8" fill="#8a66b6" opacity="0.8"/>
<rect x="268.54" y="452.44" width="0.8" height="0.8" fill="#8a66b6" opacity="0.8"/>
<rect x="269.85" y="454.6" width="4.9" height="30.8" fill="#b9a0d2"/>
<line x1="272.3" y1="454.6" x2="272.3" y2="448" stroke="#444" stroke-width="0.55"/>
<line x1="271.4" y1="448" x2="273.2" y2="448" stroke="#444" stroke-width="0.55"/>
<rect x="271.24" y="448.48" width="0.8" height="0.8" fill="#5a2f82" opacity="0.8"/>
<rect x="270.8" y="456.22" width="0.8" height="0.8" fill="#5a2f82" opacity="0.8"/>
<rect x="270.46" y="459.34" width="0.8" height="0.8" fill="#5a2f82" opacity="0.8"/>
<rect x="272.24" y="457.08" width="0.8" height="0.8" fill="#5a2f82" opacity="0.8"/>
<rect x="282.75" y="432.6" width="4.9" height="52.8" fill="#efe5f4"/>
<line x1="285.2" y1="432.6" x2="285.2" y2="430.95" stroke="#444" stroke-width="0.55"/>
<line x1="284.3" y1="430.95" x2="286.1" y2="430.95" stroke="#444" stroke-width="0.55"/>
<rect x="285.39" y="439.12" width="0.8" height="0.8" fill="#b9a0d4" opacity="0.8"/>
<rect x="284.17" y="434.46" width="0.8" height="0.8" fill="#b9a0d4" opacity="0.8"/>
<rect x="284.74" y="427.76" width="0.8" height="0.8" fill="#b9a0d4" opacity="0.8"/>
<rect x="284.74" y="434.77" width="0.8" height="0.8" fill="#b9a0d4" opacity="0.8"/>
<rect x="287.65" y="439.2" width="4.9" height="46.2" fill="#d9c6ea"/>
<line x1="290.1" y1="439.2" x2="290.1" y2="435.9" stroke="#444" stroke-width="0.55"/>
<line x1="289.2" y1="435.9" x2="291" y2="435.9" stroke="#444" stroke-width="0.55"/>
<rect x="288.24" y="436.3" width="0.8" height="0.8" fill="#8a66b6" opacity="0.8"/>
<rect x="288.13" y="433.01" width="0.8" height="0.8" fill="#8a66b6" opacity="0.8"/>
<rect x="290.84" y="435.75" width="0.8" height="0.8" fill="#8a66b6" opacity="0.8"/>
<rect x="290.65" y="444.68" width="0.8" height="0.8" fill="#8a66b6" opacity="0.8"/>
<rect x="292.55" y="435.35" width="4.9" height="50.05" fill="#b9a0d2"/>
<line x1="295" y1="435.35" x2="295" y2="433.15" stroke="#444" stroke-width="0.55"/>
<line x1="294.1" y1="433.15" x2="295.9" y2="433.15" stroke="#444" stroke-width="0.55"/>
<rect x="294.86" y="436.72" width="0.8" height="0.8" fill="#5a2f82" opacity="0.8"/>
<rect x="293.1" y="441.44" width="0.8" height="0.8" fill="#5a2f82" opacity="0.8"/>
<rect x="296.1" y="439.17" width="0.8" height="0.8" fill="#5a2f82" opacity="0.8"/>
<rect x="295.44" y="438.96" width="0.8" height="0.8" fill="#5a2f82" opacity="0.8"/>
<line x1="235.1" y1="428.2" x2="235.1" y2="485.9" stroke="#111" stroke-width="1.1"/>
<line x1="234.6" y1="485.4" x2="298.8" y2="485.4" stroke="#111" stroke-width="1.1"/>
<line x1="231.9" y1="485.4" x2="235.1" y2="485.4" stroke="#111" stroke-width="0.8"/>
<text x="228.7" y="487.8" font-size="6.4" text-anchor="end">0</text>
<line x1="231.9" y1="474.4" x2="235.1" y2="474.4" stroke="#111" stroke-width="0.8"/>
<text x="228.7" y="476.8" font-size="6.4" text-anchor="end">20</text>
<line x1="231.9" y1="463.4" x2="235.1" y2="463.4" stroke="#111" stroke-width="0.8"/>
<text x="228.7" y="465.8" font-size="6.4" text-anchor="end">40</text>
<line x1="231.9" y1="452.4" x2="235.1" y2="452.4" stroke="#111" stroke-width="0.8"/>
<text x="228.7" y="454.8" font-size="6.4" text-anchor="end">60</text>
<line x1="231.9" y1="441.4" x2="235.1" y2="441.4" stroke="#111" stroke-width="0.8"/>
<text x="228.7" y="443.8" font-size="6.4" text-anchor="end">80</text>
<line x1="231.9" y1="430.4" x2="235.1" y2="430.4" stroke="#111" stroke-width="0.8"/>
<text x="228.7" y="432.8" font-size="6.4" text-anchor="end">100</text>
<line x1="245.5" y1="485.4" x2="245.5" y2="487.2" stroke="#111" stroke-width="0.7"/>
<line x1="267.4" y1="485.4" x2="267.4" y2="487.2" stroke="#111" stroke-width="0.7"/>
<line x1="290.1" y1="485.4" x2="290.1" y2="487.2" stroke="#111" stroke-width="0.7"/>
<text x="245.5" y="498.3" font-size="6.6" text-anchor="middle">48</text>
<text x="267.4" y="498.3" font-size="6.6" text-anchor="middle">72</text>
<text x="290.1" y="498.3" font-size="6.6" text-anchor="middle">96</text>
<text x="212.5" y="457.3" font-size="8.1" text-anchor="middle" textLength="53.8" lengthAdjust="spacingAndGlyphs" transform="rotate(-90 212.5 457.3)" class="c">% proliferating CD8</text>
<rect x="339.55" y="483.83" width="4.9" height="1.37" fill="#efe5f4"/>
<line x1="342" y1="483.83" x2="342" y2="483.14" stroke="#444" stroke-width="0.55"/>
<line x1="341.1" y1="483.14" x2="342.9" y2="483.14" stroke="#444" stroke-width="0.55"/>
<rect x="342.66" y="482.99" width="0.8" height="0.8" fill="#b9a0d4" opacity="0.8"/>
<rect x="340.81" y="483.45" width="0.8" height="0.8" fill="#b9a0d4" opacity="0.8"/>
<rect x="342.14" y="484.18" width="0.8" height="0.8" fill="#b9a0d4" opacity="0.8"/>
<rect x="342.46" y="483.47" width="0.8" height="0.8" fill="#b9a0d4" opacity="0.8"/>
<rect x="344.45" y="484.1" width="4.9" height="1.1" fill="#d9c6ea"/>
<line x1="346.9" y1="484.1" x2="346.9" y2="483.42" stroke="#444" stroke-width="0.55"/>
<line x1="346" y1="483.42" x2="347.8" y2="483.42" stroke="#444" stroke-width="0.55"/>
<rect x="347.39" y="483.9" width="0.8" height="0.8" fill="#8a66b6" opacity="0.8"/>
<rect x="347.5" y="484.05" width="0.8" height="0.8" fill="#8a66b6" opacity="0.8"/>
<rect x="346.22" y="483.36" width="0.8" height="0.8" fill="#8a66b6" opacity="0.8"/>
<rect x="347.1" y="483.65" width="0.8" height="0.8" fill="#8a66b6" opacity="0.8"/>
<rect x="349.35" y="483.14" width="4.9" height="2.06" fill="#b9a0d2"/>
<line x1="351.8" y1="483.14" x2="351.8" y2="481.77" stroke="#444" stroke-width="0.55"/>
<line x1="350.9" y1="481.77" x2="352.7" y2="481.77" stroke="#444" stroke-width="0.55"/>
<rect x="351.58" y="483.67" width="0.8" height="0.8" fill="#5a2f82" opacity="0.8"/>
<rect x="350.63" y="481.83" width="0.8" height="0.8" fill="#5a2f82" opacity="0.8"/>
<rect x="352.01" y="481.83" width="0.8" height="0.8" fill="#5a2f82" opacity="0.8"/>
<rect x="350.86" y="481.71" width="0.8" height="0.8" fill="#5a2f82" opacity="0.8"/>
<rect x="361.55" y="476.98" width="4.9" height="8.22" fill="#efe5f4"/>
<line x1="364" y1="476.98" x2="364" y2="472.87" stroke="#444" stroke-width="0.55"/>
<line x1="363.1" y1="472.87" x2="364.9" y2="472.87" stroke="#444" stroke-width="0.55"/>
<rect x="364.59" y="480.26" width="0.8" height="0.8" fill="#b9a0d4" opacity="0.8"/>
<rect x="363.42" y="473.82" width="0.8" height="0.8" fill="#b9a0d4" opacity="0.8"/>
<rect x="362.6" y="480.25" width="0.8" height="0.8" fill="#b9a0d4" opacity="0.8"/>
<rect x="362.91" y="475.36" width="0.8" height="0.8" fill="#b9a0d4" opacity="0.8"/>
<rect x="366.45" y="476.71" width="4.9" height="8.49" fill="#d9c6ea"/>
<line x1="368.9" y1="476.71" x2="368.9" y2="473.28" stroke="#444" stroke-width="0.55"/>
<line x1="368" y1="473.28" x2="369.8" y2="473.28" stroke="#444" stroke-width="0.55"/>
<rect x="368.79" y="472.9" width="0.8" height="0.8" fill="#8a66b6" opacity="0.8"/>
<rect x="369.01" y="478.56" width="0.8" height="0.8" fill="#8a66b6" opacity="0.8"/>
<rect x="369.93" y="477.36" width="0.8" height="0.8" fill="#8a66b6" opacity="0.8"/>
<rect x="368.55" y="473.22" width="0.8" height="0.8" fill="#8a66b6" opacity="0.8"/>
<rect x="371.35" y="476.29" width="4.9" height="8.91" fill="#b9a0d2"/>
<line x1="373.8" y1="476.29" x2="373.8" y2="472.19" stroke="#444" stroke-width="0.55"/>
<line x1="372.9" y1="472.19" x2="374.7" y2="472.19" stroke="#444" stroke-width="0.55"/>
<rect x="374.05" y="474.59" width="0.8" height="0.8" fill="#5a2f82" opacity="0.8"/>
<rect x="374.97" y="473.13" width="0.8" height="0.8" fill="#5a2f82" opacity="0.8"/>
<rect x="372.94" y="480.16" width="0.8" height="0.8" fill="#5a2f82" opacity="0.8"/>
<rect x="372.75" y="474.98" width="0.8" height="0.8" fill="#5a2f82" opacity="0.8"/>
<rect x="383.45" y="461.91" width="4.9" height="23.29" fill="#efe5f4"/>
<line x1="385.9" y1="461.91" x2="385.9" y2="453.69" stroke="#444" stroke-width="0.55"/>
<line x1="385" y1="453.69" x2="386.8" y2="453.69" stroke="#444" stroke-width="0.55"/>
<rect x="384.15" y="459.9" width="0.8" height="0.8" fill="#b9a0d4" opacity="0.8"/>
<rect x="385.58" y="454.64" width="0.8" height="0.8" fill="#b9a0d4" opacity="0.8"/>
<rect x="386.04" y="468.44" width="0.8" height="0.8" fill="#b9a0d4" opacity="0.8"/>
<rect x="384.5" y="464.9" width="0.8" height="0.8" fill="#b9a0d4" opacity="0.8"/>
<rect x="388.35" y="464.65" width="4.9" height="20.55" fill="#d9c6ea"/>
<line x1="390.8" y1="464.65" x2="390.8" y2="459.17" stroke="#444" stroke-width="0.55"/>
<line x1="389.9" y1="459.17" x2="391.7" y2="459.17" stroke="#444" stroke-width="0.55"/>
<rect x="389.21" y="464.45" width="0.8" height="0.8" fill="#8a66b6" opacity="0.8"/>
<rect x="391.61" y="467.75" width="0.8" height="0.8" fill="#8a66b6" opacity="0.8"/>
<rect x="388.79" y="461.86" width="0.8" height="0.8" fill="#8a66b6" opacity="0.8"/>
<rect x="388.81" y="460.9" width="0.8" height="0.8" fill="#8a66b6" opacity="0.8"/>
<rect x="393.25" y="462.59" width="4.9" height="22.61" fill="#b9a0d2"/>
<line x1="395.7" y1="462.59" x2="395.7" y2="455.06" stroke="#444" stroke-width="0.55"/>
<line x1="394.8" y1="455.06" x2="396.6" y2="455.06" stroke="#444" stroke-width="0.55"/>
<rect x="396.63" y="464.96" width="0.8" height="0.8" fill="#5a2f82" opacity="0.8"/>
<rect x="394.66" y="460.2" width="0.8" height="0.8" fill="#5a2f82" opacity="0.8"/>
<rect x="394.93" y="464.23" width="0.8" height="0.8" fill="#5a2f82" opacity="0.8"/>
<rect x="396.95" y="468.38" width="0.8" height="0.8" fill="#5a2f82" opacity="0.8"/>
<line x1="336.5" y1="428.2" x2="336.5" y2="485.7" stroke="#111" stroke-width="1.1"/>
<line x1="336" y1="485.2" x2="399" y2="485.2" stroke="#111" stroke-width="1.1"/>
<line x1="333.3" y1="485.2" x2="336.5" y2="485.2" stroke="#111" stroke-width="0.8"/>
<text x="330.1" y="487.6" font-size="6.4" text-anchor="end">0</text>
<line x1="333.3" y1="471.5" x2="336.5" y2="471.5" stroke="#111" stroke-width="0.8"/>
<text x="330.1" y="473.9" font-size="6.4" text-anchor="end">1</text>
<line x1="333.3" y1="457.8" x2="336.5" y2="457.8" stroke="#111" stroke-width="0.8"/>
<text x="330.1" y="460.2" font-size="6.4" text-anchor="end">2</text>
<line x1="333.3" y1="444.1" x2="336.5" y2="444.1" stroke="#111" stroke-width="0.8"/>
<text x="330.1" y="446.5" font-size="6.4" text-anchor="end">3</text>
<line x1="333.3" y1="430.4" x2="336.5" y2="430.4" stroke="#111" stroke-width="0.8"/>
<text x="330.1" y="432.8" font-size="6.4" text-anchor="end">4</text>
<line x1="346.9" y1="485.2" x2="346.9" y2="487" stroke="#111" stroke-width="0.7"/>
<line x1="368.9" y1="485.2" x2="368.9" y2="487" stroke="#111" stroke-width="0.7"/>
<line x1="390.8" y1="485.2" x2="390.8" y2="487" stroke="#111" stroke-width="0.7"/>
<text x="346.9" y="498.3" font-size="6.6" text-anchor="middle">48</text>
<text x="368.9" y="498.3" font-size="6.6" text-anchor="middle">72</text>
<text x="390.8" y="498.3" font-size="6.6" text-anchor="middle">96</text>
<text x="321" y="456.8" font-size="8.1" text-anchor="middle" textLength="27" lengthAdjust="spacingAndGlyphs" transform="rotate(-90 321 456.8)" class="c">MDN CD8</text>
<text x="411.5" y="441.8" font-size="6.2" textLength="28.3" lengthAdjust="spacingAndGlyphs">Weeks on</text>
<text x="411.5" y="450.2" font-size="6.2" textLength="29.5" lengthAdjust="spacingAndGlyphs">venetoclax</text>
<rect x="411.3" y="460.9" width="1.3" height="1.3" fill="#b9a0d4"/>
<text x="417.1" y="463.7" font-size="6.2">4</text>
<rect x="411.3" y="468.9" width="1.3" height="1.3" fill="#8a66b6"/>
<text x="417.1" y="471.7" font-size="6.2">8</text>
<rect x="411.3" y="477.4" width="1.3" height="1.3" fill="#5a2f82"/>
<text x="417.1" y="480.2" font-size="6.2">≥16</text>
<text x="267.2" y="510" font-size="8.1" text-anchor="middle" textLength="24.8" lengthAdjust="spacingAndGlyphs" class="c">Time (hr)</text>
<text x="368.9" y="510" font-size="8.1" text-anchor="middle" textLength="24.8" lengthAdjust="spacingAndGlyphs" class="c">Time (hr)</text>
<text x="81.7" y="534.7" font-size="7.2" text-anchor="middle">IL-4</text>
<rect x="67.9" y="585.72" width="3.8" height="0.18" fill="#f7c9c0"/>
<line x1="69.8" y1="585.72" x2="69.8" y2="585.63" stroke="#e48a9a" stroke-width="0.55"/>
<line x1="68.9" y1="585.63" x2="70.7" y2="585.63" stroke="#e48a9a" stroke-width="0.55"/>
<rect x="69.53" y="585.33" width="0.8" height="0.8" fill="#e48a9a" opacity="0.8"/>
<rect x="69.32" y="585.23" width="0.8" height="0.8" fill="#e48a9a" opacity="0.8"/>
<rect x="69.59" y="585.32" width="0.8" height="0.8" fill="#e48a9a" opacity="0.8"/>
<rect x="69.43" y="585.38" width="0.8" height="0.8" fill="#e48a9a" opacity="0.8"/>
<rect x="71.7" y="585.72" width="3.8" height="0.18" fill="#f3ad98"/>
<line x1="73.6" y1="585.72" x2="73.6" y2="585.63" stroke="#d0705a" stroke-width="0.55"/>
<line x1="72.7" y1="585.63" x2="74.5" y2="585.63" stroke="#d0705a" stroke-width="0.55"/>
<rect x="73.84" y="585.29" width="0.8" height="0.8" fill="#d0705a" opacity="0.8"/>
<rect x="72.77" y="585.4" width="0.8" height="0.8" fill="#d0705a" opacity="0.8"/>
<rect x="73.88" y="585.4" width="0.8" height="0.8" fill="#d0705a" opacity="0.8"/>
<rect x="72.19" y="585.28" width="0.8" height="0.8" fill="#d0705a" opacity="0.8"/>
<rect x="75.5" y="585.72" width="3.8" height="0.18" fill="#eda27f"/>
<line x1="77.4" y1="585.72" x2="77.4" y2="585.63" stroke="#8a4a3a" stroke-width="0.55"/>
<line x1="76.5" y1="585.63" x2="78.3" y2="585.63" stroke="#8a4a3a" stroke-width="0.55"/>
<rect x="78.02" y="585.22" width="0.8" height="0.8" fill="#8a4a3a" opacity="0.8"/>
<rect x="77.25" y="585.29" width="0.8" height="0.8" fill="#8a4a3a" opacity="0.8"/>
<rect x="75.93" y="585.39" width="0.8" height="0.8" fill="#8a4a3a" opacity="0.8"/>
<rect x="76.03" y="585.31" width="0.8" height="0.8" fill="#8a4a3a" opacity="0.8"/>
<rect x="85.4" y="577.11" width="3.8" height="8.79" fill="#f7c9c0"/>
<line x1="87.3" y1="577.11" x2="87.3" y2="569.05" stroke="#e48a9a" stroke-width="0.55"/>
<line x1="86.4" y1="569.05" x2="88.2" y2="569.05" stroke="#e48a9a" stroke-width="0.55"/>
<rect x="86.33" y="582.2" width="0.8" height="0.8" fill="#e48a9a" opacity="0.8"/>
<rect x="86.82" y="585.04" width="0.8" height="0.8" fill="#e48a9a" opacity="0.8"/>
<rect x="87.65" y="577.76" width="0.8" height="0.8" fill="#e48a9a" opacity="0.8"/>
<rect x="87.21" y="576.37" width="0.8" height="0.8" fill="#e48a9a" opacity="0.8"/>
<rect x="89.2" y="576.37" width="3.8" height="9.53" fill="#f3ad98"/>
<line x1="91.1" y1="576.37" x2="91.1" y2="569.05" stroke="#d0705a" stroke-width="0.55"/>
<line x1="90.2" y1="569.05" x2="92" y2="569.05" stroke="#d0705a" stroke-width="0.55"/>
<rect x="91.06" y="575.98" width="0.8" height="0.8" fill="#d0705a" opacity="0.8"/>
<rect x="90.21" y="576.66" width="0.8" height="0.8" fill="#d0705a" opacity="0.8"/>
<rect x="91.79" y="567.95" width="0.8" height="0.8" fill="#d0705a" opacity="0.8"/>
<rect x="91.16" y="570.49" width="0.8" height="0.8" fill="#d0705a" opacity="0.8"/>
<rect x="93" y="576.37" width="3.8" height="9.53" fill="#eda27f"/>
<line x1="94.9" y1="576.37" x2="94.9" y2="571.79" stroke="#8a4a3a" stroke-width="0.55"/>
<line x1="94" y1="571.79" x2="95.8" y2="571.79" stroke="#8a4a3a" stroke-width="0.55"/>
<rect x="93.91" y="577.83" width="0.8" height="0.8" fill="#8a4a3a" opacity="0.8"/>
<rect x="93.55" y="578.1" width="0.8" height="0.8" fill="#8a4a3a" opacity="0.8"/>
<rect x="94.28" y="573.29" width="0.8" height="0.8" fill="#8a4a3a" opacity="0.8"/>
<rect x="94.25" y="572.48" width="0.8" height="0.8" fill="#8a4a3a" opacity="0.8"/>
<line x1="66.2" y1="537.9" x2="66.2" y2="586.4" stroke="#111" stroke-width="1.1"/>
<line x1="65.7" y1="585.9" x2="99.2" y2="585.9" stroke="#111" stroke-width="1.1"/>
<line x1="63" y1="585.9" x2="66.2" y2="585.9" stroke="#111" stroke-width="0.8"/>
<text x="59.8" y="588.3" font-size="6.3" text-anchor="end">0</text>
<line x1="63" y1="576.74" x2="66.2" y2="576.74" stroke="#111" stroke-width="0.8"/>
<text x="59.8" y="579.14" font-size="6.3" text-anchor="end">50</text>
<line x1="63" y1="567.58" x2="66.2" y2="567.58" stroke="#111" stroke-width="0.8"/>
<text x="59.8" y="569.98" font-size="6.3" text-anchor="end">100</text>
<line x1="63" y1="558.42" x2="66.2" y2="558.42" stroke="#111" stroke-width="0.8"/>
<text x="59.8" y="560.82" font-size="6.3" text-anchor="end">150</text>
<line x1="63" y1="549.26" x2="66.2" y2="549.26" stroke="#111" stroke-width="0.8"/>
<text x="59.8" y="551.66" font-size="6.3" text-anchor="end">200</text>
<line x1="63" y1="540.1" x2="66.2" y2="540.1" stroke="#111" stroke-width="0.8"/>
<text x="59.8" y="542.5" font-size="6.3" text-anchor="end">250</text>
<line x1="73.6" y1="585.9" x2="73.6" y2="587.7" stroke="#111" stroke-width="0.7"/>
<line x1="91.1" y1="585.9" x2="91.1" y2="587.7" stroke="#111" stroke-width="0.7"/>
<text x="42.4" y="561.5" font-size="8.1" text-anchor="middle" textLength="17.7" lengthAdjust="spacingAndGlyphs" transform="rotate(-90 42.4 561.5)" class="c">pg/mL</text>
<text x="73.6" y="598.1" font-size="6.8" text-anchor="middle">–</text>
<text x="91.1" y="598.1" font-size="6.8" text-anchor="middle">+</text>
<text x="156.3" y="534.7" font-size="7.2" text-anchor="middle">IL-10</text>
<rect x="143.6" y="585.73" width="3.8" height="0.17" fill="#f7c9c0"/>
<line x1="145.5" y1="585.73" x2="145.5" y2="585.62" stroke="#e48a9a" stroke-width="0.55"/>
<line x1="144.6" y1="585.62" x2="146.4" y2="585.62" stroke="#e48a9a" stroke-width="0.55"/>
<rect x="145.45" y="585.34" width="0.8" height="0.8" fill="#e48a9a" opacity="0.8"/>
<rect x="144.31" y="585.29" width="0.8" height="0.8" fill="#e48a9a" opacity="0.8"/>
<rect x="144.82" y="585.45" width="0.8" height="0.8" fill="#e48a9a" opacity="0.8"/>
<rect x="145.78" y="585.39" width="0.8" height="0.8" fill="#e48a9a" opacity="0.8"/>
<rect x="147.4" y="585.73" width="3.8" height="0.17" fill="#f3ad98"/>
<line x1="149.3" y1="585.73" x2="149.3" y2="585.62" stroke="#d0705a" stroke-width="0.55"/>
<line x1="148.4" y1="585.62" x2="150.2" y2="585.62" stroke="#d0705a" stroke-width="0.55"/>
<rect x="149.12" y="585.28" width="0.8" height="0.8" fill="#d0705a" opacity="0.8"/>
<rect x="149.25" y="585.32" width="0.8" height="0.8" fill="#d0705a" opacity="0.8"/>
<rect x="148.77" y="585.42" width="0.8" height="0.8" fill="#d0705a" opacity="0.8"/>
<rect x="149.79" y="585.41" width="0.8" height="0.8" fill="#d0705a" opacity="0.8"/>
<rect x="151.2" y="585.73" width="3.8" height="0.17" fill="#eda27f"/>
<line x1="153.1" y1="585.73" x2="153.1" y2="585.62" stroke="#8a4a3a" stroke-width="0.55"/>
<line x1="152.2" y1="585.62" x2="154" y2="585.62" stroke="#8a4a3a" stroke-width="0.55"/>
<rect x="153.4" y="585.44" width="0.8" height="0.8" fill="#8a4a3a" opacity="0.8"/>
<rect x="153.11" y="585.44" width="0.8" height="0.8" fill="#8a4a3a" opacity="0.8"/>
<rect x="152.49" y="585.37" width="0.8" height="0.8" fill="#8a4a3a" opacity="0.8"/>
<rect x="151.64" y="585.25" width="0.8" height="0.8" fill="#8a4a3a" opacity="0.8"/>
<rect x="160.7" y="581" width="3.8" height="4.9" fill="#f7c9c0"/>
<line x1="162.6" y1="581" x2="162.6" y2="570.96" stroke="#e48a9a" stroke-width="0.55"/>
<line x1="161.7" y1="570.96" x2="163.5" y2="570.96" stroke="#e48a9a" stroke-width="0.55"/>
<rect x="163.11" y="585.5" width="0.8" height="0.8" fill="#e48a9a" opacity="0.8"/>
<rect x="161.3" y="580.4" width="0.8" height="0.8" fill="#e48a9a" opacity="0.8"/>
<rect x="163.18" y="569.84" width="0.8" height="0.8" fill="#e48a9a" opacity="0.8"/>
<rect x="162.03" y="585.5" width="0.8" height="0.8" fill="#e48a9a" opacity="0.8"/>
<rect x="164.5" y="583.19" width="3.8" height="2.71" fill="#f3ad98"/>
<line x1="166.4" y1="583.19" x2="166.4" y2="577.11" stroke="#d0705a" stroke-width="0.55"/>
<line x1="165.5" y1="577.11" x2="167.3" y2="577.11" stroke="#d0705a" stroke-width="0.55"/>
<rect x="165.59" y="585.5" width="0.8" height="0.8" fill="#d0705a" opacity="0.8"/>
<rect x="165.26" y="581.17" width="0.8" height="0.8" fill="#d0705a" opacity="0.8"/>
<rect x="165.01" y="580.16" width="0.8" height="0.8" fill="#d0705a" opacity="0.8"/>
<rect x="166.69" y="585.5" width="0.8" height="0.8" fill="#d0705a" opacity="0.8"/>
<rect x="168.3" y="583.64" width="3.8" height="2.26" fill="#eda27f"/>
<line x1="170.2" y1="583.64" x2="170.2" y2="579.7" stroke="#8a4a3a" stroke-width="0.55"/>
<line x1="169.3" y1="579.7" x2="171.1" y2="579.7" stroke="#8a4a3a" stroke-width="0.55"/>
<rect x="169.62" y="584.11" width="0.8" height="0.8" fill="#8a4a3a" opacity="0.8"/>
<rect x="169.75" y="582.41" width="0.8" height="0.8" fill="#8a4a3a" opacity="0.8"/>
<rect x="168.77" y="584.25" width="0.8" height="0.8" fill="#8a4a3a" opacity="0.8"/>
<rect x="170.83" y="581.28" width="0.8" height="0.8" fill="#8a4a3a" opacity="0.8"/>
<line x1="141.5" y1="538.6" x2="141.5" y2="586.4" stroke="#111" stroke-width="1.1"/>
<line x1="141" y1="585.9" x2="174.5" y2="585.9" stroke="#111" stroke-width="1.1"/>
<line x1="138.3" y1="585.9" x2="141.5" y2="585.9" stroke="#111" stroke-width="0.8"/>
<text x="135.1" y="588.3" font-size="6.3" text-anchor="end">0</text>
<line x1="138.3" y1="574.62" x2="141.5" y2="574.62" stroke="#111" stroke-width="0.8"/>
<text x="135.1" y="577.02" font-size="6.3" text-anchor="end">200</text>
<line x1="138.3" y1="563.35" x2="141.5" y2="563.35" stroke="#111" stroke-width="0.8"/>
<text x="135.1" y="565.75" font-size="6.3" text-anchor="end">400</text>
<line x1="138.3" y1="552.07" x2="141.5" y2="552.07" stroke="#111" stroke-width="0.8"/>
<text x="135.1" y="554.47" font-size="6.3" text-anchor="end">600</text>
<line x1="138.3" y1="540.8" x2="141.5" y2="540.8" stroke="#111" stroke-width="0.8"/>
<text x="135.1" y="543.2" font-size="6.3" text-anchor="end">800</text>
<line x1="149.3" y1="585.9" x2="149.3" y2="587.7" stroke="#111" stroke-width="0.7"/>
<line x1="166.4" y1="585.9" x2="166.4" y2="587.7" stroke="#111" stroke-width="0.7"/>
<text x="118" y="561.85" font-size="8.1" text-anchor="middle" textLength="17.7" lengthAdjust="spacingAndGlyphs" transform="rotate(-90 118 561.85)" class="c">pg/mL</text>
<text x="149.3" y="598.1" font-size="6.8" text-anchor="middle">–</text>
<text x="166.4" y="598.1" font-size="6.8" text-anchor="middle">+</text>
<text x="226.7" y="534.7" font-size="7.2" text-anchor="middle">IL-6</text>
<rect x="214.3" y="585.44" width="3.8" height="0.46" fill="#f7c9c0"/>
<line x1="216.2" y1="585.44" x2="216.2" y2="585.14" stroke="#e48a9a" stroke-width="0.55"/>
<line x1="215.3" y1="585.14" x2="217.1" y2="585.14" stroke="#e48a9a" stroke-width="0.55"/>
<rect x="216.21" y="585.2" width="0.8" height="0.8" fill="#e48a9a" opacity="0.8"/>
<rect x="216.57" y="584.92" width="0.8" height="0.8" fill="#e48a9a" opacity="0.8"/>
<rect x="215.21" y="585.25" width="0.8" height="0.8" fill="#e48a9a" opacity="0.8"/>
<rect x="215.2" y="585.28" width="0.8" height="0.8" fill="#e48a9a" opacity="0.8"/>
<rect x="218.1" y="585.44" width="3.8" height="0.46" fill="#f3ad98"/>
<line x1="220" y1="585.44" x2="220" y2="585.14" stroke="#d0705a" stroke-width="0.55"/>
<line x1="219.1" y1="585.14" x2="220.9" y2="585.14" stroke="#d0705a" stroke-width="0.55"/>
<rect x="218.79" y="584.88" width="0.8" height="0.8" fill="#d0705a" opacity="0.8"/>
<rect x="218.97" y="585.02" width="0.8" height="0.8" fill="#d0705a" opacity="0.8"/>
<rect x="219.45" y="585.18" width="0.8" height="0.8" fill="#d0705a" opacity="0.8"/>
<rect x="219.84" y="584.82" width="0.8" height="0.8" fill="#d0705a" opacity="0.8"/>
<rect x="221.9" y="585.44" width="3.8" height="0.46" fill="#eda27f"/>
<line x1="223.8" y1="585.44" x2="223.8" y2="585.14" stroke="#8a4a3a" stroke-width="0.55"/>
<line x1="222.9" y1="585.14" x2="224.7" y2="585.14" stroke="#8a4a3a" stroke-width="0.55"/>
<rect x="222.91" y="585.37" width="0.8" height="0.8" fill="#8a4a3a" opacity="0.8"/>
<rect x="224.22" y="585.28" width="0.8" height="0.8" fill="#8a4a3a" opacity="0.8"/>
<rect x="224.07" y="584.83" width="0.8" height="0.8" fill="#8a4a3a" opacity="0.8"/>
<rect x="223.94" y="584.82" width="0.8" height="0.8" fill="#8a4a3a" opacity="0.8"/>
<rect x="231.8" y="576.74" width="3.8" height="9.16" fill="#f7c9c0"/>
<line x1="233.7" y1="576.74" x2="233.7" y2="566.05" stroke="#e48a9a" stroke-width="0.55"/>
<line x1="232.8" y1="566.05" x2="234.6" y2="566.05" stroke="#e48a9a" stroke-width="0.55"/>
<rect x="233.95" y="565.78" width="0.8" height="0.8" fill="#e48a9a" opacity="0.8"/>
<rect x="234.07" y="582.06" width="0.8" height="0.8" fill="#e48a9a" opacity="0.8"/>
<rect x="233.86" y="576.65" width="0.8" height="0.8" fill="#e48a9a" opacity="0.8"/>
<rect x="233.15" y="574.83" width="0.8" height="0.8" fill="#e48a9a" opacity="0.8"/>
<rect x="235.6" y="581.32" width="3.8" height="4.58" fill="#f3ad98"/>
<line x1="237.5" y1="581.32" x2="237.5" y2="573.69" stroke="#d0705a" stroke-width="0.55"/>
<line x1="236.6" y1="573.69" x2="238.4" y2="573.69" stroke="#d0705a" stroke-width="0.55"/>
<rect x="236.95" y="583.2" width="0.8" height="0.8" fill="#d0705a" opacity="0.8"/>
<rect x="236.26" y="584.05" width="0.8" height="0.8" fill="#d0705a" opacity="0.8"/>
<rect x="237.76" y="575.55" width="0.8" height="0.8" fill="#d0705a" opacity="0.8"/>
<rect x="237.52" y="572.76" width="0.8" height="0.8" fill="#d0705a" opacity="0.8"/>
<rect x="239.4" y="582.85" width="3.8" height="3.05" fill="#eda27f"/>
<line x1="241.3" y1="582.85" x2="241.3" y2="578.27" stroke="#8a4a3a" stroke-width="0.55"/>
<line x1="240.4" y1="578.27" x2="242.2" y2="578.27" stroke="#8a4a3a" stroke-width="0.55"/>
<rect x="241.45" y="581.9" width="0.8" height="0.8" fill="#8a4a3a" opacity="0.8"/>
<rect x="241.29" y="585.5" width="0.8" height="0.8" fill="#8a4a3a" opacity="0.8"/>
<rect x="240.19" y="583.02" width="0.8" height="0.8" fill="#8a4a3a" opacity="0.8"/>
<rect x="240.95" y="585.44" width="0.8" height="0.8" fill="#8a4a3a" opacity="0.8"/>
<line x1="212.6" y1="537.9" x2="212.6" y2="586.4" stroke="#111" stroke-width="1.1"/>
<line x1="212.1" y1="585.9" x2="244.2" y2="585.9" stroke="#111" stroke-width="1.1"/>
<line x1="209.4" y1="585.9" x2="212.6" y2="585.9" stroke="#111" stroke-width="0.8"/>
<text x="206.2" y="588.3" font-size="6.3" text-anchor="end">0</text>
<line x1="209.4" y1="570.63" x2="212.6" y2="570.63" stroke="#111" stroke-width="0.8"/>
<text x="206.2" y="573.03" font-size="6.3" text-anchor="end">10</text>
<line x1="209.4" y1="555.37" x2="212.6" y2="555.37" stroke="#111" stroke-width="0.8"/>
<text x="206.2" y="557.77" font-size="6.3" text-anchor="end">20</text>
<line x1="209.4" y1="540.1" x2="212.6" y2="540.1" stroke="#111" stroke-width="0.8"/>
<text x="206.2" y="542.5" font-size="6.3" text-anchor="end">30</text>
<line x1="220" y1="585.9" x2="220" y2="587.7" stroke="#111" stroke-width="0.7"/>
<line x1="237.5" y1="585.9" x2="237.5" y2="587.7" stroke="#111" stroke-width="0.7"/>
<text x="193.1" y="561.5" font-size="8.1" text-anchor="middle" textLength="17.7" lengthAdjust="spacingAndGlyphs" transform="rotate(-90 193.1 561.5)" class="c">pg/mL</text>
<text x="220" y="598.1" font-size="6.8" text-anchor="middle">–</text>
<text x="237.5" y="598.1" font-size="6.8" text-anchor="middle">+</text>
<text x="312.1" y="534.7" font-size="7.2" text-anchor="middle">IL-17</text>
<rect x="299.7" y="585.44" width="3.8" height="0.46" fill="#f7c9c0"/>
<line x1="301.6" y1="585.44" x2="301.6" y2="585.14" stroke="#e48a9a" stroke-width="0.55"/>
<line x1="300.7" y1="585.14" x2="302.5" y2="585.14" stroke="#e48a9a" stroke-width="0.55"/>
<rect x="301.65" y="585.31" width="0.8" height="0.8" fill="#e48a9a" opacity="0.8"/>
<rect x="302.17" y="584.94" width="0.8" height="0.8" fill="#e48a9a" opacity="0.8"/>
<rect x="300.66" y="585.2" width="0.8" height="0.8" fill="#e48a9a" opacity="0.8"/>
<rect x="301.55" y="584.88" width="0.8" height="0.8" fill="#e48a9a" opacity="0.8"/>
<rect x="303.5" y="585.44" width="3.8" height="0.46" fill="#f3ad98"/>
<line x1="305.4" y1="585.44" x2="305.4" y2="585.14" stroke="#d0705a" stroke-width="0.55"/>
<line x1="304.5" y1="585.14" x2="306.3" y2="585.14" stroke="#d0705a" stroke-width="0.55"/>
<rect x="305.41" y="585.17" width="0.8" height="0.8" fill="#d0705a" opacity="0.8"/>
<rect x="305.61" y="585.11" width="0.8" height="0.8" fill="#d0705a" opacity="0.8"/>
<rect x="304.39" y="585.3" width="0.8" height="0.8" fill="#d0705a" opacity="0.8"/>
<rect x="304.69" y="584.77" width="0.8" height="0.8" fill="#d0705a" opacity="0.8"/>
<rect x="307.3" y="585.44" width="3.8" height="0.46" fill="#eda27f"/>
<line x1="309.2" y1="585.44" x2="309.2" y2="585.14" stroke="#8a4a3a" stroke-width="0.55"/>
<line x1="308.3" y1="585.14" x2="310.1" y2="585.14" stroke="#8a4a3a" stroke-width="0.55"/>
<rect x="309.47" y="585.2" width="0.8" height="0.8" fill="#8a4a3a" opacity="0.8"/>
<rect x="308.03" y="584.95" width="0.8" height="0.8" fill="#8a4a3a" opacity="0.8"/>
<rect x="309.16" y="585.01" width="0.8" height="0.8" fill="#8a4a3a" opacity="0.8"/>
<rect x="309.13" y="585.27" width="0.8" height="0.8" fill="#8a4a3a" opacity="0.8"/>
<rect x="316.9" y="576.74" width="3.8" height="9.16" fill="#f7c9c0"/>
<line x1="318.8" y1="576.74" x2="318.8" y2="567.58" stroke="#e48a9a" stroke-width="0.55"/>
<line x1="317.9" y1="567.58" x2="319.7" y2="567.58" stroke="#e48a9a" stroke-width="0.55"/>
<rect x="318.04" y="583.94" width="0.8" height="0.8" fill="#e48a9a" opacity="0.8"/>
<rect x="317.75" y="584.74" width="0.8" height="0.8" fill="#e48a9a" opacity="0.8"/>
<rect x="318.19" y="566.71" width="0.8" height="0.8" fill="#e48a9a" opacity="0.8"/>
<rect x="318.27" y="566.46" width="0.8" height="0.8" fill="#e48a9a" opacity="0.8"/>
<rect x="320.7" y="582.85" width="3.8" height="3.05" fill="#f3ad98"/>
<line x1="322.6" y1="582.85" x2="322.6" y2="579.03" stroke="#d0705a" stroke-width="0.55"/>
<line x1="321.7" y1="579.03" x2="323.5" y2="579.03" stroke="#d0705a" stroke-width="0.55"/>
<rect x="323.02" y="581.54" width="0.8" height="0.8" fill="#d0705a" opacity="0.8"/>
<rect x="321.35" y="580.88" width="0.8" height="0.8" fill="#d0705a" opacity="0.8"/>
<rect x="322.49" y="581.7" width="0.8" height="0.8" fill="#d0705a" opacity="0.8"/>
<rect x="321.31" y="585.12" width="0.8" height="0.8" fill="#d0705a" opacity="0.8"/>
<rect x="324.5" y="582.08" width="3.8" height="3.82" fill="#eda27f"/>
<line x1="326.4" y1="582.08" x2="326.4" y2="578.27" stroke="#8a4a3a" stroke-width="0.55"/>
<line x1="325.5" y1="578.27" x2="327.3" y2="578.27" stroke="#8a4a3a" stroke-width="0.55"/>
<rect x="326.03" y="578.54" width="0.8" height="0.8" fill="#8a4a3a" opacity="0.8"/>
<rect x="325.9" y="584.25" width="0.8" height="0.8" fill="#8a4a3a" opacity="0.8"/>
<rect x="326.66" y="584.05" width="0.8" height="0.8" fill="#8a4a3a" opacity="0.8"/>
<rect x="325.13" y="581.68" width="0.8" height="0.8" fill="#8a4a3a" opacity="0.8"/>
<line x1="297.3" y1="537.9" x2="297.3" y2="586.4" stroke="#111" stroke-width="1.1"/>
<line x1="296.8" y1="585.9" x2="329.6" y2="585.9" stroke="#111" stroke-width="1.1"/>
<line x1="294.1" y1="585.9" x2="297.3" y2="585.9" stroke="#111" stroke-width="0.8"/>
<text x="290.9" y="588.3" font-size="6.3" text-anchor="end">0</text>
<line x1="294.1" y1="570.63" x2="297.3" y2="570.63" stroke="#111" stroke-width="0.8"/>
<text x="290.9" y="573.03" font-size="6.3" text-anchor="end">100</text>
<line x1="294.1" y1="555.37" x2="297.3" y2="555.37" stroke="#111" stroke-width="0.8"/>
<text x="290.9" y="557.77" font-size="6.3" text-anchor="end">200</text>
<line x1="294.1" y1="540.1" x2="297.3" y2="540.1" stroke="#111" stroke-width="0.8"/>
<text x="290.9" y="542.5" font-size="6.3" text-anchor="end">300</text>
<line x1="305.4" y1="585.9" x2="305.4" y2="587.7" stroke="#111" stroke-width="0.7"/>
<line x1="322.6" y1="585.9" x2="322.6" y2="587.7" stroke="#111" stroke-width="0.7"/>
<text x="274.4" y="561.5" font-size="8.1" text-anchor="middle" textLength="17.7" lengthAdjust="spacingAndGlyphs" transform="rotate(-90 274.4 561.5)" class="c">pg/mL</text>
<text x="305.4" y="598.1" font-size="6.8" text-anchor="middle">–</text>
<text x="322.6" y="598.1" font-size="6.8" text-anchor="middle">+</text>
<text x="387.8" y="534.7" font-size="7.2" text-anchor="middle">TNF</text>
<rect x="374.7" y="585.63" width="3.8" height="0.27" fill="#f7c9c0"/>
<line x1="376.6" y1="585.63" x2="376.6" y2="585.44" stroke="#e48a9a" stroke-width="0.55"/>
<line x1="375.7" y1="585.44" x2="377.5" y2="585.44" stroke="#e48a9a" stroke-width="0.55"/>
<rect x="375.13" y="585.04" width="0.8" height="0.8" fill="#e48a9a" opacity="0.8"/>
<rect x="375.45" y="585.13" width="0.8" height="0.8" fill="#e48a9a" opacity="0.8"/>
<rect x="375.14" y="585.03" width="0.8" height="0.8" fill="#e48a9a" opacity="0.8"/>
<rect x="376.6" y="585.07" width="0.8" height="0.8" fill="#e48a9a" opacity="0.8"/>
<rect x="378.5" y="585.63" width="3.8" height="0.27" fill="#f3ad98"/>
<line x1="380.4" y1="585.63" x2="380.4" y2="585.44" stroke="#d0705a" stroke-width="0.55"/>
<line x1="379.5" y1="585.44" x2="381.3" y2="585.44" stroke="#d0705a" stroke-width="0.55"/>
<rect x="381.1" y="585.08" width="0.8" height="0.8" fill="#d0705a" opacity="0.8"/>
<rect x="379.64" y="585.33" width="0.8" height="0.8" fill="#d0705a" opacity="0.8"/>
<rect x="379.52" y="585.14" width="0.8" height="0.8" fill="#d0705a" opacity="0.8"/>
<rect x="379.4" y="585.32" width="0.8" height="0.8" fill="#d0705a" opacity="0.8"/>
<rect x="382.3" y="585.63" width="3.8" height="0.27" fill="#eda27f"/>
<line x1="384.2" y1="585.63" x2="384.2" y2="585.44" stroke="#8a4a3a" stroke-width="0.55"/>
<line x1="383.3" y1="585.44" x2="385.1" y2="585.44" stroke="#8a4a3a" stroke-width="0.55"/>
<rect x="384.62" y="585.08" width="0.8" height="0.8" fill="#8a4a3a" opacity="0.8"/>
<rect x="383.19" y="585.11" width="0.8" height="0.8" fill="#8a4a3a" opacity="0.8"/>
<rect x="383.83" y="585.05" width="0.8" height="0.8" fill="#8a4a3a" opacity="0.8"/>
<rect x="383.7" y="585.33" width="0.8" height="0.8" fill="#8a4a3a" opacity="0.8"/>
<rect x="391.9" y="574.45" width="3.8" height="11.45" fill="#f7c9c0"/>
<line x1="393.8" y1="574.45" x2="393.8" y2="566.3" stroke="#e48a9a" stroke-width="0.55"/>
<line x1="392.9" y1="566.3" x2="394.7" y2="566.3" stroke="#e48a9a" stroke-width="0.55"/>
<rect x="392.47" y="575.49" width="0.8" height="0.8" fill="#e48a9a" opacity="0.8"/>
<rect x="393.09" y="572.89" width="0.8" height="0.8" fill="#e48a9a" opacity="0.8"/>
<rect x="394.35" y="572.8" width="0.8" height="0.8" fill="#e48a9a" opacity="0.8"/>
<rect x="393.19" y="571.44" width="0.8" height="0.8" fill="#e48a9a" opacity="0.8"/>
<rect x="395.7" y="576.37" width="3.8" height="9.53" fill="#f3ad98"/>
<line x1="397.6" y1="576.37" x2="397.6" y2="568.4" stroke="#d0705a" stroke-width="0.55"/>
<line x1="396.7" y1="568.4" x2="398.5" y2="568.4" stroke="#d0705a" stroke-width="0.55"/>
<rect x="398.29" y="569.6" width="0.8" height="0.8" fill="#d0705a" opacity="0.8"/>
<rect x="398.18" y="576.14" width="0.8" height="0.8" fill="#d0705a" opacity="0.8"/>
<rect x="396.41" y="584.41" width="0.8" height="0.8" fill="#d0705a" opacity="0.8"/>
<rect x="398.16" y="581.72" width="0.8" height="0.8" fill="#d0705a" opacity="0.8"/>
<rect x="399.5" y="581.32" width="3.8" height="4.58" fill="#eda27f"/>
<line x1="401.4" y1="581.32" x2="401.4" y2="575.82" stroke="#8a4a3a" stroke-width="0.55"/>
<line x1="400.5" y1="575.82" x2="402.3" y2="575.82" stroke="#8a4a3a" stroke-width="0.55"/>
<rect x="401.48" y="578.62" width="0.8" height="0.8" fill="#8a4a3a" opacity="0.8"/>
<rect x="400.99" y="583.5" width="0.8" height="0.8" fill="#8a4a3a" opacity="0.8"/>
<rect x="400.12" y="576.24" width="0.8" height="0.8" fill="#8a4a3a" opacity="0.8"/>
<rect x="400" y="585.5" width="0.8" height="0.8" fill="#8a4a3a" opacity="0.8"/>
<line x1="372.3" y1="537.9" x2="372.3" y2="586.4" stroke="#111" stroke-width="1.1"/>
<line x1="371.8" y1="585.9" x2="405.3" y2="585.9" stroke="#111" stroke-width="1.1"/>
<line x1="369.1" y1="585.9" x2="372.3" y2="585.9" stroke="#111" stroke-width="0.8"/>
<text x="365.9" y="588.3" font-size="6.3" text-anchor="end">0</text>
<line x1="369.1" y1="576.74" x2="372.3" y2="576.74" stroke="#111" stroke-width="0.8"/>
<text x="365.9" y="579.14" font-size="6.3" text-anchor="end">100</text>
<line x1="369.1" y1="567.58" x2="372.3" y2="567.58" stroke="#111" stroke-width="0.8"/>
<text x="365.9" y="569.98" font-size="6.3" text-anchor="end">200</text>
<line x1="369.1" y1="558.42" x2="372.3" y2="558.42" stroke="#111" stroke-width="0.8"/>
<text x="365.9" y="560.82" font-size="6.3" text-anchor="end">300</text>
<line x1="369.1" y1="549.26" x2="372.3" y2="549.26" stroke="#111" stroke-width="0.8"/>
<text x="365.9" y="551.66" font-size="6.3" text-anchor="end">400</text>
<line x1="369.1" y1="540.1" x2="372.3" y2="540.1" stroke="#111" stroke-width="0.8"/>
<text x="365.9" y="542.5" font-size="6.3" text-anchor="end">500</text>
<line x1="380.4" y1="585.9" x2="380.4" y2="587.7" stroke="#111" stroke-width="0.7"/>
<line x1="397.6" y1="585.9" x2="397.6" y2="587.7" stroke="#111" stroke-width="0.7"/>
<text x="349.4" y="561.5" font-size="8.1" text-anchor="middle" textLength="17.7" lengthAdjust="spacingAndGlyphs" transform="rotate(-90 349.4 561.5)" class="c">pg/mL</text>
<text x="380.4" y="598.1" font-size="6.8" text-anchor="middle">–</text>
<text x="397.6" y="598.1" font-size="6.8" text-anchor="middle">+</text>
<text x="466.5" y="534.7" font-size="7.2" text-anchor="middle">IFNγ</text>
<rect x="455.5" y="585.97" width="3.8" height="0.23" fill="#f7c9c0"/>
<line x1="457.4" y1="585.97" x2="457.4" y2="585.86" stroke="#e48a9a" stroke-width="0.55"/>
<line x1="456.5" y1="585.86" x2="458.3" y2="585.86" stroke="#e48a9a" stroke-width="0.55"/>
<rect x="456.96" y="585.61" width="0.8" height="0.8" fill="#e48a9a" opacity="0.8"/>
<rect x="456.88" y="585.59" width="0.8" height="0.8" fill="#e48a9a" opacity="0.8"/>
<rect x="457.35" y="585.59" width="0.8" height="0.8" fill="#e48a9a" opacity="0.8"/>
<rect x="457.3" y="585.63" width="0.8" height="0.8" fill="#e48a9a" opacity="0.8"/>
<rect x="459.3" y="585.97" width="3.8" height="0.23" fill="#f3ad98"/>
<line x1="461.2" y1="585.97" x2="461.2" y2="585.86" stroke="#d0705a" stroke-width="0.55"/>
<line x1="460.3" y1="585.86" x2="462.1" y2="585.86" stroke="#d0705a" stroke-width="0.55"/>
<rect x="460.36" y="585.69" width="0.8" height="0.8" fill="#d0705a" opacity="0.8"/>
<rect x="460.01" y="585.61" width="0.8" height="0.8" fill="#d0705a" opacity="0.8"/>
<rect x="460.38" y="585.51" width="0.8" height="0.8" fill="#d0705a" opacity="0.8"/>
<rect x="461.8" y="585.5" width="0.8" height="0.8" fill="#d0705a" opacity="0.8"/>
<rect x="463.1" y="585.97" width="3.8" height="0.23" fill="#eda27f"/>
<line x1="465" y1="585.97" x2="465" y2="585.86" stroke="#8a4a3a" stroke-width="0.55"/>
<line x1="464.1" y1="585.86" x2="465.9" y2="585.86" stroke="#8a4a3a" stroke-width="0.55"/>
<rect x="465.47" y="585.63" width="0.8" height="0.8" fill="#8a4a3a" opacity="0.8"/>
<rect x="464.97" y="585.49" width="0.8" height="0.8" fill="#8a4a3a" opacity="0.8"/>
<rect x="464.5" y="585.69" width="0.8" height="0.8" fill="#8a4a3a" opacity="0.8"/>
<rect x="464.15" y="585.54" width="0.8" height="0.8" fill="#8a4a3a" opacity="0.8"/>
<rect x="472.7" y="571.12" width="3.8" height="15.08" fill="#f7c9c0"/>
<line x1="474.6" y1="571.12" x2="474.6" y2="561.07" stroke="#e48a9a" stroke-width="0.55"/>
<line x1="473.7" y1="561.07" x2="475.5" y2="561.07" stroke="#e48a9a" stroke-width="0.55"/>
<rect x="473.78" y="576.82" width="0.8" height="0.8" fill="#e48a9a" opacity="0.8"/>
<rect x="474.83" y="576.07" width="0.8" height="0.8" fill="#e48a9a" opacity="0.8"/>
<rect x="474.03" y="574.09" width="0.8" height="0.8" fill="#e48a9a" opacity="0.8"/>
<rect x="475.19" y="567.56" width="0.8" height="0.8" fill="#e48a9a" opacity="0.8"/>
<rect x="476.5" y="572.49" width="3.8" height="13.71" fill="#f3ad98"/>
<line x1="478.4" y1="572.49" x2="478.4" y2="567.01" stroke="#d0705a" stroke-width="0.55"/>
<line x1="477.5" y1="567.01" x2="479.3" y2="567.01" stroke="#d0705a" stroke-width="0.55"/>
<rect x="477" y="574.59" width="0.8" height="0.8" fill="#d0705a" opacity="0.8"/>
<rect x="478.73" y="566.37" width="0.8" height="0.8" fill="#d0705a" opacity="0.8"/>
<rect x="478.05" y="568.59" width="0.8" height="0.8" fill="#d0705a" opacity="0.8"/>
<rect x="477.24" y="575.29" width="0.8" height="0.8" fill="#d0705a" opacity="0.8"/>
<rect x="480.3" y="566.32" width="3.8" height="19.88" fill="#eda27f"/>
<line x1="482.2" y1="566.32" x2="482.2" y2="561.52" stroke="#8a4a3a" stroke-width="0.55"/>
<line x1="481.3" y1="561.52" x2="483.1" y2="561.52" stroke="#8a4a3a" stroke-width="0.55"/>
<rect x="481.71" y="567.99" width="0.8" height="0.8" fill="#8a4a3a" opacity="0.8"/>
<rect x="482.24" y="570.5" width="0.8" height="0.8" fill="#8a4a3a" opacity="0.8"/>
<rect x="480.73" y="563.51" width="0.8" height="0.8" fill="#8a4a3a" opacity="0.8"/>
<rect x="481.78" y="562.31" width="0.8" height="0.8" fill="#8a4a3a" opacity="0.8"/>
<line x1="453.2" y1="538.3" x2="453.2" y2="586.7" stroke="#111" stroke-width="1.1"/>
<line x1="452.7" y1="586.2" x2="485.5" y2="586.2" stroke="#111" stroke-width="1.1"/>
<line x1="450" y1="586.2" x2="453.2" y2="586.2" stroke="#111" stroke-width="0.8"/>
<text x="446.8" y="588.6" font-size="6.3" text-anchor="end">0</text>
<line x1="450" y1="574.78" x2="453.2" y2="574.78" stroke="#111" stroke-width="0.8"/>
<text x="446.8" y="577.18" font-size="6.3" text-anchor="end">5000</text>
<line x1="450" y1="563.35" x2="453.2" y2="563.35" stroke="#111" stroke-width="0.8"/>
<text x="446.8" y="565.75" font-size="6.3" text-anchor="end">10000</text>
<line x1="450" y1="551.92" x2="453.2" y2="551.92" stroke="#111" stroke-width="0.8"/>
<text x="446.8" y="554.32" font-size="6.3" text-anchor="end">15000</text>
<line x1="450" y1="540.5" x2="453.2" y2="540.5" stroke="#111" stroke-width="0.8"/>
<text x="446.8" y="542.9" font-size="6.3" text-anchor="end">20000</text>
<line x1="461.2" y1="586.2" x2="461.2" y2="588" stroke="#111" stroke-width="0.7"/>
<line x1="478.4" y1="586.2" x2="478.4" y2="588" stroke="#111" stroke-width="0.7"/>
<text x="422.8" y="561.85" font-size="8.1" text-anchor="middle" textLength="17.7" lengthAdjust="spacingAndGlyphs" transform="rotate(-90 422.8 561.85)" class="c">pg/mL</text>
<text x="461.2" y="598.4" font-size="6.8" text-anchor="middle">–</text>
<text x="478.4" y="598.4" font-size="6.8" text-anchor="middle">+</text>
<text x="81.9" y="608.4" font-size="7.2" text-anchor="middle">sFas</text>
<rect x="68.6" y="659.91" width="3.8" height="0.29" fill="#f7c9c0"/>
<line x1="70.5" y1="659.91" x2="70.5" y2="659.8" stroke="#e48a9a" stroke-width="0.55"/>
<line x1="69.6" y1="659.8" x2="71.4" y2="659.8" stroke="#e48a9a" stroke-width="0.55"/>
<rect x="70.77" y="659.51" width="0.8" height="0.8" fill="#e48a9a" opacity="0.8"/>
<rect x="69.64" y="659.4" width="0.8" height="0.8" fill="#e48a9a" opacity="0.8"/>
<rect x="70.55" y="659.45" width="0.8" height="0.8" fill="#e48a9a" opacity="0.8"/>
<rect x="69.24" y="659.47" width="0.8" height="0.8" fill="#e48a9a" opacity="0.8"/>
<rect x="72.4" y="659.91" width="3.8" height="0.29" fill="#f3ad98"/>
<line x1="74.3" y1="659.91" x2="74.3" y2="659.8" stroke="#d0705a" stroke-width="0.55"/>
<line x1="73.4" y1="659.8" x2="75.2" y2="659.8" stroke="#d0705a" stroke-width="0.55"/>
<rect x="73.65" y="659.63" width="0.8" height="0.8" fill="#d0705a" opacity="0.8"/>
<rect x="73.36" y="659.45" width="0.8" height="0.8" fill="#d0705a" opacity="0.8"/>
<rect x="73.5" y="659.51" width="0.8" height="0.8" fill="#d0705a" opacity="0.8"/>
<rect x="74.88" y="659.43" width="0.8" height="0.8" fill="#d0705a" opacity="0.8"/>
<rect x="76.2" y="655.61" width="3.8" height="4.59" fill="#eda27f"/>
<line x1="78.1" y1="655.61" x2="78.1" y2="649.3" stroke="#8a4a3a" stroke-width="0.55"/>
<line x1="77.2" y1="649.3" x2="79" y2="649.3" stroke="#8a4a3a" stroke-width="0.55"/>
<rect x="78.8" y="656.58" width="0.8" height="0.8" fill="#8a4a3a" opacity="0.8"/>
<rect x="78.39" y="659.8" width="0.8" height="0.8" fill="#8a4a3a" opacity="0.8"/>
<rect x="76.93" y="650" width="0.8" height="0.8" fill="#8a4a3a" opacity="0.8"/>
<rect x="77.83" y="652.36" width="0.8" height="0.8" fill="#8a4a3a" opacity="0.8"/>
<rect x="85.4" y="643.56" width="3.8" height="16.64" fill="#f7c9c0"/>
<line x1="87.3" y1="643.56" x2="87.3" y2="630.94" stroke="#e48a9a" stroke-width="0.55"/>
<line x1="86.4" y1="630.94" x2="88.2" y2="630.94" stroke="#e48a9a" stroke-width="0.55"/>
<rect x="86.26" y="630.52" width="0.8" height="0.8" fill="#e48a9a" opacity="0.8"/>
<rect x="87.74" y="642.05" width="0.8" height="0.8" fill="#e48a9a" opacity="0.8"/>
<rect x="86.48" y="639.31" width="0.8" height="0.8" fill="#e48a9a" opacity="0.8"/>
<rect x="87.87" y="654.77" width="0.8" height="0.8" fill="#e48a9a" opacity="0.8"/>
<rect x="89.2" y="642.99" width="3.8" height="17.21" fill="#f3ad98"/>
<line x1="91.1" y1="642.99" x2="91.1" y2="626.92" stroke="#d0705a" stroke-width="0.55"/>
<line x1="90.2" y1="626.92" x2="92" y2="626.92" stroke="#d0705a" stroke-width="0.55"/>
<rect x="91.79" y="643.5" width="0.8" height="0.8" fill="#d0705a" opacity="0.8"/>
<rect x="91.39" y="655.25" width="0.8" height="0.8" fill="#d0705a" opacity="0.8"/>
<rect x="91.62" y="631.51" width="0.8" height="0.8" fill="#d0705a" opacity="0.8"/>
<rect x="90.42" y="659.63" width="0.8" height="0.8" fill="#d0705a" opacity="0.8"/>
<rect x="93" y="651.02" width="3.8" height="9.18" fill="#eda27f"/>
<line x1="94.9" y1="651.02" x2="94.9" y2="644.13" stroke="#8a4a3a" stroke-width="0.55"/>
<line x1="94" y1="644.13" x2="95.8" y2="644.13" stroke="#8a4a3a" stroke-width="0.55"/>
<rect x="95.05" y="657.41" width="0.8" height="0.8" fill="#8a4a3a" opacity="0.8"/>
<rect x="95.51" y="652.82" width="0.8" height="0.8" fill="#8a4a3a" opacity="0.8"/>
<rect x="95.1" y="652.52" width="0.8" height="0.8" fill="#8a4a3a" opacity="0.8"/>
<rect x="93.93" y="645.05" width="0.8" height="0.8" fill="#8a4a3a" opacity="0.8"/>
<line x1="66.6" y1="612.1" x2="66.6" y2="660.7" stroke="#111" stroke-width="1.1"/>
<line x1="66.1" y1="660.2" x2="99.2" y2="660.2" stroke="#111" stroke-width="1.1"/>
<line x1="63.4" y1="660.2" x2="66.6" y2="660.2" stroke="#111" stroke-width="0.8"/>
<text x="60.2" y="662.6" font-size="6.3" text-anchor="end">0</text>
<line x1="63.4" y1="648.73" x2="66.6" y2="648.73" stroke="#111" stroke-width="0.8"/>
<text x="60.2" y="651.12" font-size="6.3" text-anchor="end">2</text>
<line x1="63.4" y1="637.25" x2="66.6" y2="637.25" stroke="#111" stroke-width="0.8"/>
<text x="60.2" y="639.65" font-size="6.3" text-anchor="end">4</text>
<line x1="63.4" y1="625.77" x2="66.6" y2="625.77" stroke="#111" stroke-width="0.8"/>
<text x="60.2" y="628.17" font-size="6.3" text-anchor="end">6</text>
<line x1="63.4" y1="614.3" x2="66.6" y2="614.3" stroke="#111" stroke-width="0.8"/>
<text x="60.2" y="616.7" font-size="6.3" text-anchor="end">8</text>
<line x1="74.3" y1="660.2" x2="74.3" y2="662" stroke="#111" stroke-width="0.7"/>
<line x1="91.1" y1="660.2" x2="91.1" y2="662" stroke="#111" stroke-width="0.7"/>
<text x="50.7" y="635.75" font-size="8.1" text-anchor="middle" textLength="17.7" lengthAdjust="spacingAndGlyphs" transform="rotate(-90 50.7 635.75)" class="c">pg/mL</text>
<text x="74.3" y="672.4" font-size="6.8" text-anchor="middle">–</text>
<text x="91.1" y="672.4" font-size="6.8" text-anchor="middle">+</text>
<text x="158" y="608.4" font-size="7.2" text-anchor="middle">sFasL</text>
<rect x="143.6" y="659.89" width="3.8" height="0.31" fill="#f7c9c0"/>
<line x1="145.5" y1="659.89" x2="145.5" y2="659.59" stroke="#e48a9a" stroke-width="0.55"/>
<line x1="144.6" y1="659.59" x2="146.4" y2="659.59" stroke="#e48a9a" stroke-width="0.55"/>
<rect x="145.46" y="659.71" width="0.8" height="0.8" fill="#e48a9a" opacity="0.8"/>
<rect x="144.44" y="659.61" width="0.8" height="0.8" fill="#e48a9a" opacity="0.8"/>
<rect x="145.09" y="659.5" width="0.8" height="0.8" fill="#e48a9a" opacity="0.8"/>
<rect x="145.01" y="659.51" width="0.8" height="0.8" fill="#e48a9a" opacity="0.8"/>
<rect x="147.4" y="659.89" width="3.8" height="0.31" fill="#f3ad98"/>
<line x1="149.3" y1="659.89" x2="149.3" y2="659.59" stroke="#d0705a" stroke-width="0.55"/>
<line x1="148.4" y1="659.59" x2="150.2" y2="659.59" stroke="#d0705a" stroke-width="0.55"/>
<rect x="148.36" y="659.65" width="0.8" height="0.8" fill="#d0705a" opacity="0.8"/>
<rect x="148.51" y="659.36" width="0.8" height="0.8" fill="#d0705a" opacity="0.8"/>
<rect x="149.53" y="659.38" width="0.8" height="0.8" fill="#d0705a" opacity="0.8"/>
<rect x="149.88" y="659.25" width="0.8" height="0.8" fill="#d0705a" opacity="0.8"/>
<rect x="151.2" y="659.89" width="3.8" height="0.31" fill="#eda27f"/>
<line x1="153.1" y1="659.89" x2="153.1" y2="659.59" stroke="#8a4a3a" stroke-width="0.55"/>
<line x1="152.2" y1="659.59" x2="154" y2="659.59" stroke="#8a4a3a" stroke-width="0.55"/>
<rect x="152.12" y="659.67" width="0.8" height="0.8" fill="#8a4a3a" opacity="0.8"/>
<rect x="152.87" y="659.34" width="0.8" height="0.8" fill="#8a4a3a" opacity="0.8"/>
<rect x="153.09" y="659.69" width="0.8" height="0.8" fill="#8a4a3a" opacity="0.8"/>
<rect x="153.44" y="659.24" width="0.8" height="0.8" fill="#8a4a3a" opacity="0.8"/>
<rect x="160.8" y="645.51" width="3.8" height="14.69" fill="#f7c9c0"/>
<line x1="162.7" y1="645.51" x2="162.7" y2="640" stroke="#e48a9a" stroke-width="0.55"/>
<line x1="161.8" y1="640" x2="163.6" y2="640" stroke="#e48a9a" stroke-width="0.55"/>
<rect x="161.86" y="648.55" width="0.8" height="0.8" fill="#e48a9a" opacity="0.8"/>
<rect x="163.35" y="651.09" width="0.8" height="0.8" fill="#e48a9a" opacity="0.8"/>
<rect x="162.8" y="648.5" width="0.8" height="0.8" fill="#e48a9a" opacity="0.8"/>
<rect x="162.51" y="644.65" width="0.8" height="0.8" fill="#e48a9a" opacity="0.8"/>
<rect x="164.6" y="644.29" width="3.8" height="15.91" fill="#f3ad98"/>
<line x1="166.5" y1="644.29" x2="166.5" y2="638.17" stroke="#d0705a" stroke-width="0.55"/>
<line x1="165.6" y1="638.17" x2="167.4" y2="638.17" stroke="#d0705a" stroke-width="0.55"/>
<rect x="166.82" y="643.53" width="0.8" height="0.8" fill="#d0705a" opacity="0.8"/>
<rect x="165.67" y="642.54" width="0.8" height="0.8" fill="#d0705a" opacity="0.8"/>
<rect x="166.05" y="649.07" width="0.8" height="0.8" fill="#d0705a" opacity="0.8"/>
<rect x="165.32" y="638.19" width="0.8" height="0.8" fill="#d0705a" opacity="0.8"/>
<rect x="168.4" y="642.45" width="3.8" height="17.75" fill="#eda27f"/>
<line x1="170.3" y1="642.45" x2="170.3" y2="637.25" stroke="#8a4a3a" stroke-width="0.55"/>
<line x1="169.4" y1="637.25" x2="171.2" y2="637.25" stroke="#8a4a3a" stroke-width="0.55"/>
<rect x="170.19" y="639.95" width="0.8" height="0.8" fill="#8a4a3a" opacity="0.8"/>
<rect x="169.26" y="645.94" width="0.8" height="0.8" fill="#8a4a3a" opacity="0.8"/>
<rect x="169.76" y="639.92" width="0.8" height="0.8" fill="#8a4a3a" opacity="0.8"/>
<rect x="169.86" y="643.12" width="0.8" height="0.8" fill="#8a4a3a" opacity="0.8"/>
<line x1="141.6" y1="612.1" x2="141.6" y2="660.7" stroke="#111" stroke-width="1.1"/>
<line x1="141.1" y1="660.2" x2="174.2" y2="660.2" stroke="#111" stroke-width="1.1"/>
<line x1="138.4" y1="660.2" x2="141.6" y2="660.2" stroke="#111" stroke-width="0.8"/>
<text x="135.2" y="662.6" font-size="6.3" text-anchor="end">0</text>
<line x1="138.4" y1="644.9" x2="141.6" y2="644.9" stroke="#111" stroke-width="0.8"/>
<text x="135.2" y="647.3" font-size="6.3" text-anchor="end">50</text>
<line x1="138.4" y1="629.6" x2="141.6" y2="629.6" stroke="#111" stroke-width="0.8"/>
<text x="135.2" y="632" font-size="6.3" text-anchor="end">100</text>
<line x1="138.4" y1="614.3" x2="141.6" y2="614.3" stroke="#111" stroke-width="0.8"/>
<text x="135.2" y="616.7" font-size="6.3" text-anchor="end">150</text>
<line x1="149.3" y1="660.2" x2="149.3" y2="662" stroke="#111" stroke-width="0.7"/>
<line x1="166.5" y1="660.2" x2="166.5" y2="662" stroke="#111" stroke-width="0.7"/>
<text x="119.7" y="635.75" font-size="8.1" text-anchor="middle" textLength="17.7" lengthAdjust="spacingAndGlyphs" transform="rotate(-90 119.7 635.75)" class="c">pg/mL</text>
<text x="149.3" y="672.4" font-size="6.8" text-anchor="middle">–</text>
<text x="166.5" y="672.4" font-size="6.8" text-anchor="middle">+</text>
<text x="227.4" y="608.4" font-size="7.2" text-anchor="middle">Granzyme A</text>
<rect x="214.3" y="660.11" width="3.8" height="0.09" fill="#f7c9c0"/>
<line x1="216.2" y1="660.11" x2="216.2" y2="660.02" stroke="#e48a9a" stroke-width="0.55"/>
<line x1="215.3" y1="660.02" x2="217.1" y2="660.02" stroke="#e48a9a" stroke-width="0.55"/>
<rect x="216.43" y="659.67" width="0.8" height="0.8" fill="#e48a9a" opacity="0.8"/>
<rect x="215.83" y="659.7" width="0.8" height="0.8" fill="#e48a9a" opacity="0.8"/>
<rect x="216.89" y="659.73" width="0.8" height="0.8" fill="#e48a9a" opacity="0.8"/>
<rect x="215.03" y="659.75" width="0.8" height="0.8" fill="#e48a9a" opacity="0.8"/>
<rect x="218.1" y="660.11" width="3.8" height="0.09" fill="#f3ad98"/>
<line x1="220" y1="660.11" x2="220" y2="660.02" stroke="#d0705a" stroke-width="0.55"/>
<line x1="219.1" y1="660.02" x2="220.9" y2="660.02" stroke="#d0705a" stroke-width="0.55"/>
<rect x="219.07" y="659.76" width="0.8" height="0.8" fill="#d0705a" opacity="0.8"/>
<rect x="219.09" y="659.74" width="0.8" height="0.8" fill="#d0705a" opacity="0.8"/>
<rect x="219.22" y="659.79" width="0.8" height="0.8" fill="#d0705a" opacity="0.8"/>
<rect x="219.75" y="659.75" width="0.8" height="0.8" fill="#d0705a" opacity="0.8"/>
<rect x="221.9" y="659.28" width="3.8" height="0.92" fill="#eda27f"/>
<line x1="223.8" y1="659.28" x2="223.8" y2="657.91" stroke="#8a4a3a" stroke-width="0.55"/>
<line x1="222.9" y1="657.91" x2="224.7" y2="657.91" stroke="#8a4a3a" stroke-width="0.55"/>
<rect x="222.46" y="659.79" width="0.8" height="0.8" fill="#8a4a3a" opacity="0.8"/>
<rect x="223.49" y="659.78" width="0.8" height="0.8" fill="#8a4a3a" opacity="0.8"/>
<rect x="223.91" y="659.22" width="0.8" height="0.8" fill="#8a4a3a" opacity="0.8"/>
<rect x="223.21" y="657.96" width="0.8" height="0.8" fill="#8a4a3a" opacity="0.8"/>
<rect x="231.5" y="657.91" width="3.8" height="2.3" fill="#f7c9c0"/>
<line x1="233.4" y1="657.91" x2="233.4" y2="654.69" stroke="#e48a9a" stroke-width="0.55"/>
<line x1="232.5" y1="654.69" x2="234.3" y2="654.69" stroke="#e48a9a" stroke-width="0.55"/>
<rect x="233.5" y="659.8" width="0.8" height="0.8" fill="#e48a9a" opacity="0.8"/>
<rect x="232.77" y="655.7" width="0.8" height="0.8" fill="#e48a9a" opacity="0.8"/>
<rect x="232.56" y="656.39" width="0.8" height="0.8" fill="#e48a9a" opacity="0.8"/>
<rect x="233.73" y="654.57" width="0.8" height="0.8" fill="#e48a9a" opacity="0.8"/>
<rect x="235.3" y="655.61" width="3.8" height="4.59" fill="#f3ad98"/>
<line x1="237.2" y1="655.61" x2="237.2" y2="651.02" stroke="#d0705a" stroke-width="0.55"/>
<line x1="236.3" y1="651.02" x2="238.1" y2="651.02" stroke="#d0705a" stroke-width="0.55"/>
<rect x="237.8" y="652.26" width="0.8" height="0.8" fill="#d0705a" opacity="0.8"/>
<rect x="236.9" y="657.91" width="0.8" height="0.8" fill="#d0705a" opacity="0.8"/>
<rect x="237.46" y="652.87" width="0.8" height="0.8" fill="#d0705a" opacity="0.8"/>
<rect x="236" y="656.32" width="0.8" height="0.8" fill="#d0705a" opacity="0.8"/>
<rect x="239.1" y="649.18" width="3.8" height="11.02" fill="#eda27f"/>
<line x1="241" y1="649.18" x2="241" y2="641.38" stroke="#8a4a3a" stroke-width="0.55"/>
<line x1="240.1" y1="641.38" x2="241.9" y2="641.38" stroke="#8a4a3a" stroke-width="0.55"/>
<rect x="239.73" y="646.62" width="0.8" height="0.8" fill="#8a4a3a" opacity="0.8"/>
<rect x="239.52" y="645.26" width="0.8" height="0.8" fill="#8a4a3a" opacity="0.8"/>
<rect x="240.56" y="649.57" width="0.8" height="0.8" fill="#8a4a3a" opacity="0.8"/>
<rect x="240.56" y="655.31" width="0.8" height="0.8" fill="#8a4a3a" opacity="0.8"/>
<line x1="212.6" y1="612.1" x2="212.6" y2="660.7" stroke="#111" stroke-width="1.1"/>
<line x1="212.1" y1="660.2" x2="244.2" y2="660.2" stroke="#111" stroke-width="1.1"/>
<line x1="209.4" y1="660.2" x2="212.6" y2="660.2" stroke="#111" stroke-width="0.8"/>
<text x="206.2" y="662.6" font-size="6.3" text-anchor="end">0</text>
<line x1="209.4" y1="651.02" x2="212.6" y2="651.02" stroke="#111" stroke-width="0.8"/>
<text x="206.2" y="653.42" font-size="6.3" text-anchor="end">100</text>
<line x1="209.4" y1="641.84" x2="212.6" y2="641.84" stroke="#111" stroke-width="0.8"/>
<text x="206.2" y="644.24" font-size="6.3" text-anchor="end">200</text>
<line x1="209.4" y1="632.66" x2="212.6" y2="632.66" stroke="#111" stroke-width="0.8"/>
<text x="206.2" y="635.06" font-size="6.3" text-anchor="end">300</text>
<line x1="209.4" y1="623.48" x2="212.6" y2="623.48" stroke="#111" stroke-width="0.8"/>
<text x="206.2" y="625.88" font-size="6.3" text-anchor="end">400</text>
<line x1="209.4" y1="614.3" x2="212.6" y2="614.3" stroke="#111" stroke-width="0.8"/>
<text x="206.2" y="616.7" font-size="6.3" text-anchor="end">500</text>
<line x1="220" y1="660.2" x2="220" y2="662" stroke="#111" stroke-width="0.7"/>
<line x1="237.2" y1="660.2" x2="237.2" y2="662" stroke="#111" stroke-width="0.7"/>
<text x="190.4" y="635.75" font-size="8.1" text-anchor="middle" textLength="17.7" lengthAdjust="spacingAndGlyphs" transform="rotate(-90 190.4 635.75)" class="c">pg/mL</text>
<text x="220" y="672.4" font-size="6.8" text-anchor="middle">–</text>
<text x="237.2" y="672.4" font-size="6.8" text-anchor="middle">+</text>
<text x="312.8" y="608.4" font-size="7.2" text-anchor="middle">Granzyme B</text>
<rect x="299.4" y="659.97" width="3.8" height="0.23" fill="#f7c9c0"/>
<line x1="301.3" y1="659.97" x2="301.3" y2="659.79" stroke="#e48a9a" stroke-width="0.55"/>
<line x1="300.4" y1="659.79" x2="302.2" y2="659.79" stroke="#e48a9a" stroke-width="0.55"/>
<rect x="301.31" y="659.41" width="0.8" height="0.8" fill="#e48a9a" opacity="0.8"/>
<rect x="301.79" y="659.46" width="0.8" height="0.8" fill="#e48a9a" opacity="0.8"/>
<rect x="301.2" y="659.67" width="0.8" height="0.8" fill="#e48a9a" opacity="0.8"/>
<rect x="301.72" y="659.41" width="0.8" height="0.8" fill="#e48a9a" opacity="0.8"/>
<rect x="303.2" y="659.97" width="3.8" height="0.23" fill="#f3ad98"/>
<line x1="305.1" y1="659.97" x2="305.1" y2="659.79" stroke="#d0705a" stroke-width="0.55"/>
<line x1="304.2" y1="659.79" x2="306" y2="659.79" stroke="#d0705a" stroke-width="0.55"/>
<rect x="303.97" y="659.54" width="0.8" height="0.8" fill="#d0705a" opacity="0.8"/>
<rect x="305.79" y="659.61" width="0.8" height="0.8" fill="#d0705a" opacity="0.8"/>
<rect x="304.3" y="659.73" width="0.8" height="0.8" fill="#d0705a" opacity="0.8"/>
<rect x="304.59" y="659.39" width="0.8" height="0.8" fill="#d0705a" opacity="0.8"/>
<rect x="307" y="659.97" width="3.8" height="0.23" fill="#eda27f"/>
<line x1="308.9" y1="659.97" x2="308.9" y2="659.79" stroke="#8a4a3a" stroke-width="0.55"/>
<line x1="308" y1="659.79" x2="309.8" y2="659.79" stroke="#8a4a3a" stroke-width="0.55"/>
<rect x="308.1" y="659.69" width="0.8" height="0.8" fill="#8a4a3a" opacity="0.8"/>
<rect x="308.14" y="659.41" width="0.8" height="0.8" fill="#8a4a3a" opacity="0.8"/>
<rect x="308.78" y="659.6" width="0.8" height="0.8" fill="#8a4a3a" opacity="0.8"/>
<rect x="308.48" y="659.45" width="0.8" height="0.8" fill="#8a4a3a" opacity="0.8"/>
<rect x="316.9" y="651.94" width="3.8" height="8.26" fill="#f7c9c0"/>
<line x1="318.8" y1="651.94" x2="318.8" y2="648.04" stroke="#e48a9a" stroke-width="0.55"/>
<line x1="317.9" y1="648.04" x2="319.7" y2="648.04" stroke="#e48a9a" stroke-width="0.55"/>
<rect x="318.56" y="655.13" width="0.8" height="0.8" fill="#e48a9a" opacity="0.8"/>
<rect x="317.51" y="655.53" width="0.8" height="0.8" fill="#e48a9a" opacity="0.8"/>
<rect x="318.83" y="654.2" width="0.8" height="0.8" fill="#e48a9a" opacity="0.8"/>
<rect x="318.82" y="653.4" width="0.8" height="0.8" fill="#e48a9a" opacity="0.8"/>
<rect x="320.7" y="646.89" width="3.8" height="13.31" fill="#f3ad98"/>
<line x1="322.6" y1="646.89" x2="322.6" y2="638.86" stroke="#d0705a" stroke-width="0.55"/>
<line x1="321.7" y1="638.86" x2="323.5" y2="638.86" stroke="#d0705a" stroke-width="0.55"/>
<rect x="321.36" y="652.44" width="0.8" height="0.8" fill="#d0705a" opacity="0.8"/>
<rect x="322.65" y="654.91" width="0.8" height="0.8" fill="#d0705a" opacity="0.8"/>
<rect x="321.58" y="640.14" width="0.8" height="0.8" fill="#d0705a" opacity="0.8"/>
<rect x="321.13" y="651.13" width="0.8" height="0.8" fill="#d0705a" opacity="0.8"/>
<rect x="324.5" y="644.36" width="3.8" height="15.84" fill="#eda27f"/>
<line x1="326.4" y1="644.36" x2="326.4" y2="636.79" stroke="#8a4a3a" stroke-width="0.55"/>
<line x1="325.5" y1="636.79" x2="327.3" y2="636.79" stroke="#8a4a3a" stroke-width="0.55"/>
<rect x="325.56" y="641.55" width="0.8" height="0.8" fill="#8a4a3a" opacity="0.8"/>
<rect x="326.32" y="650.01" width="0.8" height="0.8" fill="#8a4a3a" opacity="0.8"/>
<rect x="325.88" y="642.3" width="0.8" height="0.8" fill="#8a4a3a" opacity="0.8"/>
<rect x="326.31" y="649.75" width="0.8" height="0.8" fill="#8a4a3a" opacity="0.8"/>
<line x1="297.3" y1="612.1" x2="297.3" y2="660.7" stroke="#111" stroke-width="1.1"/>
<line x1="296.8" y1="660.2" x2="329.6" y2="660.2" stroke="#111" stroke-width="1.1"/>
<line x1="294.1" y1="660.2" x2="297.3" y2="660.2" stroke="#111" stroke-width="0.8"/>
<text x="290.9" y="662.6" font-size="6.3" text-anchor="end">0</text>
<line x1="294.1" y1="648.73" x2="297.3" y2="648.73" stroke="#111" stroke-width="0.8"/>
<text x="290.9" y="651.12" font-size="6.3" text-anchor="end">5000</text>
<line x1="294.1" y1="637.25" x2="297.3" y2="637.25" stroke="#111" stroke-width="0.8"/>
<text x="290.9" y="639.65" font-size="6.3" text-anchor="end">10000</text>
<line x1="294.1" y1="625.77" x2="297.3" y2="625.77" stroke="#111" stroke-width="0.8"/>
<text x="290.9" y="628.17" font-size="6.3" text-anchor="end">15000</text>
<line x1="294.1" y1="614.3" x2="297.3" y2="614.3" stroke="#111" stroke-width="0.8"/>
<text x="290.9" y="616.7" font-size="6.3" text-anchor="end">20000</text>
<line x1="305.1" y1="660.2" x2="305.1" y2="662" stroke="#111" stroke-width="0.7"/>
<line x1="322.6" y1="660.2" x2="322.6" y2="662" stroke="#111" stroke-width="0.7"/>
<text x="264.9" y="635.75" font-size="8.1" text-anchor="middle" textLength="17.7" lengthAdjust="spacingAndGlyphs" transform="rotate(-90 264.9 635.75)" class="c">pg/mL</text>
<text x="305.1" y="672.4" font-size="6.8" text-anchor="middle">–</text>
<text x="322.6" y="672.4" font-size="6.8" text-anchor="middle">+</text>
<text x="388.2" y="608.4" font-size="7.2" text-anchor="middle">Perforin</text>
<rect x="374.7" y="659.05" width="3.8" height="1.15" fill="#f7c9c0"/>
<line x1="376.6" y1="659.05" x2="376.6" y2="658.36" stroke="#e48a9a" stroke-width="0.55"/>
<line x1="375.7" y1="658.36" x2="377.5" y2="658.36" stroke="#e48a9a" stroke-width="0.55"/>
<rect x="376.62" y="659.16" width="0.8" height="0.8" fill="#e48a9a" opacity="0.8"/>
<rect x="376.15" y="658.45" width="0.8" height="0.8" fill="#e48a9a" opacity="0.8"/>
<rect x="376.84" y="659.08" width="0.8" height="0.8" fill="#e48a9a" opacity="0.8"/>
<rect x="376.23" y="658.19" width="0.8" height="0.8" fill="#e48a9a" opacity="0.8"/>
<rect x="378.5" y="659.05" width="3.8" height="1.15" fill="#f3ad98"/>
<line x1="380.4" y1="659.05" x2="380.4" y2="658.36" stroke="#d0705a" stroke-width="0.55"/>
<line x1="379.5" y1="658.36" x2="381.3" y2="658.36" stroke="#d0705a" stroke-width="0.55"/>
<rect x="379.42" y="658.64" width="0.8" height="0.8" fill="#d0705a" opacity="0.8"/>
<rect x="379.72" y="659.41" width="0.8" height="0.8" fill="#d0705a" opacity="0.8"/>
<rect x="379.05" y="658.52" width="0.8" height="0.8" fill="#d0705a" opacity="0.8"/>
<rect x="379.41" y="658.21" width="0.8" height="0.8" fill="#d0705a" opacity="0.8"/>
<rect x="382.3" y="658.36" width="3.8" height="1.84" fill="#eda27f"/>
<line x1="384.2" y1="658.36" x2="384.2" y2="657.22" stroke="#8a4a3a" stroke-width="0.55"/>
<line x1="383.3" y1="657.22" x2="385.1" y2="657.22" stroke="#8a4a3a" stroke-width="0.55"/>
<rect x="382.79" y="658.64" width="0.8" height="0.8" fill="#8a4a3a" opacity="0.8"/>
<rect x="384.33" y="656.71" width="0.8" height="0.8" fill="#8a4a3a" opacity="0.8"/>
<rect x="384.05" y="657.02" width="0.8" height="0.8" fill="#8a4a3a" opacity="0.8"/>
<rect x="383.42" y="659.14" width="0.8" height="0.8" fill="#8a4a3a" opacity="0.8"/>
<rect x="391.9" y="644.59" width="3.8" height="15.61" fill="#f7c9c0"/>
<line x1="393.8" y1="644.59" x2="393.8" y2="636.1" stroke="#e48a9a" stroke-width="0.55"/>
<line x1="392.9" y1="636.1" x2="394.7" y2="636.1" stroke="#e48a9a" stroke-width="0.55"/>
<rect x="392.55" y="644.24" width="0.8" height="0.8" fill="#e48a9a" opacity="0.8"/>
<rect x="393.11" y="635.75" width="0.8" height="0.8" fill="#e48a9a" opacity="0.8"/>
<rect x="394.1" y="650.64" width="0.8" height="0.8" fill="#e48a9a" opacity="0.8"/>
<rect x="394.34" y="651.2" width="0.8" height="0.8" fill="#e48a9a" opacity="0.8"/>
<rect x="395.7" y="649.87" width="3.8" height="10.33" fill="#f3ad98"/>
<line x1="397.6" y1="649.87" x2="397.6" y2="641.38" stroke="#d0705a" stroke-width="0.55"/>
<line x1="396.7" y1="641.38" x2="398.5" y2="641.38" stroke="#d0705a" stroke-width="0.55"/>
<rect x="397.31" y="650.35" width="0.8" height="0.8" fill="#d0705a" opacity="0.8"/>
<rect x="397.17" y="652.41" width="0.8" height="0.8" fill="#d0705a" opacity="0.8"/>
<rect x="396.18" y="655.32" width="0.8" height="0.8" fill="#d0705a" opacity="0.8"/>
<rect x="396.62" y="642.64" width="0.8" height="0.8" fill="#d0705a" opacity="0.8"/>
<rect x="399.5" y="644.59" width="3.8" height="15.61" fill="#eda27f"/>
<line x1="401.4" y1="644.59" x2="401.4" y2="637.25" stroke="#8a4a3a" stroke-width="0.55"/>
<line x1="400.5" y1="637.25" x2="402.3" y2="637.25" stroke="#8a4a3a" stroke-width="0.55"/>
<rect x="400.36" y="639.67" width="0.8" height="0.8" fill="#8a4a3a" opacity="0.8"/>
<rect x="401.87" y="636.62" width="0.8" height="0.8" fill="#8a4a3a" opacity="0.8"/>
<rect x="401.58" y="640.08" width="0.8" height="0.8" fill="#8a4a3a" opacity="0.8"/>
<rect x="401.51" y="642.89" width="0.8" height="0.8" fill="#8a4a3a" opacity="0.8"/>
<line x1="372.3" y1="612.1" x2="372.3" y2="660.7" stroke="#111" stroke-width="1.1"/>
<line x1="371.8" y1="660.2" x2="405.3" y2="660.2" stroke="#111" stroke-width="1.1"/>
<line x1="369.1" y1="660.2" x2="372.3" y2="660.2" stroke="#111" stroke-width="0.8"/>
<text x="365.9" y="662.6" font-size="6.3" text-anchor="end">0</text>
<line x1="369.1" y1="648.73" x2="372.3" y2="648.73" stroke="#111" stroke-width="0.8"/>
<text x="365.9" y="651.12" font-size="6.3" text-anchor="end">5</text>
<line x1="369.1" y1="637.25" x2="372.3" y2="637.25" stroke="#111" stroke-width="0.8"/>
<text x="365.9" y="639.65" font-size="6.3" text-anchor="end">10</text>
<line x1="369.1" y1="625.77" x2="372.3" y2="625.77" stroke="#111" stroke-width="0.8"/>
<text x="365.9" y="628.17" font-size="6.3" text-anchor="end">15</text>
<line x1="369.1" y1="614.3" x2="372.3" y2="614.3" stroke="#111" stroke-width="0.8"/>
<text x="365.9" y="616.7" font-size="6.3" text-anchor="end">20</text>
<line x1="380.4" y1="660.2" x2="380.4" y2="662" stroke="#111" stroke-width="0.7"/>
<line x1="397.6" y1="660.2" x2="397.6" y2="662" stroke="#111" stroke-width="0.7"/>
<text x="354.1" y="635.75" font-size="8.1" text-anchor="middle" textLength="17.7" lengthAdjust="spacingAndGlyphs" transform="rotate(-90 354.1 635.75)" class="c">pg/mL</text>
<text x="380.4" y="672.4" font-size="6.8" text-anchor="middle">–</text>
<text x="397.6" y="672.4" font-size="6.8" text-anchor="middle">+</text>
<rect x="86.55" y="548.81" width="0.9" height="0.9" fill="#c07070" opacity="0.75"/>
<rect x="92.05" y="552.84" width="0.9" height="0.9" fill="#c07070" opacity="0.75"/>
<rect x="96.05" y="566.4" width="0.9" height="0.9" fill="#c07070" opacity="0.75"/>
<rect x="94.15" y="566.4" width="0.9" height="0.9" fill="#c07070" opacity="0.75"/>
<rect x="162.55" y="549.93" width="0.9" height="0.9" fill="#c07070" opacity="0.75"/>
<rect x="167.55" y="576.99" width="0.9" height="0.9" fill="#c07070" opacity="0.75"/>
<rect x="171.05" y="572.48" width="0.9" height="0.9" fill="#c07070" opacity="0.75"/>
<rect x="232.55" y="542.7" width="0.9" height="0.9" fill="#c07070" opacity="0.75"/>
<rect x="237.05" y="568.66" width="0.9" height="0.9" fill="#c07070" opacity="0.75"/>
<rect x="239.55" y="573.24" width="0.9" height="0.9" fill="#c07070" opacity="0.75"/>
<rect x="318.05" y="542.7" width="0.9" height="0.9" fill="#c07070" opacity="0.75"/>
<rect x="323.55" y="570.18" width="0.9" height="0.9" fill="#c07070" opacity="0.75"/>
<rect x="326.55" y="567.89" width="0.9" height="0.9" fill="#c07070" opacity="0.75"/>
<rect x="393.05" y="547.89" width="0.9" height="0.9" fill="#c07070" opacity="0.75"/>
<rect x="397.55" y="546.06" width="0.9" height="0.9" fill="#c07070" opacity="0.75"/>
<rect x="401.55" y="566.21" width="0.9" height="0.9" fill="#c07070" opacity="0.75"/>
<rect x="481.05" y="549.19" width="0.9" height="0.9" fill="#c07070" opacity="0.75"/>
<rect x="473.55" y="560.62" width="0.9" height="0.9" fill="#c07070" opacity="0.75"/>
<rect x="77.05" y="633.93" width="0.9" height="0.9" fill="#c07070" opacity="0.75"/>
<rect x="86.55" y="629.91" width="0.9" height="0.9" fill="#c07070" opacity="0.75"/>
<rect x="90.05" y="626.47" width="0.9" height="0.9" fill="#c07070" opacity="0.75"/>
<rect x="94.55" y="636.8" width="0.9" height="0.9" fill="#c07070" opacity="0.75"/>
<rect x="161.55" y="635.27" width="0.9" height="0.9" fill="#c07070" opacity="0.75"/>
<rect x="166.55" y="629.15" width="0.9" height="0.9" fill="#c07070" opacity="0.75"/>
<rect x="170.05" y="628.54" width="0.9" height="0.9" fill="#c07070" opacity="0.75"/>
<rect x="232.05" y="645.06" width="0.9" height="0.9" fill="#c07070" opacity="0.75"/>
<rect x="236.05" y="643.23" width="0.9" height="0.9" fill="#c07070" opacity="0.75"/>
<rect x="240.55" y="616.6" width="0.9" height="0.9" fill="#c07070" opacity="0.75"/>
<rect x="317.55" y="637.95" width="0.9" height="0.9" fill="#c07070" opacity="0.75"/>
<rect x="323.05" y="626.47" width="0.9" height="0.9" fill="#c07070" opacity="0.75"/>
<rect x="326.55" y="616.14" width="0.9" height="0.9" fill="#c07070" opacity="0.75"/>
<rect x="393.55" y="618.44" width="0.9" height="0.9" fill="#c07070" opacity="0.75"/>
<rect x="398.05" y="620.73" width="0.9" height="0.9" fill="#c07070" opacity="0.75"/>
<rect x="401.55" y="618.44" width="0.9" height="0.9" fill="#c07070" opacity="0.75"/>
<text x="454.9" y="621.4" font-size="6.2" textLength="28.3" lengthAdjust="spacingAndGlyphs">Weeks on</text>
<text x="454.9" y="629.9" font-size="6.2" textLength="29.5" lengthAdjust="spacingAndGlyphs">venetoclax</text>
<rect x="455.9" y="637" width="1.3" height="1.3" fill="#e48a9a"/>
<text x="461.2" y="639.8" font-size="6.2">4</text>
<rect x="455.9" y="643.7" width="1.3" height="1.3" fill="#d0705a"/>
<text x="461.2" y="646.5" font-size="6.2">8</text>
<rect x="455.9" y="650.6" width="1.3" height="1.3" fill="#8a4a3a"/>
<text x="461.2" y="653.4" font-size="6.2">≥16</text>
</svg>
</body></html>
